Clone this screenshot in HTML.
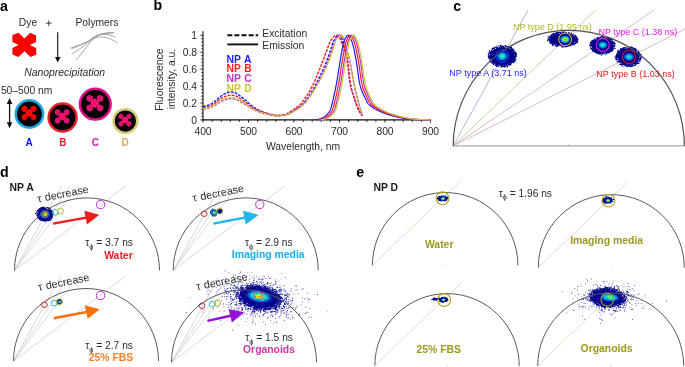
<!DOCTYPE html>
<html><head><meta charset="utf-8"><style>
html,body{margin:0;padding:0;background:#fff;width:685px;height:367px;overflow:hidden}
svg{display:block;font-family:"Liberation Sans",sans-serif;will-change:transform}
</style></head><body>
<svg width="685" height="367" viewBox="0 0 685 367" font-family="Liberation Sans, sans-serif"><text x="0.00" y="10.90" font-size="14.2" fill="#000" font-weight="bold" font-style="normal" text-anchor="start" >a</text>
<text x="153.60" y="10.30" font-size="14.2" fill="#000" font-weight="bold" font-style="normal" text-anchor="start" >b</text>
<text x="453.20" y="10.90" font-size="14.2" fill="#000" font-weight="bold" font-style="normal" text-anchor="start" >c</text>
<text x="0.00" y="177.00" font-size="14.2" fill="#000" font-weight="bold" font-style="normal" text-anchor="start" >d</text>
<text x="356.30" y="176.60" font-size="14.2" fill="#000" font-weight="bold" font-style="normal" text-anchor="start" >e</text>
<text x="18.80" y="25.80" font-size="10.3" fill="#2b2b2b" font-weight="normal" font-style="normal" text-anchor="start" >Dye</text>
<path d="M45.9 23.2 H51.5 M48.7 20.4 V26.0" stroke="#444" stroke-width="1.0"/>
<text x="75.50" y="26.10" font-size="10.3" fill="#2b2b2b" font-weight="normal" font-style="normal" text-anchor="start" >Polymers</text>
<polygon points="12.4,35.0 18.6,32.8 24.4,38.6 30.3,32.8 36.1,35.4 36.1,41.9 29.9,45.0 36.1,47.9 36.4,54.6 30.6,56.9 24.4,51.2 18.6,56.9 12.4,54.6 12.4,47.9 18.6,45.0 12.4,41.9" fill="#ff0000"/>
<line x1="57.7" y1="32.2" x2="57.7" y2="58" stroke="#222" stroke-width="1.2"/>
<polygon points="55,57 60.5,57 57.75,62.4" fill="#111"/>
<g fill="none" stroke="#8a8a8a" stroke-width="0.75"><path d="M70.5 48.1 C80 45 88 42 93 38.5 C100 33.5 106 32.3 114.1 32.4"/><path d="M71.2 48.8 C80 45.5 88 42.5 93.5 37.5 C100 33 108 33.5 115.6 37.3"/><path d="M71.9 54 C80 49 87 44 91.6 39.3 C97 34 106 33 113 33.3"/><path d="M75.9 60.4 C82 53 88 45 92 40 C97 35 108 36 117.6 43.2"/></g>
<text x="24.20" y="76.30" font-size="10.4" fill="#2b2b2b" font-weight="normal" font-style="italic" text-anchor="start" >Nanoprecipitation</text>
<text x="0.90" y="93.60" font-size="10.3" fill="#2b2b2b" font-weight="normal" font-style="normal" text-anchor="start" >50–500 nm</text>
<line x1="9.6" y1="103" x2="9.6" y2="123" stroke="#111" stroke-width="1.3"/>
<polygon points="6.8,104 12.4,104 9.6,98" fill="#111"/>
<polygon points="6.8,122.2 12.4,122.2 9.6,128.2" fill="#111"/>
<circle cx="29.4" cy="114.0" r="13.75" fill="#000" stroke="#1eaae6" stroke-width="2.5"/>
<polygon points="27.33,110.54 24.49,112.18 21.65,110.54 21.65,107.26 24.49,105.62 27.33,107.26" fill="#ff0000"/><polygon points="36.35,110.54 33.51,112.18 30.67,110.54 30.67,107.26 33.51,105.62 36.35,107.26" fill="#ff0000"/><polygon points="27.33,118.74 24.49,120.38 21.65,118.74 21.65,115.46 24.49,113.82 27.33,115.46" fill="#ff0000"/><polygon points="36.35,118.74 33.51,120.38 30.67,118.74 30.67,115.46 33.51,113.82 36.35,115.46" fill="#ff0000"/><polygon points="29.00,108.69 32.48,111.56 32.48,114.44 29.00,117.31 25.52,114.44 25.52,111.56" fill="#ff0a0a"/>
<circle cx="62.6" cy="117.5" r="13.95" fill="#000" stroke="#e0202a" stroke-width="2.5"/>
<polygon points="60.53,114.04 57.69,115.68 54.85,114.04 54.85,110.76 57.69,109.12 60.53,110.76" fill="#d81470"/><polygon points="69.55,114.04 66.71,115.68 63.87,114.04 63.87,110.76 66.71,109.12 69.55,110.76" fill="#d81470"/><polygon points="60.53,122.24 57.69,123.88 54.85,122.24 54.85,118.96 57.69,117.32 60.53,118.96" fill="#d81470"/><polygon points="69.55,122.24 66.71,123.88 63.87,122.24 63.87,118.96 66.71,117.32 69.55,118.96" fill="#d81470"/><polygon points="62.20,112.19 65.69,115.06 65.69,117.94 62.20,120.81 58.72,117.94 58.72,115.06" fill="#ff1070"/>
<circle cx="95.3" cy="104.2" r="15.350000000000001" fill="#000" stroke="#e0108c" stroke-width="2.5"/>
<polygon points="92.97,100.35 89.67,102.25 86.38,100.35 86.38,96.55 89.67,94.65 92.97,96.55" fill="#d8146c"/><polygon points="103.42,100.35 100.12,102.25 96.83,100.35 96.83,96.55 100.12,94.65 103.42,96.55" fill="#d8146c"/><polygon points="92.97,109.85 89.67,111.75 86.38,109.85 86.38,106.05 89.67,104.15 92.97,106.05" fill="#d8146c"/><polygon points="103.42,109.85 100.12,111.75 96.83,109.85 96.83,106.05 100.12,104.15 103.42,106.05" fill="#d8146c"/><polygon points="94.90,98.21 98.94,101.54 98.94,104.86 94.90,108.19 90.86,104.86 90.86,101.54" fill="#ff1070"/>
<circle cx="125.4" cy="121.1" r="11.85" fill="#000" stroke="#d6ca78" stroke-width="2.5"/>
<polygon points="123.51,117.91 120.98,119.37 118.46,117.91 118.46,114.99 120.98,113.53 123.51,114.99" fill="#d81468"/><polygon points="131.54,117.91 129.01,119.37 126.49,117.91 126.49,114.99 129.01,113.53 131.54,114.99" fill="#d81468"/><polygon points="123.51,125.21 120.98,126.67 118.46,125.21 118.46,122.29 120.98,120.83 123.51,122.29" fill="#d81468"/><polygon points="131.54,125.21 129.01,126.67 126.49,125.21 126.49,122.29 129.01,120.83 131.54,122.29" fill="#d81468"/><polygon points="125.00,116.27 128.10,118.82 128.10,121.38 125.00,123.93 121.90,121.38 121.90,118.82" fill="#ff1070"/>
<text x="29.20" y="145.90" font-size="10" fill="#0a0af0" font-weight="bold" font-style="normal" text-anchor="middle" >A</text>
<text x="62.90" y="145.90" font-size="10" fill="#ee1c2a" font-weight="bold" font-style="normal" text-anchor="middle" >B</text>
<text x="95.30" y="145.90" font-size="10" fill="#e0189a" font-weight="bold" font-style="normal" text-anchor="middle" >C</text>
<text x="125.20" y="145.90" font-size="10" fill="#d8a860" font-weight="bold" font-style="normal" text-anchor="middle" >D</text>
<line x1="203.0" y1="31.2" x2="203.0" y2="120.5" stroke="#111" stroke-width="1.1"/>
<line x1="202.5" y1="119.9" x2="431.0" y2="119.9" stroke="#111" stroke-width="1.1"/>
<path d="M200.40 119.90H203.0M201.40 116.52H203.0M201.40 113.13H203.0M201.40 109.75H203.0M201.40 106.36H203.0M200.40 102.98H203.0M201.40 99.60H203.0M201.40 96.21H203.0M201.40 92.83H203.0M201.40 89.44H203.0M200.40 86.06H203.0M201.40 82.68H203.0M201.40 79.29H203.0M201.40 75.91H203.0M201.40 72.52H203.0M200.40 69.14H203.0M201.40 65.76H203.0M201.40 62.37H203.0M201.40 58.99H203.0M201.40 55.60H203.0M200.40 52.22H203.0M201.40 48.84H203.0M201.40 45.45H203.0M201.40 42.07H203.0M201.40 38.68H203.0M200.40 35.30H203.0M203.00 119.9V122.50M212.10 119.9V121.90M221.20 119.9V121.90M230.30 119.9V121.90M239.40 119.9V121.90M248.50 119.9V122.50M257.60 119.9V121.90M266.70 119.9V121.90M275.80 119.9V121.90M284.90 119.9V121.90M294.00 119.9V122.50M303.10 119.9V121.90M312.20 119.9V121.90M321.30 119.9V121.90M330.40 119.9V121.90M339.50 119.9V122.50M348.60 119.9V121.90M357.70 119.9V121.90M366.80 119.9V121.90M375.90 119.9V121.90M385.00 119.9V122.50M394.10 119.9V121.90M403.20 119.9V121.90M412.30 119.9V121.90M421.40 119.9V121.90M430.50 119.9V122.50" stroke="#111" stroke-width="0.9"/>
<text x="197.00" y="123.50" font-size="10.3" fill="#2b2b2b" font-weight="normal" font-style="normal" text-anchor="end" >0</text>
<text x="197.00" y="106.58" font-size="10.3" fill="#2b2b2b" font-weight="normal" font-style="normal" text-anchor="end" >0.2</text>
<text x="197.00" y="89.66" font-size="10.3" fill="#2b2b2b" font-weight="normal" font-style="normal" text-anchor="end" >0.4</text>
<text x="197.00" y="72.74" font-size="10.3" fill="#2b2b2b" font-weight="normal" font-style="normal" text-anchor="end" >0.6</text>
<text x="197.00" y="55.82" font-size="10.3" fill="#2b2b2b" font-weight="normal" font-style="normal" text-anchor="end" >0.8</text>
<text x="197.00" y="38.90" font-size="10.3" fill="#2b2b2b" font-weight="normal" font-style="normal" text-anchor="end" >1</text>
<text x="203.00" y="134.50" font-size="10.3" fill="#2b2b2b" font-weight="normal" font-style="normal" text-anchor="middle" >400</text>
<text x="248.50" y="134.50" font-size="10.3" fill="#2b2b2b" font-weight="normal" font-style="normal" text-anchor="middle" >500</text>
<text x="294.00" y="134.50" font-size="10.3" fill="#2b2b2b" font-weight="normal" font-style="normal" text-anchor="middle" >600</text>
<text x="339.50" y="134.50" font-size="10.3" fill="#2b2b2b" font-weight="normal" font-style="normal" text-anchor="middle" >700</text>
<text x="385.00" y="134.50" font-size="10.3" fill="#2b2b2b" font-weight="normal" font-style="normal" text-anchor="middle" >800</text>
<text x="430.50" y="134.50" font-size="10.3" fill="#2b2b2b" font-weight="normal" font-style="normal" text-anchor="middle" >900</text>
<text x="303.00" y="150.10" font-size="10.3" fill="#2b2b2b" font-weight="normal" font-style="normal" text-anchor="middle" >Wavelength, nm</text>
<text transform="translate(163.3,79.6) rotate(-90)" font-size="10.4" fill="#2b2b2b" text-anchor="middle">Fluorescence</text>
<text transform="translate(175.3,79.0) rotate(-90)" font-size="10.4" fill="#2b2b2b" text-anchor="middle">intensity, a.u.</text>
<line x1="227.3" y1="35.2" x2="258.2" y2="35.2" stroke="#111" stroke-width="1.9" stroke-dasharray="5,2.1"/>
<line x1="227.3" y1="44.4" x2="258.2" y2="44.4" stroke="#111" stroke-width="1.9"/>
<text x="262.30" y="37.20" font-size="10.35" fill="#2b2b2b" font-weight="normal" font-style="normal" text-anchor="start" >Excitation</text>
<text x="262.30" y="49.30" font-size="10.35" fill="#2b2b2b" font-weight="normal" font-style="normal" text-anchor="start" >Emission</text>
<text x="226.60" y="62.50" font-size="10.3" fill="#1c1cff" font-weight="bold" font-style="normal" text-anchor="start" word-spacing="0.8">NP A</text>
<text x="226.60" y="72.33" font-size="10.3" fill="#ff1a1a" font-weight="bold" font-style="normal" text-anchor="start" word-spacing="0.8">NP B</text>
<text x="226.60" y="82.16" font-size="10.3" fill="#c030c8" font-weight="bold" font-style="normal" text-anchor="start" word-spacing="0.8">NP C</text>
<text x="226.60" y="91.99" font-size="10.3" fill="#c8c830" font-weight="bold" font-style="normal" text-anchor="start" word-spacing="0.8">NP D</text>
<path d="M203.00,106.70 L203.23,106.64 L203.46,106.57 L203.68,106.51 L203.91,106.44 L204.14,106.38 L204.37,106.32 L204.59,106.26 L204.82,106.20 L205.05,106.14 L205.28,106.08 L205.50,106.03 L205.73,105.97 L205.96,105.91 L206.19,105.85 L206.41,105.79 L206.64,105.73 L206.87,105.66 L207.09,105.60 L207.32,105.53 L207.55,105.47 L207.78,105.40 L208.00,105.33 L208.23,105.25 L208.46,105.18 L208.69,105.10 L208.91,105.02 L209.14,104.94 L209.37,104.85 L209.60,104.76 L209.82,104.67 L210.05,104.57 L210.28,104.47 L210.51,104.36 L210.74,104.24 L210.96,104.12 L211.19,103.99 L211.42,103.86 L211.65,103.72 L211.87,103.58 L212.10,103.43 L212.33,103.28 L212.56,103.13 L212.78,102.97 L213.01,102.81 L213.24,102.65 L213.47,102.48 L213.69,102.32 L213.92,102.15 L214.15,101.98 L214.38,101.81 L214.60,101.64 L214.83,101.46 L215.06,101.29 L215.28,101.12 L215.51,100.94 L215.74,100.76 L215.97,100.57 L216.19,100.37 L216.42,100.16 L216.65,99.95 L216.88,99.74 L217.10,99.52 L217.33,99.30 L217.56,99.08 L217.79,98.86 L218.01,98.64 L218.24,98.42 L218.47,98.20 L218.70,97.98 L218.93,97.77 L219.15,97.57 L219.38,97.36 L219.61,97.17 L219.84,96.98 L220.06,96.80 L220.29,96.64 L220.52,96.47 L220.75,96.31 L220.97,96.14 L221.20,95.98 L221.43,95.82 L221.66,95.67 L221.88,95.51 L222.11,95.36 L222.34,95.21 L222.56,95.06 L222.79,94.91 L223.02,94.77 L223.25,94.63 L223.47,94.50 L223.70,94.37 L223.93,94.24 L224.16,94.12 L224.38,94.00 L224.61,93.89 L224.84,93.79 L225.07,93.68 L225.30,93.59 L225.52,93.50 L225.75,93.40 L225.98,93.31 L226.21,93.21 L226.43,93.11 L226.66,93.02 L226.89,92.92 L227.12,92.83 L227.34,92.74 L227.57,92.66 L227.80,92.57 L228.03,92.50 L228.25,92.42 L228.48,92.35 L228.71,92.29 L228.94,92.23 L229.16,92.19 L229.39,92.14 L229.62,92.11 L229.84,92.09 L230.07,92.07 L230.30,92.07 L230.53,92.07 L230.75,92.08 L230.98,92.09 L231.21,92.10 L231.44,92.12 L231.66,92.15 L231.89,92.18 L232.12,92.21 L232.35,92.24 L232.57,92.28 L232.80,92.32 L233.03,92.37 L233.26,92.41 L233.49,92.46 L233.71,92.51 L233.94,92.56 L234.17,92.62 L234.40,92.68 L234.62,92.73 L234.85,92.79 L235.08,92.85 L235.31,92.91 L235.53,92.98 L235.76,93.06 L235.99,93.15 L236.22,93.26 L236.44,93.38 L236.67,93.50 L236.90,93.63 L237.12,93.78 L237.35,93.93 L237.58,94.08 L237.81,94.24 L238.03,94.41 L238.26,94.58 L238.49,94.75 L238.72,94.92 L238.94,95.10 L239.17,95.28 L239.40,95.45 L239.63,95.62 L239.86,95.80 L240.08,95.96 L240.31,96.13 L240.54,96.29 L240.76,96.46 L240.99,96.62 L241.22,96.79 L241.45,96.96 L241.68,97.14 L241.90,97.31 L242.13,97.49 L242.36,97.67 L242.59,97.85 L242.81,98.03 L243.04,98.21 L243.27,98.40 L243.50,98.58 L243.72,98.77 L243.95,98.96 L244.18,99.15 L244.41,99.34 L244.63,99.53 L244.86,99.72 L245.09,99.91 L245.31,100.10 L245.54,100.30 L245.77,100.50 L246.00,100.70 L246.22,100.91 L246.45,101.12 L246.68,101.33 L246.91,101.55 L247.13,101.77 L247.36,101.98 L247.59,102.20 L247.82,102.42 L248.05,102.64 L248.27,102.85 L248.50,103.07 L248.73,103.28 L248.95,103.49 L249.18,103.70 L249.41,103.90 L249.64,104.10 L249.87,104.30 L250.09,104.49 L250.32,104.67 L250.55,104.85 L250.78,105.03 L251.00,105.21 L251.23,105.39 L251.46,105.56 L251.69,105.73 L251.91,105.90 L252.14,106.07 L252.37,106.24 L252.59,106.40 L252.82,106.57 L253.05,106.73 L253.28,106.89 L253.50,107.04 L253.73,107.20 L253.96,107.35 L254.19,107.50 L254.41,107.65 L254.64,107.80 L254.87,107.94 L255.10,108.08 L255.32,108.23 L255.55,108.36 L255.78,108.50 L256.01,108.64 L256.24,108.77 L256.46,108.91 L256.69,109.04 L256.92,109.17 L257.14,109.30 L257.37,109.43 L257.60,109.55 L257.83,109.68 L258.06,109.80 L258.28,109.92 L258.51,110.04 L258.74,110.15 L258.97,110.26 L259.19,110.37 L259.42,110.48 L259.65,110.58 L259.88,110.68 L260.10,110.78 L260.33,110.87 L260.56,110.96 L260.79,111.05 L261.01,111.14 L261.24,111.22 L261.47,111.31 L261.69,111.39 L261.92,111.47 L262.15,111.55 L262.38,111.63 L262.61,111.71 L262.83,111.79 L263.06,111.86 L263.29,111.94 L263.51,112.01 L263.74,112.09 L263.97,112.16 L264.20,112.24 L264.43,112.31 L264.65,112.39 L264.88,112.47 L265.11,112.55 L265.33,112.62 L265.56,112.70 L265.79,112.79 L266.02,112.87 L266.25,112.95 L266.47,113.03 L266.70,113.12 L266.93,113.20 L267.15,113.29 L267.38,113.37 L267.61,113.45 L267.84,113.54 L268.06,113.62 L268.29,113.70 L268.52,113.78 L268.75,113.86 L268.98,113.94 L269.20,114.02 L269.43,114.09 L269.66,114.16 L269.88,114.23 L270.11,114.30 L270.34,114.36 L270.57,114.43 L270.80,114.49 L271.02,114.54 L271.25,114.60 L271.48,114.67 L271.70,114.73 L271.93,114.79 L272.16,114.85 L272.39,114.92 L272.62,114.98 L272.84,115.04 L273.07,115.10 L273.30,115.15 L273.52,115.21 L273.75,115.26 L273.98,115.30 L274.21,115.35 L274.44,115.38 L274.66,115.42 L274.89,115.45 L275.12,115.47 L275.35,115.49 L275.57,115.50 L275.80,115.50 L276.03,115.50 L276.25,115.50 L276.48,115.50 L276.71,115.50 L276.94,115.50 L277.17,115.49 L277.39,115.49 L277.62,115.49 L277.85,115.49 L278.07,115.48 L278.30,115.48 L278.53,115.48 L278.76,115.47 L278.99,115.47 L279.21,115.47 L279.44,115.46 L279.67,115.46 L279.89,115.45 L280.12,115.45 L280.35,115.44 L280.58,115.43 L280.81,115.43 L281.03,115.42 L281.26,115.42 L281.49,115.41 L281.72,115.40 L281.94,115.38 L282.17,115.36 L282.40,115.34 L282.62,115.31 L282.85,115.28 L283.08,115.25 L283.31,115.21 L283.53,115.17 L283.76,115.13 L283.99,115.09 L284.22,115.04 L284.44,114.99 L284.67,114.94 L284.90,114.89 L285.13,114.83 L285.36,114.78 L285.58,114.72 L285.81,114.66 L286.04,114.60 L286.26,114.54 L286.49,114.47 L286.72,114.41 L286.95,114.34 L287.18,114.28 L287.40,114.21 L287.63,114.15 L287.86,114.08 L288.09,114.00 L288.31,113.92 L288.54,113.83 L288.77,113.74 L289.00,113.64 L289.22,113.54 L289.45,113.43 L289.68,113.32 L289.90,113.21 L290.13,113.09 L290.36,112.96 L290.59,112.83 L290.81,112.70 L291.04,112.57 L291.27,112.43 L291.50,112.29 L291.73,112.15 L291.95,112.01 L292.18,111.86 L292.41,111.71 L292.63,111.56 L292.86,111.41 L293.09,111.26 L293.32,111.11 L293.55,110.96 L293.77,110.81 L294.00,110.65 L294.23,110.50 L294.45,110.35 L294.68,110.20 L294.91,110.05 L295.14,109.90 L295.37,109.75 L295.59,109.60 L295.82,109.45 L296.05,109.31 L296.27,109.16 L296.50,109.01 L296.73,108.86 L296.96,108.71 L297.19,108.56 L297.41,108.41 L297.64,108.26 L297.87,108.11 L298.10,107.95 L298.32,107.79 L298.55,107.64 L298.78,107.48 L299.00,107.31 L299.23,107.15 L299.46,106.98 L299.69,106.81 L299.92,106.64 L300.14,106.47 L300.37,106.29 L300.60,106.11 L300.82,105.93 L301.05,105.74 L301.28,105.55 L301.51,105.36 L301.74,105.17 L301.96,104.97 L302.19,104.76 L302.42,104.55 L302.64,104.34 L302.87,104.12 L303.10,103.90 L303.33,103.67 L303.56,103.43 L303.78,103.19 L304.01,102.93 L304.24,102.67 L304.47,102.40 L304.69,102.13 L304.92,101.85 L305.15,101.56 L305.38,101.27 L305.60,100.97 L305.83,100.67 L306.06,100.36 L306.28,100.05 L306.51,99.73 L306.74,99.41 L306.97,99.09 L307.19,98.76 L307.42,98.43 L307.65,98.10 L307.88,97.76 L308.11,97.42 L308.33,97.08 L308.56,96.74 L308.79,96.39 L309.01,96.05 L309.24,95.70 L309.47,95.35 L309.70,95.01 L309.93,94.66 L310.15,94.31 L310.38,93.96 L310.61,93.60 L310.84,93.24 L311.06,92.87 L311.29,92.50 L311.52,92.13 L311.75,91.75 L311.97,91.37 L312.20,90.98 L312.43,90.59 L312.65,90.20 L312.88,89.80 L313.11,89.40 L313.34,89.00 L313.56,88.59 L313.79,88.19 L314.02,87.77 L314.25,87.36 L314.48,86.94 L314.70,86.53 L314.93,86.11 L315.16,85.68 L315.38,85.26 L315.61,84.83 L315.84,84.40 L316.07,83.97 L316.30,83.54 L316.52,83.11 L316.75,82.68 L316.98,82.24 L317.20,81.80 L317.43,81.36 L317.66,80.92 L317.89,80.48 L318.12,80.03 L318.34,79.58 L318.57,79.13 L318.80,78.68 L319.02,78.23 L319.25,77.77 L319.48,77.31 L319.71,76.84 L319.94,76.38 L320.16,75.91 L320.39,75.44 L320.62,74.96 L320.85,74.48 L321.07,74.00 L321.30,73.52 L321.53,73.03 L321.75,72.54 L321.98,72.05 L322.21,71.55 L322.44,71.05 L322.67,70.55 L322.89,70.04 L323.12,69.53 L323.35,69.01 L323.57,68.50 L323.80,67.97 L324.03,67.45 L324.26,66.92 L324.49,66.38 L324.71,65.84 L324.94,65.29 L325.17,64.73 L325.39,64.17 L325.62,63.61 L325.85,63.04 L326.08,62.46 L326.31,61.88 L326.53,61.30 L326.76,60.71 L326.99,60.12 L327.22,59.52 L327.44,58.92 L327.67,58.32 L327.90,57.71 L328.12,57.11 L328.35,56.50 L328.58,55.88 L328.81,55.27 L329.04,54.65 L329.26,54.03 L329.49,53.41 L329.72,52.79 L329.94,52.17 L330.17,51.54 L330.40,50.89 L330.63,50.20 L330.86,49.48 L331.08,48.74 L331.31,47.99 L331.54,47.24 L331.76,46.48 L331.99,45.73 L332.22,45.00 L332.45,44.28 L332.68,43.59 L332.90,42.94 L333.13,42.32 L333.36,41.75 L333.59,41.23 L333.81,40.77 L334.04,40.38 L334.27,40.02 L334.50,39.66 L334.72,39.30 L334.95,38.95 L335.18,38.61 L335.40,38.27 L335.63,37.94 L335.86,37.63 L336.09,37.32 L336.31,37.04 L336.54,36.76 L336.77,36.51 L337.00,36.27 L337.23,36.06 L337.45,35.87 L337.68,35.70 L337.91,35.56 L338.13,35.45 L338.36,35.37 L338.59,35.32 L338.82,35.30 L339.05,35.32 L339.27,35.39 L339.50,35.49 L339.73,35.63 L339.96,35.80 L340.18,36.00 L340.41,36.22 L340.64,36.46 L340.87,36.72 L341.09,36.99 L341.32,37.35 L341.55,37.85 L341.77,38.48 L342.00,39.21 L342.23,40.03 L342.46,40.90 L342.69,41.82 L342.91,42.76 L343.14,43.69 L343.37,44.59 L343.60,45.45 L343.82,46.27 L344.05,47.08 L344.28,47.89 L344.50,48.69 L344.73,49.50 L344.96,50.31 L345.19,51.14 L345.41,51.98 L345.64,52.85 L345.87,53.75 L346.10,54.68 L346.33,55.65 L346.55,56.66 L346.78,57.72 L347.01,58.83 L347.24,60.00 L347.46,61.32 L347.69,62.84 L347.92,64.53 L348.14,66.36 L348.37,68.29 L348.60,70.29 L348.83,72.32 L349.06,74.35 L349.28,76.34 L349.51,78.27 L349.74,80.09 L349.97,81.77 L350.19,83.29 L350.42,84.59 L350.65,85.69 L350.88,86.71 L351.10,87.68 L351.33,88.60 L351.56,89.48 L351.78,90.31 L352.01,91.11 L352.24,91.88 L352.47,92.61 L352.69,93.33 L352.92,94.02 L353.15,94.71 L353.38,95.38 L353.61,96.05 L353.83,96.71 L354.06,97.38 L354.29,98.06 L354.51,98.75 L354.74,99.45 L354.97,100.15 L355.20,100.85 L355.43,101.55 L355.65,102.24 L355.88,102.92 L356.11,103.60 L356.34,104.26 L356.56,104.91 L356.79,105.55 L357.02,106.16 L357.25,106.76 L357.47,107.33 L357.70,107.88 L357.93,108.41 L358.15,108.90 L358.38,109.37 L358.61,109.82 L358.84,110.25 L359.06,110.67 L359.29,111.07 L359.52,111.46 L359.75,111.84 L359.98,112.21 L360.20,112.58 L360.43,112.93 L360.66,113.28 L360.88,113.63 L361.11,113.98 L361.34,114.33 L361.57,114.69 L361.80,115.05 L362.02,115.41 L362.25,115.78" fill="none" stroke="#1c1cff" stroke-width="1.45" stroke-dasharray="2.8,1.2"/>
<path d="M203.00,107.89 L203.23,107.83 L203.46,107.78 L203.68,107.72 L203.91,107.67 L204.14,107.61 L204.37,107.56 L204.59,107.51 L204.82,107.46 L205.05,107.40 L205.28,107.35 L205.50,107.30 L205.73,107.25 L205.96,107.20 L206.19,107.15 L206.41,107.09 L206.64,107.04 L206.87,106.98 L207.09,106.93 L207.32,106.87 L207.55,106.81 L207.78,106.75 L208.00,106.69 L208.23,106.63 L208.46,106.56 L208.69,106.50 L208.91,106.43 L209.14,106.35 L209.37,106.28 L209.60,106.20 L209.82,106.12 L210.05,106.03 L210.28,105.94 L210.51,105.85 L210.74,105.74 L210.96,105.64 L211.19,105.53 L211.42,105.41 L211.65,105.29 L211.87,105.17 L212.10,105.04 L212.33,104.91 L212.56,104.77 L212.78,104.63 L213.01,104.49 L213.24,104.35 L213.47,104.21 L213.69,104.06 L213.92,103.92 L214.15,103.77 L214.38,103.62 L214.60,103.47 L214.83,103.32 L215.06,103.17 L215.28,103.02 L215.51,102.86 L215.74,102.70 L215.97,102.53 L216.19,102.36 L216.42,102.18 L216.65,102.00 L216.88,101.81 L217.10,101.62 L217.33,101.43 L217.56,101.24 L217.79,101.04 L218.01,100.85 L218.24,100.66 L218.47,100.47 L218.70,100.28 L218.93,100.09 L219.15,99.91 L219.38,99.74 L219.61,99.57 L219.84,99.41 L220.06,99.25 L220.29,99.10 L220.52,98.96 L220.75,98.81 L220.97,98.67 L221.20,98.53 L221.43,98.39 L221.66,98.25 L221.88,98.12 L222.11,97.98 L222.34,97.85 L222.56,97.72 L222.79,97.60 L223.02,97.47 L223.25,97.35 L223.47,97.24 L223.70,97.12 L223.93,97.01 L224.16,96.91 L224.38,96.80 L224.61,96.71 L224.84,96.61 L225.07,96.53 L225.30,96.44 L225.52,96.36 L225.75,96.28 L225.98,96.19 L226.21,96.11 L226.43,96.03 L226.66,95.94 L226.89,95.86 L227.12,95.78 L227.34,95.70 L227.57,95.63 L227.80,95.56 L228.03,95.49 L228.25,95.42 L228.48,95.36 L228.71,95.31 L228.94,95.26 L229.16,95.22 L229.39,95.18 L229.62,95.15 L229.84,95.13 L230.07,95.12 L230.30,95.11 L230.53,95.11 L230.75,95.12 L230.98,95.13 L231.21,95.14 L231.44,95.16 L231.66,95.18 L231.89,95.21 L232.12,95.24 L232.35,95.27 L232.57,95.30 L232.80,95.34 L233.03,95.37 L233.26,95.41 L233.49,95.46 L233.71,95.50 L233.94,95.55 L234.17,95.60 L234.40,95.64 L234.62,95.69 L234.85,95.75 L235.08,95.80 L235.31,95.85 L235.53,95.91 L235.76,95.98 L235.99,96.06 L236.22,96.15 L236.44,96.25 L236.67,96.36 L236.90,96.48 L237.12,96.61 L237.35,96.74 L237.58,96.87 L237.81,97.01 L238.03,97.16 L238.26,97.31 L238.49,97.46 L238.72,97.61 L238.94,97.76 L239.17,97.91 L239.40,98.07 L239.63,98.22 L239.86,98.37 L240.08,98.52 L240.31,98.66 L240.54,98.80 L240.76,98.94 L240.99,99.09 L241.22,99.24 L241.45,99.39 L241.68,99.54 L241.90,99.69 L242.13,99.85 L242.36,100.00 L242.59,100.16 L242.81,100.32 L243.04,100.48 L243.27,100.64 L243.50,100.80 L243.72,100.96 L243.95,101.13 L244.18,101.29 L244.41,101.46 L244.63,101.63 L244.86,101.79 L245.09,101.96 L245.31,102.13 L245.54,102.30 L245.77,102.48 L246.00,102.65 L246.22,102.84 L246.45,103.02 L246.68,103.21 L246.91,103.39 L247.13,103.58 L247.36,103.77 L247.59,103.96 L247.82,104.15 L248.05,104.34 L248.27,104.53 L248.50,104.72 L248.73,104.91 L248.95,105.09 L249.18,105.27 L249.41,105.45 L249.64,105.62 L249.87,105.79 L250.09,105.96 L250.32,106.12 L250.55,106.28 L250.78,106.43 L251.00,106.59 L251.23,106.74 L251.46,106.89 L251.69,107.05 L251.91,107.19 L252.14,107.34 L252.37,107.49 L252.59,107.63 L252.82,107.77 L253.05,107.91 L253.28,108.05 L253.50,108.19 L253.73,108.33 L253.96,108.46 L254.19,108.59 L254.41,108.72 L254.64,108.85 L254.87,108.98 L255.10,109.10 L255.32,109.22 L255.55,109.34 L255.78,109.46 L256.01,109.58 L256.24,109.70 L256.46,109.82 L256.69,109.93 L256.92,110.05 L257.14,110.16 L257.37,110.27 L257.60,110.38 L257.83,110.49 L258.06,110.60 L258.28,110.70 L258.51,110.80 L258.74,110.90 L258.97,111.00 L259.19,111.10 L259.42,111.19 L259.65,111.28 L259.88,111.36 L260.10,111.45 L260.33,111.53 L260.56,111.61 L260.79,111.69 L261.01,111.77 L261.24,111.84 L261.47,111.92 L261.69,111.99 L261.92,112.06 L262.15,112.13 L262.38,112.20 L262.61,112.26 L262.83,112.33 L263.06,112.40 L263.29,112.46 L263.51,112.53 L263.74,112.60 L263.97,112.66 L264.20,112.73 L264.43,112.79 L264.65,112.86 L264.88,112.93 L265.11,113.00 L265.33,113.06 L265.56,113.13 L265.79,113.20 L266.02,113.28 L266.25,113.35 L266.47,113.42 L266.70,113.50 L266.93,113.57 L267.15,113.64 L267.38,113.72 L267.61,113.79 L267.84,113.86 L268.06,113.93 L268.29,114.00 L268.52,114.07 L268.75,114.14 L268.98,114.21 L269.20,114.28 L269.43,114.34 L269.66,114.41 L269.88,114.47 L270.11,114.53 L270.34,114.58 L270.57,114.64 L270.80,114.69 L271.02,114.74 L271.25,114.79 L271.48,114.85 L271.70,114.90 L271.93,114.96 L272.16,115.01 L272.39,115.07 L272.62,115.12 L272.84,115.17 L273.07,115.22 L273.30,115.27 L273.52,115.32 L273.75,115.36 L273.98,115.40 L274.21,115.44 L274.44,115.47 L274.66,115.50 L274.89,115.53 L275.12,115.55 L275.35,115.56 L275.57,115.57 L275.80,115.58 L276.03,115.58 L276.25,115.57 L276.48,115.57 L276.71,115.57 L276.94,115.56 L277.17,115.56 L277.39,115.55 L277.62,115.54 L277.85,115.54 L278.07,115.53 L278.30,115.52 L278.53,115.51 L278.76,115.50 L278.99,115.48 L279.21,115.47 L279.44,115.46 L279.67,115.44 L279.89,115.43 L280.12,115.41 L280.35,115.40 L280.58,115.38 L280.81,115.37 L281.03,115.35 L281.26,115.33 L281.49,115.31 L281.72,115.29 L281.94,115.25 L282.17,115.22 L282.40,115.18 L282.62,115.13 L282.85,115.08 L283.08,115.03 L283.31,114.97 L283.53,114.91 L283.76,114.85 L283.99,114.78 L284.22,114.71 L284.44,114.64 L284.67,114.56 L284.90,114.48 L285.13,114.40 L285.36,114.32 L285.58,114.24 L285.81,114.15 L286.04,114.07 L286.26,113.98 L286.49,113.90 L286.72,113.81 L286.95,113.72 L287.18,113.62 L287.40,113.52 L287.63,113.40 L287.86,113.29 L288.09,113.16 L288.31,113.04 L288.54,112.90 L288.77,112.77 L289.00,112.63 L289.22,112.48 L289.45,112.33 L289.68,112.18 L289.90,112.02 L290.13,111.87 L290.36,111.71 L290.59,111.55 L290.81,111.38 L291.04,111.22 L291.27,111.05 L291.50,110.89 L291.73,110.72 L291.95,110.56 L292.18,110.39 L292.41,110.23 L292.63,110.07 L292.86,109.91 L293.09,109.75 L293.32,109.59 L293.55,109.43 L293.77,109.28 L294.00,109.12 L294.23,108.97 L294.45,108.81 L294.68,108.66 L294.91,108.50 L295.14,108.35 L295.37,108.19 L295.59,108.03 L295.82,107.87 L296.05,107.71 L296.27,107.55 L296.50,107.39 L296.73,107.23 L296.96,107.06 L297.19,106.89 L297.41,106.72 L297.64,106.55 L297.87,106.37 L298.10,106.19 L298.32,106.01 L298.55,105.83 L298.78,105.64 L299.00,105.45 L299.23,105.25 L299.46,105.05 L299.69,104.85 L299.92,104.64 L300.14,104.43 L300.37,104.21 L300.60,103.99 L300.82,103.76 L301.05,103.52 L301.28,103.28 L301.51,103.03 L301.74,102.77 L301.96,102.51 L302.19,102.24 L302.42,101.96 L302.64,101.68 L302.87,101.39 L303.10,101.10 L303.33,100.80 L303.56,100.50 L303.78,100.19 L304.01,99.88 L304.24,99.56 L304.47,99.24 L304.69,98.92 L304.92,98.59 L305.15,98.26 L305.38,97.93 L305.60,97.59 L305.83,97.25 L306.06,96.90 L306.28,96.56 L306.51,96.21 L306.74,95.86 L306.97,95.51 L307.19,95.16 L307.42,94.80 L307.65,94.45 L307.88,94.09 L308.11,93.73 L308.33,93.36 L308.56,92.98 L308.79,92.60 L309.01,92.22 L309.24,91.83 L309.47,91.43 L309.70,91.04 L309.93,90.63 L310.15,90.22 L310.38,89.81 L310.61,89.40 L310.84,88.97 L311.06,88.55 L311.29,88.12 L311.52,87.69 L311.75,87.25 L311.97,86.81 L312.20,86.36 L312.43,85.91 L312.65,85.46 L312.88,85.01 L313.11,84.55 L313.34,84.08 L313.56,83.62 L313.79,83.15 L314.02,82.68 L314.25,82.20 L314.48,81.71 L314.70,81.22 L314.93,80.72 L315.16,80.21 L315.38,79.70 L315.61,79.18 L315.84,78.66 L316.07,78.13 L316.30,77.59 L316.52,77.05 L316.75,76.51 L316.98,75.96 L317.20,75.40 L317.43,74.85 L317.66,74.29 L317.89,73.73 L318.12,73.16 L318.34,72.60 L318.57,72.03 L318.80,71.46 L319.02,70.89 L319.25,70.31 L319.48,69.74 L319.71,69.17 L319.94,68.59 L320.16,68.02 L320.39,67.45 L320.62,66.87 L320.85,66.29 L321.07,65.71 L321.30,65.12 L321.53,64.52 L321.75,63.93 L321.98,63.32 L322.21,62.72 L322.44,62.11 L322.67,61.50 L322.89,60.89 L323.12,60.28 L323.35,59.67 L323.57,59.05 L323.80,58.44 L324.03,57.83 L324.26,57.21 L324.49,56.60 L324.71,55.99 L324.94,55.38 L325.17,54.78 L325.39,54.17 L325.62,53.57 L325.85,52.98 L326.08,52.38 L326.31,51.80 L326.53,51.20 L326.76,50.58 L326.99,49.95 L327.22,49.30 L327.44,48.65 L327.67,47.99 L327.90,47.33 L328.12,46.67 L328.35,46.02 L328.58,45.38 L328.81,44.75 L329.04,44.15 L329.26,43.56 L329.49,43.00 L329.72,42.46 L329.94,41.97 L330.17,41.50 L330.40,41.08 L330.63,40.70 L330.86,40.38 L331.08,40.07 L331.31,39.77 L331.54,39.47 L331.76,39.17 L331.99,38.88 L332.22,38.59 L332.45,38.31 L332.68,38.04 L332.90,37.77 L333.13,37.51 L333.36,37.26 L333.59,37.02 L333.81,36.79 L334.04,36.58 L334.27,36.38 L334.50,36.19 L334.72,36.02 L334.95,35.86 L335.18,35.72 L335.40,35.60 L335.63,35.50 L335.86,35.42 L336.09,35.36 L336.31,35.32 L336.54,35.30 L336.77,35.31 L337.00,35.37 L337.23,35.45 L337.45,35.58 L337.68,35.72 L337.91,35.90 L338.13,36.09 L338.36,36.30 L338.59,36.52 L338.82,36.76 L339.05,36.99 L339.27,37.27 L339.50,37.61 L339.73,38.02 L339.96,38.49 L340.18,39.01 L340.41,39.56 L340.64,40.15 L340.87,40.77 L341.09,41.41 L341.32,42.05 L341.55,42.70 L341.77,43.35 L342.00,43.99 L342.23,44.61 L342.46,45.21 L342.69,45.80 L342.91,46.38 L343.14,46.96 L343.37,47.54 L343.60,48.12 L343.82,48.70 L344.05,49.29 L344.28,49.90 L344.50,50.51 L344.73,51.14 L344.96,51.79 L345.19,52.47 L345.41,53.17 L345.64,53.89 L345.87,54.65 L346.10,55.44 L346.33,56.27 L346.55,57.14 L346.78,58.04 L347.01,59.00 L347.24,60.00 L347.46,61.17 L347.69,62.58 L347.92,64.21 L348.14,66.00 L348.37,67.92 L348.60,69.93 L348.83,72.00 L349.06,74.08 L349.28,76.12 L349.51,78.11 L349.74,79.99 L349.97,81.72 L350.19,83.26 L350.42,84.59 L350.65,85.69 L350.88,86.71 L351.10,87.68 L351.33,88.60 L351.56,89.48 L351.78,90.31 L352.01,91.11 L352.24,91.88 L352.47,92.61 L352.69,93.33 L352.92,94.02 L353.15,94.71 L353.38,95.38 L353.61,96.05 L353.83,96.71 L354.06,97.38 L354.29,98.06 L354.51,98.75 L354.74,99.45 L354.97,100.15 L355.20,100.85 L355.43,101.55 L355.65,102.24 L355.88,102.92 L356.11,103.60 L356.34,104.26 L356.56,104.91 L356.79,105.55 L357.02,106.16 L357.25,106.76 L357.47,107.33 L357.70,107.88 L357.93,108.41 L358.15,108.90 L358.38,109.37 L358.61,109.82 L358.84,110.25 L359.06,110.67 L359.29,111.07 L359.52,111.46 L359.75,111.84 L359.98,112.21 L360.20,112.58 L360.43,112.93 L360.66,113.28 L360.88,113.63 L361.11,113.98 L361.34,114.33 L361.57,114.69 L361.80,115.05 L362.02,115.41 L362.25,115.78" fill="none" stroke="#ff1a1a" stroke-width="1.45" stroke-dasharray="2.8,1.2"/>
<path d="M203.00,109.25 L203.23,109.20 L203.46,109.15 L203.68,109.11 L203.91,109.06 L204.14,109.02 L204.37,108.97 L204.59,108.93 L204.82,108.88 L205.05,108.84 L205.28,108.80 L205.50,108.76 L205.73,108.71 L205.96,108.67 L206.19,108.63 L206.41,108.58 L206.64,108.54 L206.87,108.49 L207.09,108.44 L207.32,108.40 L207.55,108.35 L207.78,108.30 L208.00,108.25 L208.23,108.19 L208.46,108.14 L208.69,108.08 L208.91,108.02 L209.14,107.96 L209.37,107.90 L209.60,107.84 L209.82,107.77 L210.05,107.70 L210.28,107.62 L210.51,107.54 L210.74,107.46 L210.96,107.37 L211.19,107.27 L211.42,107.18 L211.65,107.08 L211.87,106.97 L212.10,106.87 L212.33,106.76 L212.56,106.64 L212.78,106.53 L213.01,106.41 L213.24,106.29 L213.47,106.17 L213.69,106.05 L213.92,105.93 L214.15,105.81 L214.38,105.68 L214.60,105.56 L214.83,105.43 L215.06,105.30 L215.28,105.18 L215.51,105.05 L215.74,104.92 L215.97,104.78 L216.19,104.63 L216.42,104.48 L216.65,104.33 L216.88,104.17 L217.10,104.01 L217.33,103.85 L217.56,103.69 L217.79,103.53 L218.01,103.37 L218.24,103.21 L218.47,103.05 L218.70,102.89 L218.93,102.74 L219.15,102.59 L219.38,102.44 L219.61,102.30 L219.84,102.16 L220.06,102.03 L220.29,101.91 L220.52,101.79 L220.75,101.67 L220.97,101.55 L221.20,101.44 L221.43,101.32 L221.66,101.20 L221.88,101.09 L222.11,100.98 L222.34,100.87 L222.56,100.76 L222.79,100.66 L223.02,100.55 L223.25,100.45 L223.47,100.35 L223.70,100.26 L223.93,100.17 L224.16,100.08 L224.38,99.99 L224.61,99.91 L224.84,99.83 L225.07,99.76 L225.30,99.69 L225.52,99.62 L225.75,99.55 L225.98,99.48 L226.21,99.41 L226.43,99.34 L226.66,99.27 L226.89,99.21 L227.12,99.14 L227.34,99.07 L227.57,99.01 L227.80,98.95 L228.03,98.89 L228.25,98.84 L228.48,98.79 L228.71,98.74 L228.94,98.70 L229.16,98.67 L229.39,98.64 L229.62,98.61 L229.84,98.60 L230.07,98.58 L230.30,98.58 L230.53,98.58 L230.75,98.59 L230.98,98.60 L231.21,98.61 L231.44,98.62 L231.66,98.64 L231.89,98.66 L232.12,98.68 L232.35,98.71 L232.57,98.74 L232.80,98.77 L233.03,98.80 L233.26,98.83 L233.49,98.87 L233.71,98.91 L233.94,98.94 L234.17,98.98 L234.40,99.02 L234.62,99.07 L234.85,99.11 L235.08,99.15 L235.31,99.20 L235.53,99.25 L235.76,99.31 L235.99,99.37 L236.22,99.45 L236.44,99.53 L236.67,99.63 L236.90,99.72 L237.12,99.83 L237.35,99.94 L237.58,100.05 L237.81,100.17 L238.03,100.29 L238.26,100.41 L238.49,100.54 L238.72,100.66 L238.94,100.79 L239.17,100.92 L239.40,101.05 L239.63,101.17 L239.86,101.30 L240.08,101.42 L240.31,101.54 L240.54,101.66 L240.76,101.78 L240.99,101.90 L241.22,102.02 L241.45,102.15 L241.68,102.28 L241.90,102.40 L242.13,102.53 L242.36,102.66 L242.59,102.79 L242.81,102.93 L243.04,103.06 L243.27,103.19 L243.50,103.33 L243.72,103.47 L243.95,103.60 L244.18,103.74 L244.41,103.88 L244.63,104.02 L244.86,104.16 L245.09,104.30 L245.31,104.44 L245.54,104.58 L245.77,104.73 L246.00,104.88 L246.22,105.03 L246.45,105.18 L246.68,105.34 L246.91,105.49 L247.13,105.65 L247.36,105.81 L247.59,105.97 L247.82,106.13 L248.05,106.29 L248.27,106.44 L248.50,106.60 L248.73,106.75 L248.95,106.91 L249.18,107.06 L249.41,107.21 L249.64,107.35 L249.87,107.50 L250.09,107.63 L250.32,107.77 L250.55,107.90 L250.78,108.03 L251.00,108.16 L251.23,108.29 L251.46,108.42 L251.69,108.54 L251.91,108.67 L252.14,108.79 L252.37,108.91 L252.59,109.03 L252.82,109.15 L253.05,109.27 L253.28,109.38 L253.50,109.50 L253.73,109.61 L253.96,109.72 L254.19,109.83 L254.41,109.94 L254.64,110.05 L254.87,110.15 L255.10,110.26 L255.32,110.36 L255.55,110.46 L255.78,110.56 L256.01,110.66 L256.24,110.76 L256.46,110.86 L256.69,110.95 L256.92,111.05 L257.14,111.14 L257.37,111.24 L257.60,111.33 L257.83,111.42 L258.06,111.51 L258.28,111.59 L258.51,111.68 L258.74,111.76 L258.97,111.84 L259.19,111.92 L259.42,112.00 L259.65,112.07 L259.88,112.15 L260.10,112.22 L260.33,112.29 L260.56,112.35 L260.79,112.42 L261.01,112.48 L261.24,112.54 L261.47,112.61 L261.69,112.67 L261.92,112.73 L262.15,112.78 L262.38,112.84 L262.61,112.90 L262.83,112.95 L263.06,113.01 L263.29,113.06 L263.51,113.12 L263.74,113.17 L263.97,113.23 L264.20,113.28 L264.43,113.34 L264.65,113.39 L264.88,113.45 L265.11,113.51 L265.33,113.56 L265.56,113.62 L265.79,113.68 L266.02,113.74 L266.25,113.80 L266.47,113.86 L266.70,113.92 L266.93,113.99 L267.15,114.05 L267.38,114.11 L267.61,114.17 L267.84,114.23 L268.06,114.29 L268.29,114.35 L268.52,114.41 L268.75,114.47 L268.98,114.52 L269.20,114.58 L269.43,114.63 L269.66,114.69 L269.88,114.74 L270.11,114.79 L270.34,114.83 L270.57,114.88 L270.80,114.92 L271.02,114.96 L271.25,115.01 L271.48,115.05 L271.70,115.10 L271.93,115.14 L272.16,115.19 L272.39,115.24 L272.62,115.28 L272.84,115.32 L273.07,115.37 L273.30,115.41 L273.52,115.45 L273.75,115.48 L273.98,115.52 L274.21,115.55 L274.44,115.58 L274.66,115.60 L274.89,115.62 L275.12,115.64 L275.35,115.65 L275.57,115.66 L275.80,115.66 L276.03,115.66 L276.25,115.66 L276.48,115.66 L276.71,115.65 L276.94,115.65 L277.17,115.64 L277.39,115.63 L277.62,115.63 L277.85,115.62 L278.07,115.61 L278.30,115.60 L278.53,115.59 L278.76,115.58 L278.99,115.56 L279.21,115.55 L279.44,115.54 L279.67,115.52 L279.89,115.51 L280.12,115.50 L280.35,115.48 L280.58,115.46 L280.81,115.45 L281.03,115.43 L281.26,115.42 L281.49,115.40 L281.72,115.38 L281.94,115.35 L282.17,115.33 L282.40,115.30 L282.62,115.27 L282.85,115.24 L283.08,115.20 L283.31,115.16 L283.53,115.12 L283.76,115.08 L283.99,115.04 L284.22,114.99 L284.44,114.95 L284.67,114.90 L284.90,114.85 L285.13,114.80 L285.36,114.74 L285.58,114.69 L285.81,114.63 L286.04,114.57 L286.26,114.52 L286.49,114.46 L286.72,114.40 L286.95,114.34 L287.18,114.27 L287.40,114.21 L287.63,114.15 L287.86,114.08 L288.09,114.01 L288.31,113.94 L288.54,113.86 L288.77,113.78 L289.00,113.69 L289.22,113.61 L289.45,113.51 L289.68,113.42 L289.90,113.32 L290.13,113.22 L290.36,113.12 L290.59,113.01 L290.81,112.90 L291.04,112.79 L291.27,112.67 L291.50,112.55 L291.73,112.44 L291.95,112.31 L292.18,112.19 L292.41,112.07 L292.63,111.94 L292.86,111.81 L293.09,111.68 L293.32,111.55 L293.55,111.41 L293.77,111.28 L294.00,111.14 L294.23,111.01 L294.45,110.87 L294.68,110.73 L294.91,110.59 L295.14,110.45 L295.37,110.31 L295.59,110.17 L295.82,110.03 L296.05,109.89 L296.27,109.75 L296.50,109.61 L296.73,109.46 L296.96,109.32 L297.19,109.17 L297.41,109.02 L297.64,108.87 L297.87,108.72 L298.10,108.56 L298.32,108.40 L298.55,108.25 L298.78,108.08 L299.00,107.92 L299.23,107.75 L299.46,107.58 L299.69,107.41 L299.92,107.24 L300.14,107.06 L300.37,106.89 L300.60,106.70 L300.82,106.52 L301.05,106.33 L301.28,106.14 L301.51,105.95 L301.74,105.75 L301.96,105.56 L302.19,105.36 L302.42,105.15 L302.64,104.94 L302.87,104.73 L303.10,104.52 L303.33,104.30 L303.56,104.08 L303.78,103.85 L304.01,103.62 L304.24,103.38 L304.47,103.13 L304.69,102.88 L304.92,102.62 L305.15,102.35 L305.38,102.08 L305.60,101.80 L305.83,101.52 L306.06,101.23 L306.28,100.94 L306.51,100.65 L306.74,100.35 L306.97,100.04 L307.19,99.73 L307.42,99.42 L307.65,99.11 L307.88,98.79 L308.11,98.47 L308.33,98.15 L308.56,97.82 L308.79,97.50 L309.01,97.17 L309.24,96.84 L309.47,96.51 L309.70,96.18 L309.93,95.85 L310.15,95.51 L310.38,95.18 L310.61,94.85 L310.84,94.52 L311.06,94.19 L311.29,93.85 L311.52,93.52 L311.75,93.18 L311.97,92.84 L312.20,92.50 L312.43,92.15 L312.65,91.81 L312.88,91.46 L313.11,91.10 L313.34,90.75 L313.56,90.39 L313.79,90.03 L314.02,89.67 L314.25,89.31 L314.48,88.94 L314.70,88.57 L314.93,88.20 L315.16,87.82 L315.38,87.45 L315.61,87.06 L315.84,86.68 L316.07,86.29 L316.30,85.90 L316.52,85.51 L316.75,85.12 L316.98,84.72 L317.20,84.32 L317.43,83.91 L317.66,83.50 L317.89,83.09 L318.12,82.68 L318.34,82.26 L318.57,81.83 L318.80,81.41 L319.02,80.98 L319.25,80.54 L319.48,80.10 L319.71,79.66 L319.94,79.21 L320.16,78.76 L320.39,78.30 L320.62,77.84 L320.85,77.38 L321.07,76.91 L321.30,76.44 L321.53,75.97 L321.75,75.49 L321.98,75.01 L322.21,74.53 L322.44,74.04 L322.67,73.55 L322.89,73.06 L323.12,72.56 L323.35,72.06 L323.57,71.56 L323.80,71.06 L324.03,70.55 L324.26,70.04 L324.49,69.53 L324.71,69.01 L324.94,68.49 L325.17,67.97 L325.39,67.45 L325.62,66.92 L325.85,66.39 L326.08,65.85 L326.31,65.31 L326.53,64.77 L326.76,64.22 L326.99,63.67 L327.22,63.11 L327.44,62.55 L327.67,61.98 L327.90,61.41 L328.12,60.83 L328.35,60.26 L328.58,59.67 L328.81,59.09 L329.04,58.50 L329.26,57.91 L329.49,57.31 L329.72,56.71 L329.94,56.11 L330.17,55.50 L330.40,54.89 L330.63,54.28 L330.86,53.66 L331.08,53.04 L331.31,52.42 L331.54,51.80 L331.76,51.15 L331.99,50.46 L332.22,49.74 L332.45,48.99 L332.68,48.22 L332.90,47.44 L333.13,46.66 L333.36,45.89 L333.59,45.12 L333.81,44.38 L334.04,43.66 L334.27,42.98 L334.50,42.35 L334.72,41.76 L334.95,41.23 L335.18,40.77 L335.40,40.38 L335.63,40.03 L335.86,39.68 L336.09,39.33 L336.31,38.99 L336.54,38.66 L336.77,38.34 L337.00,38.02 L337.23,37.71 L337.45,37.42 L337.68,37.14 L337.91,36.87 L338.13,36.62 L338.36,36.39 L338.59,36.18 L338.82,35.98 L339.05,35.81 L339.27,35.66 L339.50,35.53 L339.73,35.43 L339.96,35.36 L340.18,35.32 L340.41,35.30 L340.64,35.32 L340.87,35.39 L341.09,35.49 L341.32,35.63 L341.55,35.81 L341.77,36.00 L342.00,36.23 L342.23,36.47 L342.46,36.72 L342.69,36.99 L342.91,37.35 L343.14,37.85 L343.37,38.47 L343.60,39.21 L343.82,40.02 L344.05,40.90 L344.28,41.82 L344.50,42.76 L344.73,43.70 L344.96,44.62 L345.19,45.49 L345.41,46.30 L345.64,47.06 L345.87,47.80 L346.10,48.53 L346.33,49.25 L346.55,49.96 L346.78,50.67 L347.01,51.38 L347.24,52.09 L347.46,52.80 L347.69,53.52 L347.92,54.26 L348.14,55.01 L348.37,55.78 L348.60,56.57 L348.83,57.38 L349.06,58.22 L349.28,59.10 L349.51,60.00 L349.74,60.96 L349.97,61.97 L350.19,63.03 L350.42,64.15 L350.65,65.30 L350.88,66.49 L351.10,67.71 L351.33,68.95 L351.56,70.22 L351.78,71.50 L352.01,72.79 L352.24,74.08 L352.47,75.38 L352.69,76.66 L352.92,77.94 L353.15,79.20 L353.38,80.43 L353.61,81.64 L353.83,82.82 L354.06,83.95 L354.29,85.04 L354.51,86.11 L354.74,87.16 L354.97,88.19 L355.20,89.22 L355.43,90.23 L355.65,91.22 L355.88,92.21 L356.11,93.18 L356.34,94.15 L356.56,95.10 L356.79,96.04 L357.02,96.97 L357.25,97.89 L357.47,98.80 L357.70,99.70 L357.93,100.60 L358.15,101.49 L358.38,102.37 L358.61,103.24 L358.84,104.10 L359.06,104.93 L359.29,105.75 L359.52,106.55 L359.75,107.32 L359.98,108.06 L360.20,108.77 L360.43,109.45 L360.66,110.10 L360.88,110.74 L361.11,111.37 L361.34,111.98 L361.57,112.60 L361.80,113.21 L362.02,113.82 L362.25,114.44" fill="none" stroke="#c030c8" stroke-width="1.45" stroke-dasharray="2.8,1.2"/>
<path d="M203.00,108.85 L203.23,108.80 L203.46,108.75 L203.68,108.70 L203.91,108.65 L204.14,108.60 L204.37,108.56 L204.59,108.51 L204.82,108.47 L205.05,108.42 L205.28,108.38 L205.50,108.33 L205.73,108.28 L205.96,108.24 L206.19,108.19 L206.41,108.15 L206.64,108.10 L206.87,108.05 L207.09,108.00 L207.32,107.95 L207.55,107.90 L207.78,107.85 L208.00,107.79 L208.23,107.74 L208.46,107.68 L208.69,107.62 L208.91,107.56 L209.14,107.49 L209.37,107.43 L209.60,107.36 L209.82,107.29 L210.05,107.21 L210.28,107.13 L210.51,107.04 L210.74,106.95 L210.96,106.86 L211.19,106.76 L211.42,106.66 L211.65,106.55 L211.87,106.44 L212.10,106.33 L212.33,106.21 L212.56,106.10 L212.78,105.97 L213.01,105.85 L213.24,105.73 L213.47,105.60 L213.69,105.47 L213.92,105.34 L214.15,105.21 L214.38,105.08 L214.60,104.94 L214.83,104.81 L215.06,104.68 L215.28,104.55 L215.51,104.41 L215.74,104.27 L215.97,104.12 L216.19,103.97 L216.42,103.81 L216.65,103.65 L216.88,103.48 L217.10,103.31 L217.33,103.14 L217.56,102.97 L217.79,102.80 L218.01,102.63 L218.24,102.46 L218.47,102.29 L218.70,102.13 L218.93,101.97 L219.15,101.81 L219.38,101.65 L219.61,101.50 L219.84,101.36 L220.06,101.22 L220.29,101.09 L220.52,100.96 L220.75,100.84 L220.97,100.71 L221.20,100.59 L221.43,100.46 L221.66,100.34 L221.88,100.22 L222.11,100.10 L222.34,99.99 L222.56,99.87 L222.79,99.76 L223.02,99.65 L223.25,99.54 L223.47,99.44 L223.70,99.34 L223.93,99.24 L224.16,99.15 L224.38,99.06 L224.61,98.97 L224.84,98.89 L225.07,98.81 L225.30,98.74 L225.52,98.67 L225.75,98.59 L225.98,98.52 L226.21,98.45 L226.43,98.37 L226.66,98.30 L226.89,98.23 L227.12,98.16 L227.34,98.09 L227.57,98.02 L227.80,97.96 L228.03,97.90 L228.25,97.84 L228.48,97.79 L228.71,97.74 L228.94,97.70 L229.16,97.66 L229.39,97.63 L229.62,97.60 L229.84,97.58 L230.07,97.57 L230.30,97.57 L230.53,97.57 L230.75,97.57 L230.98,97.58 L231.21,97.59 L231.44,97.61 L231.66,97.63 L231.89,97.65 L232.12,97.67 L232.35,97.70 L232.57,97.73 L232.80,97.76 L233.03,97.80 L233.26,97.83 L233.49,97.87 L233.71,97.91 L233.94,97.95 L234.17,97.99 L234.40,98.04 L234.62,98.08 L234.85,98.13 L235.08,98.17 L235.31,98.22 L235.53,98.27 L235.76,98.33 L235.99,98.40 L236.22,98.49 L236.44,98.57 L236.67,98.67 L236.90,98.77 L237.12,98.88 L237.35,99.00 L237.58,99.12 L237.81,99.24 L238.03,99.37 L238.26,99.50 L238.49,99.64 L238.72,99.77 L238.94,99.90 L239.17,100.04 L239.40,100.18 L239.63,100.31 L239.86,100.44 L240.08,100.57 L240.31,100.70 L240.54,100.82 L240.76,100.95 L240.99,101.08 L241.22,101.21 L241.45,101.34 L241.68,101.47 L241.90,101.61 L242.13,101.75 L242.36,101.88 L242.59,102.02 L242.81,102.16 L243.04,102.30 L243.27,102.45 L243.50,102.59 L243.72,102.73 L243.95,102.88 L244.18,103.02 L244.41,103.17 L244.63,103.32 L244.86,103.47 L245.09,103.61 L245.31,103.76 L245.54,103.91 L245.77,104.07 L246.00,104.23 L246.22,104.39 L246.45,104.55 L246.68,104.71 L246.91,104.88 L247.13,105.05 L247.36,105.21 L247.59,105.38 L247.82,105.55 L248.05,105.72 L248.27,105.88 L248.50,106.05 L248.73,106.21 L248.95,106.38 L249.18,106.54 L249.41,106.69 L249.64,106.85 L249.87,107.00 L250.09,107.14 L250.32,107.29 L250.55,107.43 L250.78,107.56 L251.00,107.70 L251.23,107.84 L251.46,107.97 L251.69,108.10 L251.91,108.23 L252.14,108.36 L252.37,108.49 L252.59,108.62 L252.82,108.75 L253.05,108.87 L253.28,108.99 L253.50,109.11 L253.73,109.23 L253.96,109.35 L254.19,109.47 L254.41,109.58 L254.64,109.70 L254.87,109.81 L255.10,109.92 L255.32,110.03 L255.55,110.13 L255.78,110.24 L256.01,110.34 L256.24,110.45 L256.46,110.55 L256.69,110.65 L256.92,110.76 L257.14,110.86 L257.37,110.95 L257.60,111.05 L257.83,111.15 L258.06,111.24 L258.28,111.33 L258.51,111.42 L258.74,111.51 L258.97,111.60 L259.19,111.68 L259.42,111.76 L259.65,111.84 L259.88,111.92 L260.10,111.99 L260.33,112.07 L260.56,112.14 L260.79,112.21 L261.01,112.27 L261.24,112.34 L261.47,112.40 L261.69,112.47 L261.92,112.53 L262.15,112.59 L262.38,112.65 L262.61,112.71 L262.83,112.77 L263.06,112.83 L263.29,112.89 L263.51,112.95 L263.74,113.00 L263.97,113.06 L264.20,113.12 L264.43,113.18 L264.65,113.24 L264.88,113.30 L265.11,113.36 L265.33,113.42 L265.56,113.48 L265.79,113.54 L266.02,113.61 L266.25,113.67 L266.47,113.73 L266.70,113.80 L266.93,113.86 L267.15,113.93 L267.38,113.99 L267.61,114.06 L267.84,114.12 L268.06,114.19 L268.29,114.25 L268.52,114.31 L268.75,114.37 L268.98,114.43 L269.20,114.49 L269.43,114.55 L269.66,114.60 L269.88,114.66 L270.11,114.71 L270.34,114.76 L270.57,114.81 L270.80,114.85 L271.02,114.90 L271.25,114.95 L271.48,114.99 L271.70,115.04 L271.93,115.09 L272.16,115.14 L272.39,115.19 L272.62,115.23 L272.84,115.28 L273.07,115.32 L273.30,115.37 L273.52,115.41 L273.75,115.45 L273.98,115.48 L274.21,115.52 L274.44,115.55 L274.66,115.57 L274.89,115.59 L275.12,115.61 L275.35,115.63 L275.57,115.63 L275.80,115.64 L276.03,115.64 L276.25,115.63 L276.48,115.63 L276.71,115.63 L276.94,115.62 L277.17,115.62 L277.39,115.61 L277.62,115.61 L277.85,115.60 L278.07,115.59 L278.30,115.58 L278.53,115.57 L278.76,115.56 L278.99,115.55 L279.21,115.54 L279.44,115.53 L279.67,115.51 L279.89,115.50 L280.12,115.49 L280.35,115.47 L280.58,115.46 L280.81,115.45 L281.03,115.43 L281.26,115.42 L281.49,115.40 L281.72,115.38 L281.94,115.36 L282.17,115.33 L282.40,115.30 L282.62,115.27 L282.85,115.24 L283.08,115.21 L283.31,115.17 L283.53,115.13 L283.76,115.09 L283.99,115.04 L284.22,115.00 L284.44,114.95 L284.67,114.90 L284.90,114.85 L285.13,114.80 L285.36,114.74 L285.58,114.69 L285.81,114.63 L286.04,114.57 L286.26,114.51 L286.49,114.45 L286.72,114.39 L286.95,114.33 L287.18,114.27 L287.40,114.21 L287.63,114.15 L287.86,114.08 L288.09,114.02 L288.31,113.94 L288.54,113.87 L288.77,113.79 L289.00,113.71 L289.22,113.63 L289.45,113.54 L289.68,113.45 L289.90,113.36 L290.13,113.27 L290.36,113.17 L290.59,113.07 L290.81,112.97 L291.04,112.86 L291.27,112.75 L291.50,112.65 L291.73,112.54 L291.95,112.42 L292.18,112.31 L292.41,112.19 L292.63,112.07 L292.86,111.95 L293.09,111.83 L293.32,111.71 L293.55,111.58 L293.77,111.46 L294.00,111.33 L294.23,111.20 L294.45,111.08 L294.68,110.95 L294.91,110.81 L295.14,110.68 L295.37,110.55 L295.59,110.42 L295.82,110.28 L296.05,110.15 L296.27,110.02 L296.50,109.88 L296.73,109.75 L296.96,109.61 L297.19,109.48 L297.41,109.34 L297.64,109.20 L297.87,109.06 L298.10,108.91 L298.32,108.77 L298.55,108.62 L298.78,108.47 L299.00,108.32 L299.23,108.17 L299.46,108.02 L299.69,107.86 L299.92,107.70 L300.14,107.54 L300.37,107.37 L300.60,107.21 L300.82,107.04 L301.05,106.86 L301.28,106.69 L301.51,106.51 L301.74,106.33 L301.96,106.15 L302.19,105.96 L302.42,105.77 L302.64,105.58 L302.87,105.38 L303.10,105.18 L303.33,104.97 L303.56,104.77 L303.78,104.56 L304.01,104.34 L304.24,104.12 L304.47,103.90 L304.69,103.67 L304.92,103.42 L305.15,103.17 L305.38,102.91 L305.60,102.64 L305.83,102.37 L306.06,102.09 L306.28,101.80 L306.51,101.50 L306.74,101.20 L306.97,100.89 L307.19,100.58 L307.42,100.26 L307.65,99.94 L307.88,99.62 L308.11,99.29 L308.33,98.96 L308.56,98.62 L308.79,98.28 L309.01,97.94 L309.24,97.60 L309.47,97.26 L309.70,96.92 L309.93,96.57 L310.15,96.23 L310.38,95.88 L310.61,95.54 L310.84,95.20 L311.06,94.86 L311.29,94.52 L311.52,94.18 L311.75,93.84 L311.97,93.50 L312.20,93.15 L312.43,92.81 L312.65,92.46 L312.88,92.11 L313.11,91.76 L313.34,91.40 L313.56,91.05 L313.79,90.69 L314.02,90.33 L314.25,89.97 L314.48,89.60 L314.70,89.24 L314.93,88.87 L315.16,88.50 L315.38,88.12 L315.61,87.75 L315.84,87.37 L316.07,86.99 L316.30,86.61 L316.52,86.23 L316.75,85.84 L316.98,85.45 L317.20,85.06 L317.43,84.67 L317.66,84.28 L317.89,83.88 L318.12,83.48 L318.34,83.08 L318.57,82.68 L318.80,82.27 L319.02,81.86 L319.25,81.46 L319.48,81.05 L319.71,80.64 L319.94,80.22 L320.16,79.81 L320.39,79.39 L320.62,78.98 L320.85,78.55 L321.07,78.13 L321.30,77.71 L321.53,77.28 L321.75,76.85 L321.98,76.41 L322.21,75.98 L322.44,75.54 L322.67,75.10 L322.89,74.65 L323.12,74.20 L323.35,73.75 L323.57,73.29 L323.80,72.83 L324.03,72.36 L324.26,71.89 L324.49,71.42 L324.71,70.94 L324.94,70.45 L325.17,69.97 L325.39,69.47 L325.62,68.97 L325.85,68.47 L326.08,67.96 L326.31,67.45 L326.53,66.93 L326.76,66.40 L326.99,65.86 L327.22,65.31 L327.44,64.76 L327.67,64.20 L327.90,63.63 L328.12,63.05 L328.35,62.47 L328.58,61.88 L328.81,61.29 L329.04,60.69 L329.26,60.08 L329.49,59.47 L329.72,58.85 L329.94,58.23 L330.17,57.60 L330.40,56.97 L330.63,56.34 L330.86,55.70 L331.08,55.05 L331.31,54.41 L331.54,53.76 L331.76,53.11 L331.99,52.45 L332.22,51.80 L332.45,51.11 L332.68,50.38 L332.90,49.60 L333.13,48.80 L333.36,47.97 L333.59,47.14 L333.81,46.30 L334.04,45.48 L334.27,44.67 L334.50,43.89 L334.72,43.15 L334.95,42.46 L335.18,41.83 L335.40,41.26 L335.63,40.78 L335.86,40.38 L336.09,40.03 L336.31,39.68 L336.54,39.34 L336.77,39.00 L337.00,38.67 L337.23,38.35 L337.45,38.04 L337.68,37.74 L337.91,37.45 L338.13,37.18 L338.36,36.92 L338.59,36.67 L338.82,36.44 L339.05,36.23 L339.27,36.04 L339.50,35.87 L339.73,35.71 L339.96,35.58 L340.18,35.48 L340.41,35.39 L340.64,35.34 L340.87,35.31 L341.09,35.30 L341.32,35.35 L341.55,35.44 L341.77,35.58 L342.00,35.75 L342.23,35.96 L342.46,36.19 L342.69,36.44 L342.91,36.71 L343.14,36.99 L343.37,37.35 L343.60,37.85 L343.82,38.47 L344.05,39.19 L344.28,39.99 L344.50,40.85 L344.73,41.76 L344.96,42.69 L345.19,43.63 L345.41,44.56 L345.64,45.45 L345.87,46.30 L346.10,47.11 L346.33,47.91 L346.55,48.72 L346.78,49.52 L347.01,50.33 L347.24,51.15 L347.46,51.97 L347.69,52.80 L347.92,53.64 L348.14,54.49 L348.37,55.36 L348.60,56.24 L348.83,57.15 L349.06,58.08 L349.28,59.03 L349.51,60.00 L349.74,61.02 L349.97,62.08 L350.19,63.18 L350.42,64.32 L350.65,65.49 L350.88,66.69 L351.10,67.91 L351.33,69.15 L351.56,70.41 L351.78,71.68 L352.01,72.95 L352.24,74.23 L352.47,75.50 L352.69,76.77 L352.92,78.02 L353.15,79.26 L353.38,80.47 L353.61,81.66 L353.83,82.83 L354.06,83.96 L354.29,85.04 L354.51,86.11 L354.74,87.16 L354.97,88.19 L355.20,89.22 L355.43,90.23 L355.65,91.22 L355.88,92.21 L356.11,93.18 L356.34,94.15 L356.56,95.10 L356.79,96.04 L357.02,96.97 L357.25,97.89 L357.47,98.80 L357.70,99.70 L357.93,100.60 L358.15,101.49 L358.38,102.37 L358.61,103.24 L358.84,104.10 L359.06,104.93 L359.29,105.75 L359.52,106.55 L359.75,107.32 L359.98,108.06 L360.20,108.77 L360.43,109.45 L360.66,110.10 L360.88,110.74 L361.11,111.37 L361.34,111.98 L361.57,112.60 L361.80,113.21 L362.02,113.82 L362.25,114.44" fill="none" stroke="#c8c830" stroke-width="1.45" stroke-dasharray="2.8,1.2"/>
<path d="M315.38,119.90 L315.61,119.86 L315.84,119.82 L316.07,119.78 L316.30,119.74 L316.52,119.70 L316.75,119.66 L316.98,119.62 L317.20,119.58 L317.43,119.54 L317.66,119.49 L317.89,119.44 L318.12,119.39 L318.34,119.34 L318.57,119.28 L318.80,119.22 L319.02,119.16 L319.25,119.10 L319.48,119.03 L319.71,118.96 L319.94,118.89 L320.16,118.82 L320.39,118.74 L320.62,118.66 L320.85,118.58 L321.07,118.49 L321.30,118.40 L321.53,118.31 L321.75,118.21 L321.98,118.11 L322.21,118.01 L322.44,117.90 L322.67,117.79 L322.89,117.67 L323.12,117.55 L323.35,117.42 L323.57,117.29 L323.80,117.15 L324.03,117.01 L324.26,116.87 L324.49,116.71 L324.71,116.55 L324.94,116.39 L325.17,116.21 L325.39,116.03 L325.62,115.85 L325.85,115.65 L326.08,115.45 L326.31,115.24 L326.53,115.02 L326.76,114.79 L326.99,114.56 L327.22,114.31 L327.44,114.06 L327.67,113.80 L327.90,113.52 L328.12,113.24 L328.35,112.95 L328.58,112.65 L328.81,112.33 L329.04,112.01 L329.26,111.67 L329.49,111.32 L329.72,110.96 L329.94,110.59 L330.17,110.17 L330.40,109.66 L330.63,109.06 L330.86,108.39 L331.08,107.66 L331.31,106.88 L331.54,106.04 L331.76,105.16 L331.99,104.26 L332.22,103.33 L332.45,102.38 L332.68,101.43 L332.90,100.48 L333.13,99.54 L333.36,98.61 L333.59,97.66 L333.81,96.67 L334.04,95.65 L334.27,94.61 L334.50,93.54 L334.72,92.45 L334.95,91.34 L335.18,90.21 L335.40,89.06 L335.63,87.89 L335.86,86.70 L336.09,85.50 L336.31,84.29 L336.54,83.06 L336.77,81.83 L337.00,80.56 L337.23,79.24 L337.45,77.88 L337.68,76.48 L337.91,75.05 L338.13,73.60 L338.36,72.14 L338.59,70.66 L338.82,69.19 L339.05,67.73 L339.27,66.28 L339.50,64.85 L339.73,63.45 L339.96,62.09 L340.18,60.77 L340.41,59.50 L340.64,58.20 L340.87,56.86 L341.09,55.51 L341.32,54.15 L341.55,52.79 L341.77,51.44 L342.00,50.12 L342.23,48.83 L342.46,47.59 L342.69,46.41 L342.91,45.30 L343.14,44.28 L343.37,43.34 L343.60,42.52 L343.82,41.81 L344.05,41.22 L344.28,40.71 L344.50,40.20 L344.73,39.71 L344.96,39.23 L345.19,38.76 L345.41,38.31 L345.64,37.88 L345.87,37.48 L346.10,37.10 L346.33,36.75 L346.55,36.43 L346.78,36.15 L347.01,35.90 L347.24,35.69 L347.46,35.52 L347.69,35.40 L347.92,35.33 L348.14,35.30 L348.37,35.34 L348.60,35.44 L348.83,35.60 L349.06,35.83 L349.28,36.10 L349.51,36.43 L349.74,36.79 L349.97,37.20 L350.19,37.64 L350.42,38.10 L350.65,38.59 L350.88,39.10 L351.10,39.62 L351.33,40.15 L351.56,40.69 L351.78,41.22 L352.01,41.79 L352.24,42.43 L352.47,43.14 L352.69,43.90 L352.92,44.73 L353.15,45.61 L353.38,46.54 L353.61,47.52 L353.83,48.53 L354.06,49.59 L354.29,50.67 L354.51,51.78 L354.74,52.92 L354.97,54.08 L355.20,55.25 L355.43,56.43 L355.65,57.62 L355.88,58.81 L356.11,60.00 L356.34,61.26 L356.56,62.63 L356.79,64.11 L357.02,65.68 L357.25,67.30 L357.47,68.98 L357.70,70.68 L357.93,72.39 L358.15,74.09 L358.38,75.76 L358.61,77.38 L358.84,78.94 L359.06,80.41 L359.29,81.77 L359.52,83.01 L359.75,84.11 L359.98,85.04 L360.20,85.87 L360.43,86.66 L360.66,87.41 L360.88,88.12 L361.11,88.79 L361.34,89.44 L361.57,90.06 L361.80,90.65 L362.02,91.22 L362.25,91.77 L362.48,92.30 L362.71,92.81 L362.93,93.32 L363.16,93.81 L363.39,94.30 L363.62,94.79 L363.84,95.27 L364.07,95.75 L364.30,96.24 L364.52,96.73 L364.75,97.22 L364.98,97.70 L365.21,98.19 L365.44,98.67 L365.66,99.14 L365.89,99.61 L366.12,100.07 L366.35,100.51 L366.57,100.95 L366.80,101.37 L367.03,101.78 L367.25,102.17 L367.48,102.54 L367.71,102.89 L367.94,103.23 L368.16,103.53 L368.39,103.82 L368.62,104.08 L368.85,104.32 L369.08,104.56 L369.30,104.78 L369.53,105.00 L369.76,105.21 L369.99,105.42 L370.21,105.61 L370.44,105.80 L370.67,105.99 L370.89,106.17 L371.12,106.34 L371.35,106.51 L371.58,106.68 L371.81,106.84 L372.03,106.99 L372.26,107.15 L372.49,107.30 L372.72,107.44 L372.94,107.59 L373.17,107.73 L373.40,107.87 L373.62,108.00 L373.85,108.14 L374.08,108.28 L374.31,108.41 L374.53,108.55 L374.76,108.68 L374.99,108.82 L375.22,108.95 L375.44,109.09 L375.67,109.22 L375.90,109.35 L376.13,109.48 L376.36,109.60 L376.58,109.73 L376.81,109.86 L377.04,109.98 L377.26,110.10 L377.49,110.22 L377.72,110.34 L377.95,110.46 L378.18,110.57 L378.40,110.69 L378.63,110.80 L378.86,110.91 L379.09,111.03 L379.31,111.14 L379.54,111.24 L379.77,111.35 L380.00,111.46 L380.22,111.56 L380.45,111.66 L380.68,111.77 L380.90,111.87 L381.13,111.97 L381.36,112.07 L381.59,112.16 L381.81,112.26 L382.04,112.36 L382.27,112.45 L382.50,112.54 L382.73,112.64 L382.95,112.73 L383.18,112.82 L383.41,112.91 L383.63,112.99 L383.86,113.08 L384.09,113.17 L384.32,113.25 L384.55,113.33 L384.77,113.42 L385.00,113.50 L385.23,113.58 L385.46,113.66 L385.68,113.74 L385.91,113.82 L386.14,113.90 L386.37,113.97 L386.59,114.05 L386.82,114.12 L387.05,114.20 L387.27,114.27 L387.50,114.34 L387.73,114.42 L387.96,114.49 L388.19,114.56 L388.41,114.63 L388.64,114.70 L388.87,114.77 L389.10,114.84 L389.32,114.91 L389.55,114.98 L389.78,115.05 L390.00,115.11 L390.23,115.18 L390.46,115.25 L390.69,115.31 L390.92,115.38 L391.14,115.45 L391.37,115.51 L391.60,115.58 L391.83,115.64 L392.05,115.71 L392.28,115.77 L392.51,115.84 L392.74,115.90 L392.96,115.96 L393.19,116.03 L393.42,116.09 L393.64,116.15 L393.87,116.21 L394.10,116.27 L394.33,116.34 L394.56,116.40 L394.78,116.46 L395.01,116.51 L395.24,116.57 L395.47,116.63 L395.69,116.69 L395.92,116.74 L396.15,116.80 L396.38,116.85 L396.60,116.91 L396.83,116.96 L397.06,117.02 L397.28,117.07 L397.51,117.12 L397.74,117.17 L397.97,117.22 L398.19,117.27 L398.42,117.32 L398.65,117.36 L398.88,117.41 L399.11,117.45 L399.33,117.50 L399.56,117.55 L399.79,117.59 L400.01,117.64 L400.24,117.69 L400.47,117.73 L400.70,117.78 L400.93,117.83 L401.15,117.87 L401.38,117.92 L401.61,117.96 L401.84,118.01 L402.06,118.05 L402.29,118.10 L402.52,118.14 L402.75,118.18 L402.97,118.23 L403.20,118.27 L403.43,118.31 L403.65,118.35 L403.88,118.39 L404.11,118.43 L404.34,118.47 L404.56,118.51 L404.79,118.55 L405.02,118.59 L405.25,118.63 L405.48,118.66 L405.70,118.70 L405.93,118.73 L406.16,118.77 L406.38,118.80 L406.61,118.83 L406.84,118.86 L407.07,118.89 L407.30,118.92 L407.52,118.95 L407.75,118.98 L407.98,119.00 L408.21,119.03 L408.43,119.05 L408.66,119.07 L408.89,119.10 L409.12,119.12 L409.34,119.13 L409.57,119.15 L409.80,119.17 L410.02,119.19 L410.25,119.20 L410.48,119.22 L410.71,119.24 L410.94,119.25 L411.16,119.27 L411.39,119.29 L411.62,119.30 L411.85,119.32 L412.07,119.33 L412.30,119.35 L412.53,119.36 L412.75,119.38 L412.98,119.39 L413.21,119.40 L413.44,119.42 L413.67,119.43 L413.89,119.44 L414.12,119.46 L414.35,119.47 L414.58,119.48 L414.80,119.49 L415.03,119.50 L415.26,119.52 L415.49,119.53 L415.71,119.54 L415.94,119.55 L416.17,119.56 L416.39,119.57 L416.62,119.58 L416.85,119.59 L417.08,119.60 L417.31,119.61 L417.53,119.62 L417.76,119.63 L417.99,119.64 L418.22,119.64 L418.44,119.65 L418.67,119.66 L418.90,119.67 L419.12,119.68 L419.35,119.68 L419.58,119.69 L419.81,119.70 L420.03,119.71 L420.26,119.71 L420.49,119.72 L420.72,119.72 L420.95,119.73 L421.17,119.74 L421.40,119.74 L421.63,119.75 L421.86,119.75 L422.08,119.76 L422.31,119.76 L422.54,119.77 L422.76,119.77 L422.99,119.78 L423.22,119.78 L423.45,119.79 L423.68,119.79 L423.90,119.79 L424.13,119.80 L424.36,119.80 L424.59,119.81 L424.81,119.81 L425.04,119.81 L425.27,119.82 L425.50,119.82 L425.72,119.83 L425.95,119.83 L426.18,119.83 L426.40,119.84 L426.63,119.84 L426.86,119.84 L427.09,119.85 L427.31,119.85 L427.54,119.85 L427.77,119.86 L428.00,119.86 L428.23,119.86 L428.45,119.87 L428.68,119.87 L428.91,119.87 L429.13,119.88 L429.36,119.88 L429.59,119.88 L429.82,119.89 L430.05,119.89 L430.27,119.90 L430.50,119.90" fill="none" stroke="#1c1cff" stroke-width="1.2"/>
<path d="M317.66,119.87 L317.89,119.83 L318.12,119.80 L318.34,119.76 L318.57,119.72 L318.80,119.68 L319.02,119.64 L319.25,119.60 L319.48,119.56 L319.71,119.51 L319.94,119.46 L320.16,119.41 L320.39,119.36 L320.62,119.30 L320.85,119.25 L321.07,119.18 L321.30,119.12 L321.53,119.06 L321.75,118.99 L321.98,118.92 L322.21,118.85 L322.44,118.77 L322.67,118.69 L322.89,118.61 L323.12,118.52 L323.35,118.44 L323.57,118.34 L323.80,118.25 L324.03,118.15 L324.26,118.05 L324.49,117.94 L324.71,117.83 L324.94,117.72 L325.17,117.60 L325.39,117.47 L325.62,117.34 L325.85,117.21 L326.08,117.07 L326.31,116.93 L326.53,116.77 L326.76,116.62 L326.99,116.45 L327.22,116.28 L327.44,116.11 L327.67,115.92 L327.90,115.73 L328.12,115.53 L328.35,115.32 L328.58,115.11 L328.81,114.89 L329.04,114.65 L329.26,114.41 L329.49,114.16 L329.72,113.90 L329.94,113.63 L330.17,113.36 L330.40,113.07 L330.63,112.77 L330.86,112.46 L331.08,112.14 L331.31,111.81 L331.54,111.46 L331.76,111.11 L331.99,110.74 L332.22,110.35 L332.45,109.87 L332.68,109.31 L332.90,108.67 L333.13,107.96 L333.36,107.20 L333.59,106.38 L333.81,105.52 L334.04,104.62 L334.27,103.70 L334.50,102.76 L334.72,101.81 L334.95,100.86 L335.18,99.92 L335.40,98.99 L335.63,98.04 L335.86,97.07 L336.09,96.06 L336.31,95.03 L336.54,93.97 L336.77,92.89 L337.00,91.79 L337.23,90.66 L337.45,89.52 L337.68,88.36 L337.91,87.18 L338.13,85.98 L338.36,84.78 L338.59,83.56 L338.82,82.32 L339.05,81.08 L339.27,79.78 L339.50,78.43 L339.73,77.05 L339.96,75.63 L340.18,74.18 L340.41,72.72 L340.64,71.25 L340.87,69.78 L341.09,68.31 L341.32,66.85 L341.55,65.42 L341.77,64.00 L342.00,62.63 L342.23,61.29 L342.46,60.00 L342.69,58.72 L342.91,57.40 L343.14,56.05 L343.37,54.69 L343.60,53.33 L343.82,51.98 L344.05,50.64 L344.28,49.34 L344.50,48.08 L344.73,46.88 L344.96,45.74 L345.19,44.68 L345.41,43.71 L345.64,42.83 L345.87,42.08 L346.10,41.44 L346.33,40.91 L346.55,40.41 L346.78,39.91 L347.01,39.42 L347.24,38.95 L347.46,38.49 L347.69,38.05 L347.92,37.64 L348.14,37.25 L348.37,36.89 L348.60,36.56 L348.83,36.26 L349.06,35.99 L349.28,35.77 L349.51,35.59 L349.74,35.44 L349.97,35.35 L350.19,35.30 L350.42,35.31 L350.65,35.39 L350.88,35.53 L351.10,35.73 L351.33,35.99 L351.56,36.29 L351.78,36.64 L352.01,37.03 L352.24,37.46 L352.47,37.91 L352.69,38.39 L352.92,38.90 L353.15,39.41 L353.38,39.94 L353.61,40.47 L353.83,41.01 L354.06,41.55 L354.29,42.17 L354.51,42.85 L354.74,43.59 L354.97,44.39 L355.20,45.25 L355.43,46.16 L355.65,47.12 L355.88,48.12 L356.11,49.16 L356.34,50.23 L356.56,51.34 L356.79,52.46 L357.02,53.61 L357.25,54.78 L357.47,55.96 L357.70,57.15 L357.93,58.34 L358.15,59.53 L358.38,60.74 L358.61,62.07 L358.84,63.51 L359.06,65.04 L359.29,66.65 L359.52,68.30 L359.75,70.00 L359.98,71.71 L360.20,73.41 L360.43,75.10 L360.66,76.74 L360.88,78.32 L361.11,79.83 L361.34,81.24 L361.57,82.53 L361.80,83.69 L362.02,84.69 L362.25,85.55 L362.48,86.35 L362.71,87.11 L362.93,87.84 L363.16,88.53 L363.39,89.18 L363.62,89.81 L363.84,90.41 L364.07,90.99 L364.30,91.55 L364.52,92.09 L364.75,92.61 L364.98,93.12 L365.21,93.62 L365.44,94.11 L365.66,94.59 L365.89,95.07 L366.12,95.56 L366.35,96.04 L366.57,96.53 L366.80,97.02 L367.03,97.51 L367.25,98.00 L367.48,98.48 L367.71,98.95 L367.94,99.42 L368.16,99.89 L368.39,100.34 L368.62,100.78 L368.85,101.20 L369.08,101.62 L369.30,102.01 L369.53,102.39 L369.76,102.75 L369.99,103.10 L370.21,103.41 L370.44,103.71 L370.67,103.98 L370.89,104.23 L371.12,104.46 L371.35,104.69 L371.58,104.91 L371.81,105.13 L372.03,105.33 L372.26,105.53 L372.49,105.73 L372.72,105.92 L372.94,106.10 L373.17,106.27 L373.40,106.44 L373.62,106.61 L373.85,106.77 L374.08,106.93 L374.31,107.09 L374.53,107.24 L374.76,107.38 L374.99,107.53 L375.22,107.67 L375.44,107.81 L375.67,107.95 L375.90,108.09 L376.13,108.22 L376.36,108.36 L376.58,108.49 L376.81,108.63 L377.04,108.76 L377.26,108.90 L377.49,109.03 L377.72,109.16 L377.95,109.30 L378.18,109.43 L378.40,109.55 L378.63,109.68 L378.86,109.81 L379.09,109.93 L379.31,110.05 L379.54,110.17 L379.77,110.29 L380.00,110.41 L380.22,110.53 L380.45,110.64 L380.68,110.76 L380.90,110.87 L381.13,110.98 L381.36,111.09 L381.59,111.20 L381.81,111.31 L382.04,111.41 L382.27,111.52 L382.50,111.62 L382.73,111.73 L382.95,111.83 L383.18,111.93 L383.41,112.03 L383.63,112.13 L383.86,112.22 L384.09,112.32 L384.32,112.41 L384.55,112.51 L384.77,112.60 L385.00,112.69 L385.23,112.78 L385.46,112.87 L385.68,112.96 L385.91,113.05 L386.14,113.13 L386.37,113.22 L386.59,113.30 L386.82,113.38 L387.05,113.47 L387.27,113.55 L387.50,113.63 L387.73,113.71 L387.96,113.79 L388.19,113.86 L388.41,113.94 L388.64,114.02 L388.87,114.09 L389.10,114.17 L389.32,114.24 L389.55,114.32 L389.78,114.39 L390.00,114.46 L390.23,114.53 L390.46,114.60 L390.69,114.67 L390.92,114.74 L391.14,114.81 L391.37,114.88 L391.60,114.95 L391.83,115.02 L392.05,115.09 L392.28,115.15 L392.51,115.22 L392.74,115.29 L392.96,115.35 L393.19,115.42 L393.42,115.49 L393.64,115.55 L393.87,115.62 L394.10,115.68 L394.33,115.75 L394.56,115.81 L394.78,115.87 L395.01,115.94 L395.24,116.00 L395.47,116.06 L395.69,116.13 L395.92,116.19 L396.15,116.25 L396.38,116.31 L396.60,116.37 L396.83,116.43 L397.06,116.49 L397.28,116.55 L397.51,116.61 L397.74,116.66 L397.97,116.72 L398.19,116.78 L398.42,116.83 L398.65,116.89 L398.88,116.94 L399.11,116.99 L399.33,117.05 L399.56,117.10 L399.79,117.15 L400.01,117.20 L400.24,117.25 L400.47,117.30 L400.70,117.34 L400.93,117.39 L401.15,117.44 L401.38,117.48 L401.61,117.53 L401.84,117.58 L402.06,117.62 L402.29,117.67 L402.52,117.71 L402.75,117.76 L402.97,117.81 L403.20,117.85 L403.43,117.90 L403.65,117.94 L403.88,117.99 L404.11,118.03 L404.34,118.08 L404.56,118.12 L404.79,118.17 L405.02,118.21 L405.25,118.25 L405.48,118.29 L405.70,118.34 L405.93,118.38 L406.16,118.42 L406.38,118.46 L406.61,118.50 L406.84,118.54 L407.07,118.57 L407.30,118.61 L407.52,118.65 L407.75,118.68 L407.98,118.72 L408.21,118.75 L408.43,118.79 L408.66,118.82 L408.89,118.85 L409.12,118.88 L409.34,118.91 L409.57,118.94 L409.80,118.97 L410.02,118.99 L410.25,119.02 L410.48,119.04 L410.71,119.07 L410.94,119.09 L411.16,119.11 L411.39,119.13 L411.62,119.15 L411.85,119.16 L412.07,119.18 L412.30,119.20 L412.53,119.21 L412.75,119.23 L412.98,119.25 L413.21,119.26 L413.44,119.28 L413.67,119.29 L413.89,119.31 L414.12,119.32 L414.35,119.34 L414.58,119.35 L414.80,119.37 L415.03,119.38 L415.26,119.39 L415.49,119.41 L415.71,119.42 L415.94,119.43 L416.17,119.45 L416.39,119.46 L416.62,119.47 L416.85,119.48 L417.08,119.49 L417.31,119.50 L417.53,119.52 L417.76,119.53 L417.99,119.54 L418.22,119.55 L418.44,119.56 L418.67,119.57 L418.90,119.58 L419.12,119.59 L419.35,119.60 L419.58,119.61 L419.81,119.62 L420.03,119.62 L420.26,119.63 L420.49,119.64 L420.72,119.65 L420.95,119.66 L421.17,119.67 L421.40,119.68 L421.63,119.68 L421.86,119.69 L422.08,119.70 L422.31,119.71 L422.54,119.71 L422.76,119.72 L422.99,119.73 L423.22,119.73 L423.45,119.74 L423.68,119.75 L423.90,119.75 L424.13,119.76 L424.36,119.77 L424.59,119.77 L424.81,119.78 L425.04,119.78 L425.27,119.79 L425.50,119.79 L425.72,119.80 L425.95,119.80 L426.18,119.81 L426.40,119.81 L426.63,119.82 L426.86,119.82 L427.09,119.83 L427.31,119.83 L427.54,119.84 L427.77,119.84 L428.00,119.85 L428.23,119.85 L428.45,119.86 L428.68,119.86 L428.91,119.87 L429.13,119.87 L429.36,119.88 L429.59,119.88 L429.82,119.88 L430.05,119.89 L430.27,119.89 L430.50,119.90" fill="none" stroke="#ff1a1a" stroke-width="1.2"/>
<path d="M319.48,119.90 L319.71,119.86 L319.94,119.82 L320.16,119.78 L320.39,119.74 L320.62,119.70 L320.85,119.66 L321.07,119.62 L321.30,119.58 L321.53,119.54 L321.75,119.49 L321.98,119.44 L322.21,119.39 L322.44,119.34 L322.67,119.28 L322.89,119.22 L323.12,119.16 L323.35,119.10 L323.57,119.03 L323.80,118.96 L324.03,118.89 L324.26,118.82 L324.49,118.74 L324.71,118.66 L324.94,118.58 L325.17,118.49 L325.39,118.40 L325.62,118.31 L325.85,118.21 L326.08,118.11 L326.31,118.01 L326.53,117.90 L326.76,117.79 L326.99,117.67 L327.22,117.55 L327.44,117.42 L327.67,117.29 L327.90,117.15 L328.12,117.01 L328.35,116.87 L328.58,116.71 L328.81,116.55 L329.04,116.39 L329.26,116.21 L329.49,116.03 L329.72,115.85 L329.94,115.65 L330.17,115.45 L330.40,115.24 L330.63,115.02 L330.86,114.79 L331.08,114.56 L331.31,114.31 L331.54,114.06 L331.76,113.80 L331.99,113.52 L332.22,113.24 L332.45,112.95 L332.68,112.65 L332.90,112.33 L333.13,112.01 L333.36,111.67 L333.59,111.32 L333.81,110.96 L334.04,110.59 L334.27,110.17 L334.50,109.66 L334.72,109.06 L334.95,108.39 L335.18,107.66 L335.40,106.88 L335.63,106.04 L335.86,105.16 L336.09,104.26 L336.31,103.33 L336.54,102.38 L336.77,101.43 L337.00,100.48 L337.23,99.54 L337.45,98.61 L337.68,97.66 L337.91,96.67 L338.13,95.65 L338.36,94.61 L338.59,93.54 L338.82,92.45 L339.05,91.34 L339.27,90.21 L339.50,89.06 L339.73,87.89 L339.96,86.70 L340.18,85.50 L340.41,84.29 L340.64,83.06 L340.87,81.83 L341.09,80.56 L341.32,79.24 L341.55,77.88 L341.77,76.48 L342.00,75.05 L342.23,73.60 L342.46,72.14 L342.69,70.66 L342.91,69.19 L343.14,67.73 L343.37,66.28 L343.60,64.85 L343.82,63.45 L344.05,62.09 L344.28,60.77 L344.50,59.50 L344.73,58.20 L344.96,56.86 L345.19,55.51 L345.41,54.15 L345.64,52.79 L345.87,51.44 L346.10,50.12 L346.33,48.83 L346.55,47.59 L346.78,46.41 L347.01,45.30 L347.24,44.28 L347.46,43.34 L347.69,42.52 L347.92,41.81 L348.14,41.22 L348.37,40.71 L348.60,40.20 L348.83,39.71 L349.06,39.23 L349.28,38.76 L349.51,38.31 L349.74,37.88 L349.97,37.48 L350.19,37.10 L350.42,36.75 L350.65,36.43 L350.88,36.15 L351.10,35.90 L351.33,35.69 L351.56,35.52 L351.78,35.40 L352.01,35.33 L352.24,35.30 L352.47,35.34 L352.69,35.44 L352.92,35.60 L353.15,35.83 L353.38,36.10 L353.61,36.43 L353.83,36.79 L354.06,37.20 L354.29,37.64 L354.51,38.10 L354.74,38.59 L354.97,39.10 L355.20,39.62 L355.43,40.15 L355.65,40.69 L355.88,41.22 L356.11,41.79 L356.34,42.43 L356.56,43.14 L356.79,43.90 L357.02,44.73 L357.25,45.61 L357.47,46.54 L357.70,47.52 L357.93,48.53 L358.15,49.59 L358.38,50.67 L358.61,51.78 L358.84,52.92 L359.06,54.08 L359.29,55.25 L359.52,56.43 L359.75,57.62 L359.98,58.81 L360.20,60.00 L360.43,61.26 L360.66,62.63 L360.88,64.11 L361.11,65.68 L361.34,67.30 L361.57,68.98 L361.80,70.68 L362.02,72.39 L362.25,74.09 L362.48,75.76 L362.71,77.38 L362.93,78.94 L363.16,80.41 L363.39,81.77 L363.62,83.01 L363.84,84.11 L364.07,85.04 L364.30,85.87 L364.52,86.66 L364.75,87.41 L364.98,88.12 L365.21,88.79 L365.44,89.44 L365.66,90.06 L365.89,90.65 L366.12,91.22 L366.35,91.77 L366.57,92.30 L366.80,92.81 L367.03,93.32 L367.25,93.81 L367.48,94.30 L367.71,94.79 L367.94,95.27 L368.16,95.75 L368.39,96.24 L368.62,96.73 L368.85,97.22 L369.08,97.70 L369.30,98.19 L369.53,98.67 L369.76,99.14 L369.99,99.61 L370.21,100.07 L370.44,100.51 L370.67,100.95 L370.89,101.37 L371.12,101.78 L371.35,102.17 L371.58,102.54 L371.81,102.89 L372.03,103.23 L372.26,103.53 L372.49,103.82 L372.72,104.08 L372.94,104.32 L373.17,104.56 L373.40,104.78 L373.62,105.00 L373.85,105.21 L374.08,105.42 L374.31,105.61 L374.53,105.80 L374.76,105.99 L374.99,106.17 L375.22,106.34 L375.44,106.51 L375.67,106.68 L375.90,106.84 L376.13,106.99 L376.36,107.15 L376.58,107.30 L376.81,107.44 L377.04,107.59 L377.26,107.73 L377.49,107.87 L377.72,108.00 L377.95,108.14 L378.18,108.28 L378.40,108.41 L378.63,108.55 L378.86,108.68 L379.09,108.82 L379.31,108.95 L379.54,109.09 L379.77,109.22 L380.00,109.35 L380.22,109.48 L380.45,109.60 L380.68,109.73 L380.90,109.86 L381.13,109.98 L381.36,110.10 L381.59,110.22 L381.81,110.34 L382.04,110.46 L382.27,110.57 L382.50,110.69 L382.73,110.80 L382.95,110.91 L383.18,111.03 L383.41,111.14 L383.63,111.24 L383.86,111.35 L384.09,111.46 L384.32,111.56 L384.55,111.66 L384.77,111.77 L385.00,111.87 L385.23,111.97 L385.46,112.07 L385.68,112.16 L385.91,112.26 L386.14,112.36 L386.37,112.45 L386.59,112.54 L386.82,112.64 L387.05,112.73 L387.27,112.82 L387.50,112.91 L387.73,112.99 L387.96,113.08 L388.19,113.17 L388.41,113.25 L388.64,113.33 L388.87,113.42 L389.10,113.50 L389.32,113.58 L389.55,113.66 L389.78,113.74 L390.00,113.82 L390.23,113.90 L390.46,113.97 L390.69,114.05 L390.92,114.12 L391.14,114.20 L391.37,114.27 L391.60,114.34 L391.83,114.42 L392.05,114.49 L392.28,114.56 L392.51,114.63 L392.74,114.70 L392.96,114.77 L393.19,114.84 L393.42,114.91 L393.64,114.98 L393.87,115.05 L394.10,115.11 L394.33,115.18 L394.56,115.25 L394.78,115.31 L395.01,115.38 L395.24,115.45 L395.47,115.51 L395.69,115.58 L395.92,115.64 L396.15,115.71 L396.38,115.77 L396.60,115.84 L396.83,115.90 L397.06,115.96 L397.28,116.03 L397.51,116.09 L397.74,116.15 L397.97,116.21 L398.19,116.27 L398.42,116.34 L398.65,116.40 L398.88,116.46 L399.11,116.51 L399.33,116.57 L399.56,116.63 L399.79,116.69 L400.01,116.74 L400.24,116.80 L400.47,116.85 L400.70,116.91 L400.93,116.96 L401.15,117.02 L401.38,117.07 L401.61,117.12 L401.84,117.17 L402.06,117.22 L402.29,117.27 L402.52,117.32 L402.75,117.36 L402.97,117.41 L403.20,117.45 L403.43,117.50 L403.65,117.55 L403.88,117.59 L404.11,117.64 L404.34,117.69 L404.56,117.73 L404.79,117.78 L405.02,117.83 L405.25,117.87 L405.48,117.92 L405.70,117.96 L405.93,118.01 L406.16,118.05 L406.38,118.10 L406.61,118.14 L406.84,118.18 L407.07,118.23 L407.30,118.27 L407.52,118.31 L407.75,118.35 L407.98,118.39 L408.21,118.43 L408.43,118.47 L408.66,118.51 L408.89,118.55 L409.12,118.59 L409.34,118.63 L409.57,118.66 L409.80,118.70 L410.02,118.73 L410.25,118.77 L410.48,118.80 L410.71,118.83 L410.94,118.86 L411.16,118.89 L411.39,118.92 L411.62,118.95 L411.85,118.98 L412.07,119.00 L412.30,119.03 L412.53,119.05 L412.75,119.07 L412.98,119.10 L413.21,119.12 L413.44,119.13 L413.67,119.15 L413.89,119.17 L414.12,119.19 L414.35,119.20 L414.58,119.22 L414.80,119.24 L415.03,119.25 L415.26,119.27 L415.49,119.28 L415.71,119.30 L415.94,119.31 L416.17,119.33 L416.39,119.34 L416.62,119.35 L416.85,119.37 L417.08,119.38 L417.31,119.39 L417.53,119.41 L417.76,119.42 L417.99,119.43 L418.22,119.44 L418.44,119.45 L418.67,119.47 L418.90,119.48 L419.12,119.49 L419.35,119.50 L419.58,119.51 L419.81,119.52 L420.03,119.53 L420.26,119.54 L420.49,119.55 L420.72,119.56 L420.95,119.57 L421.17,119.58 L421.40,119.59 L421.63,119.60 L421.86,119.61 L422.08,119.62 L422.31,119.63 L422.54,119.64 L422.76,119.64 L422.99,119.65 L423.22,119.66 L423.45,119.67 L423.68,119.68 L423.90,119.69 L424.13,119.70 L424.36,119.71 L424.59,119.71 L424.81,119.72 L425.04,119.73 L425.27,119.74 L425.50,119.75 L425.72,119.76 L425.95,119.76 L426.18,119.77 L426.40,119.78 L426.63,119.79 L426.86,119.79 L427.09,119.80 L427.31,119.81 L427.54,119.81 L427.77,119.82 L428.00,119.83 L428.23,119.83 L428.45,119.84 L428.68,119.85 L428.91,119.85 L429.13,119.86 L429.36,119.87 L429.59,119.87 L429.82,119.88 L430.05,119.89 L430.27,119.89 L430.50,119.90" fill="none" stroke="#c030c8" stroke-width="1.2"/>
<path d="M320.85,119.90 L321.07,119.86 L321.30,119.82 L321.53,119.78 L321.75,119.74 L321.98,119.70 L322.21,119.66 L322.44,119.62 L322.67,119.58 L322.89,119.54 L323.12,119.49 L323.35,119.44 L323.57,119.39 L323.80,119.34 L324.03,119.28 L324.26,119.22 L324.49,119.16 L324.71,119.10 L324.94,119.03 L325.17,118.96 L325.39,118.89 L325.62,118.82 L325.85,118.74 L326.08,118.66 L326.31,118.58 L326.53,118.49 L326.76,118.40 L326.99,118.31 L327.22,118.21 L327.44,118.11 L327.67,118.01 L327.90,117.90 L328.12,117.79 L328.35,117.67 L328.58,117.55 L328.81,117.42 L329.04,117.29 L329.26,117.15 L329.49,117.01 L329.72,116.87 L329.94,116.71 L330.17,116.55 L330.40,116.39 L330.63,116.21 L330.86,116.03 L331.08,115.85 L331.31,115.65 L331.54,115.45 L331.76,115.24 L331.99,115.02 L332.22,114.79 L332.45,114.56 L332.68,114.31 L332.90,114.06 L333.13,113.80 L333.36,113.52 L333.59,113.24 L333.81,112.95 L334.04,112.65 L334.27,112.33 L334.50,112.01 L334.72,111.67 L334.95,111.32 L335.18,110.96 L335.40,110.59 L335.63,110.17 L335.86,109.66 L336.09,109.06 L336.31,108.39 L336.54,107.66 L336.77,106.88 L337.00,106.04 L337.23,105.16 L337.45,104.26 L337.68,103.33 L337.91,102.38 L338.13,101.43 L338.36,100.48 L338.59,99.54 L338.82,98.61 L339.05,97.66 L339.27,96.67 L339.50,95.65 L339.73,94.61 L339.96,93.54 L340.18,92.45 L340.41,91.34 L340.64,90.21 L340.87,89.06 L341.09,87.89 L341.32,86.70 L341.55,85.50 L341.77,84.29 L342.00,83.06 L342.23,81.83 L342.46,80.56 L342.69,79.24 L342.91,77.88 L343.14,76.48 L343.37,75.05 L343.60,73.60 L343.82,72.14 L344.05,70.66 L344.28,69.19 L344.50,67.73 L344.73,66.28 L344.96,64.85 L345.19,63.45 L345.41,62.09 L345.64,60.77 L345.87,59.50 L346.10,58.20 L346.33,56.86 L346.55,55.51 L346.78,54.15 L347.01,52.79 L347.24,51.44 L347.46,50.12 L347.69,48.83 L347.92,47.59 L348.14,46.41 L348.37,45.30 L348.60,44.28 L348.83,43.34 L349.06,42.52 L349.28,41.81 L349.51,41.22 L349.74,40.71 L349.97,40.20 L350.19,39.71 L350.42,39.23 L350.65,38.76 L350.88,38.31 L351.10,37.88 L351.33,37.48 L351.56,37.10 L351.78,36.75 L352.01,36.43 L352.24,36.15 L352.47,35.90 L352.69,35.69 L352.92,35.52 L353.15,35.40 L353.38,35.33 L353.61,35.30 L353.83,35.34 L354.06,35.44 L354.29,35.60 L354.51,35.83 L354.74,36.10 L354.97,36.43 L355.20,36.79 L355.43,37.20 L355.65,37.64 L355.88,38.10 L356.11,38.59 L356.34,39.10 L356.56,39.62 L356.79,40.15 L357.02,40.69 L357.25,41.22 L357.47,41.79 L357.70,42.43 L357.93,43.14 L358.15,43.90 L358.38,44.73 L358.61,45.61 L358.84,46.54 L359.06,47.52 L359.29,48.53 L359.52,49.59 L359.75,50.67 L359.98,51.78 L360.20,52.92 L360.43,54.08 L360.66,55.25 L360.88,56.43 L361.11,57.62 L361.34,58.81 L361.57,60.00 L361.80,61.26 L362.02,62.63 L362.25,64.11 L362.48,65.68 L362.71,67.30 L362.93,68.98 L363.16,70.68 L363.39,72.39 L363.62,74.09 L363.84,75.76 L364.07,77.38 L364.30,78.94 L364.52,80.41 L364.75,81.77 L364.98,83.01 L365.21,84.11 L365.44,85.04 L365.66,85.87 L365.89,86.66 L366.12,87.41 L366.35,88.12 L366.57,88.79 L366.80,89.44 L367.03,90.06 L367.25,90.65 L367.48,91.22 L367.71,91.77 L367.94,92.30 L368.16,92.81 L368.39,93.32 L368.62,93.81 L368.85,94.30 L369.08,94.79 L369.30,95.27 L369.53,95.75 L369.76,96.24 L369.99,96.73 L370.21,97.22 L370.44,97.70 L370.67,98.19 L370.89,98.67 L371.12,99.14 L371.35,99.61 L371.58,100.07 L371.81,100.51 L372.03,100.95 L372.26,101.37 L372.49,101.78 L372.72,102.17 L372.94,102.54 L373.17,102.89 L373.40,103.23 L373.62,103.53 L373.85,103.82 L374.08,104.08 L374.31,104.32 L374.53,104.56 L374.76,104.78 L374.99,105.00 L375.22,105.21 L375.44,105.42 L375.67,105.61 L375.90,105.80 L376.13,105.99 L376.36,106.17 L376.58,106.34 L376.81,106.51 L377.04,106.68 L377.26,106.84 L377.49,106.99 L377.72,107.15 L377.95,107.30 L378.18,107.44 L378.40,107.59 L378.63,107.73 L378.86,107.87 L379.09,108.00 L379.31,108.14 L379.54,108.28 L379.77,108.41 L380.00,108.55 L380.22,108.68 L380.45,108.82 L380.68,108.95 L380.90,109.09 L381.13,109.22 L381.36,109.35 L381.59,109.48 L381.81,109.60 L382.04,109.73 L382.27,109.86 L382.50,109.98 L382.73,110.10 L382.95,110.22 L383.18,110.34 L383.41,110.46 L383.63,110.57 L383.86,110.69 L384.09,110.80 L384.32,110.91 L384.55,111.03 L384.77,111.14 L385.00,111.24 L385.23,111.35 L385.46,111.46 L385.68,111.56 L385.91,111.66 L386.14,111.77 L386.37,111.87 L386.59,111.97 L386.82,112.07 L387.05,112.16 L387.27,112.26 L387.50,112.36 L387.73,112.45 L387.96,112.54 L388.19,112.64 L388.41,112.73 L388.64,112.82 L388.87,112.91 L389.10,112.99 L389.32,113.08 L389.55,113.17 L389.78,113.25 L390.00,113.33 L390.23,113.42 L390.46,113.50 L390.69,113.58 L390.92,113.66 L391.14,113.74 L391.37,113.82 L391.60,113.90 L391.83,113.97 L392.05,114.05 L392.28,114.12 L392.51,114.20 L392.74,114.27 L392.96,114.34 L393.19,114.42 L393.42,114.49 L393.64,114.56 L393.87,114.63 L394.10,114.70 L394.33,114.77 L394.56,114.84 L394.78,114.91 L395.01,114.98 L395.24,115.05 L395.47,115.11 L395.69,115.18 L395.92,115.25 L396.15,115.31 L396.38,115.38 L396.60,115.45 L396.83,115.51 L397.06,115.58 L397.28,115.64 L397.51,115.71 L397.74,115.77 L397.97,115.84 L398.19,115.90 L398.42,115.96 L398.65,116.03 L398.88,116.09 L399.11,116.15 L399.33,116.21 L399.56,116.27 L399.79,116.34 L400.01,116.40 L400.24,116.46 L400.47,116.51 L400.70,116.57 L400.93,116.63 L401.15,116.69 L401.38,116.74 L401.61,116.80 L401.84,116.85 L402.06,116.91 L402.29,116.96 L402.52,117.02 L402.75,117.07 L402.97,117.12 L403.20,117.17 L403.43,117.22 L403.65,117.27 L403.88,117.32 L404.11,117.36 L404.34,117.41 L404.56,117.45 L404.79,117.50 L405.02,117.55 L405.25,117.59 L405.48,117.64 L405.70,117.69 L405.93,117.73 L406.16,117.78 L406.38,117.83 L406.61,117.87 L406.84,117.92 L407.07,117.96 L407.30,118.01 L407.52,118.05 L407.75,118.10 L407.98,118.14 L408.21,118.18 L408.43,118.23 L408.66,118.27 L408.89,118.31 L409.12,118.35 L409.34,118.39 L409.57,118.43 L409.80,118.47 L410.02,118.51 L410.25,118.55 L410.48,118.59 L410.71,118.63 L410.94,118.66 L411.16,118.70 L411.39,118.73 L411.62,118.77 L411.85,118.80 L412.07,118.83 L412.30,118.86 L412.53,118.89 L412.75,118.92 L412.98,118.95 L413.21,118.98 L413.44,119.00 L413.67,119.03 L413.89,119.05 L414.12,119.07 L414.35,119.10 L414.58,119.12 L414.80,119.13 L415.03,119.15 L415.26,119.17 L415.49,119.19 L415.71,119.20 L415.94,119.22 L416.17,119.24 L416.39,119.25 L416.62,119.27 L416.85,119.28 L417.08,119.29 L417.31,119.31 L417.53,119.32 L417.76,119.34 L417.99,119.35 L418.22,119.36 L418.44,119.37 L418.67,119.39 L418.90,119.40 L419.12,119.41 L419.35,119.42 L419.58,119.43 L419.81,119.44 L420.03,119.46 L420.26,119.47 L420.49,119.48 L420.72,119.49 L420.95,119.50 L421.17,119.51 L421.40,119.52 L421.63,119.53 L421.86,119.54 L422.08,119.55 L422.31,119.56 L422.54,119.57 L422.76,119.58 L422.99,119.59 L423.22,119.60 L423.45,119.60 L423.68,119.61 L423.90,119.62 L424.13,119.63 L424.36,119.64 L424.59,119.65 L424.81,119.66 L425.04,119.67 L425.27,119.68 L425.50,119.69 L425.72,119.70 L425.95,119.71 L426.18,119.72 L426.40,119.73 L426.63,119.74 L426.86,119.75 L427.09,119.76 L427.31,119.77 L427.54,119.78 L427.77,119.79 L428.00,119.80 L428.23,119.81 L428.45,119.82 L428.68,119.83 L428.91,119.84 L429.13,119.84 L429.36,119.85 L429.59,119.86 L429.82,119.87 L430.05,119.88 L430.27,119.89 L430.50,119.90" fill="none" stroke="#c8c830" stroke-width="1.2"/>
<line x1="453.2" y1="145.9" x2="684.4" y2="145.9" stroke="#8a8a8a" stroke-width="0.9"/>
<line x1="568.8" y1="145.9" x2="568.8" y2="144.4" stroke="#8a8a8a" stroke-width="0.8"/>
<line x1="453.2" y1="145.9" x2="528.03" y2="10.00" stroke="#9a9ccc" stroke-width="0.75"/>
<line x1="453.2" y1="145.9" x2="595.57" y2="10.00" stroke="#bcbc96" stroke-width="0.75"/>
<line x1="453.2" y1="145.9" x2="654.38" y2="10.00" stroke="#c8a2c4" stroke-width="0.75"/>
<line x1="453.2" y1="145.9" x2="685.00" y2="29.03" stroke="#caa6a6" stroke-width="0.75"/>
<ellipse cx="502.3" cy="56.2" rx="11.87" ry="9.03" transform="rotate(0 502.3 56.2)" fill="#000088"/><path d="M496.7 63.4h1.0v1.0h-1.0zM490.0 53.6h1.0v1.0h-1.0zM514.0 59.2h1.0v1.0h-1.0zM511.9 59.3h1.0v1.0h-1.0zM489.7 60.4h1.0v1.0h-1.0zM492.1 48.1h1.0v1.0h-1.0zM491.0 51.4h1.0v1.0h-1.0zM509.2 48.8h1.0v1.0h-1.0zM508.9 62.6h1.0v1.0h-1.0zM507.6 65.2h1.0v1.0h-1.0zM494.0 48.6h1.0v1.0h-1.0zM512.5 58.9h1.0v1.0h-1.0zM496.5 47.1h1.0v1.0h-1.0zM489.8 58.5h1.0v1.0h-1.0zM505.4 46.2h1.0v1.0h-1.0zM487.7 54.0h1.0v1.0h-1.0zM500.3 46.7h1.0v1.0h-1.0zM490.4 60.6h1.0v1.0h-1.0zM509.4 63.9h1.0v1.0h-1.0zM503.0 46.0h1.0v1.0h-1.0zM510.3 49.2h1.0v1.0h-1.0zM490.4 50.9h1.0v1.0h-1.0zM509.6 46.3h1.0v1.0h-1.0zM513.9 59.4h1.0v1.0h-1.0zM493.4 47.2h1.0v1.0h-1.0zM491.8 62.4h1.0v1.0h-1.0zM514.0 57.0h1.0v1.0h-1.0zM514.3 59.4h1.0v1.0h-1.0zM510.5 62.7h1.0v1.0h-1.0zM513.2 60.5h1.0v1.0h-1.0zM488.4 52.4h1.0v1.0h-1.0zM499.4 65.6h1.0v1.0h-1.0zM493.1 63.9h1.0v1.0h-1.0zM507.0 63.6h1.0v1.0h-1.0zM503.1 65.3h1.0v1.0h-1.0zM514.1 55.9h1.0v1.0h-1.0zM492.6 63.2h1.0v1.0h-1.0zM488.9 54.7h1.0v1.0h-1.0zM496.5 47.6h1.0v1.0h-1.0zM511.6 48.2h1.0v1.0h-1.0zM491.9 61.8h1.0v1.0h-1.0zM512.5 59.1h1.0v1.0h-1.0zM504.7 64.1h1.0v1.0h-1.0zM513.2 55.7h1.0v1.0h-1.0zM512.5 61.7h1.0v1.0h-1.0zM493.2 50.0h1.0v1.0h-1.0zM501.6 64.9h1.0v1.0h-1.0zM510.0 47.0h1.0v1.0h-1.0zM489.6 57.7h1.0v1.0h-1.0zM495.4 63.2h1.0v1.0h-1.0zM507.9 47.0h1.0v1.0h-1.0zM490.5 54.2h1.0v1.0h-1.0zM489.5 53.1h1.0v1.0h-1.0zM510.4 48.1h1.0v1.0h-1.0zM500.9 65.2h1.0v1.0h-1.0zM487.9 53.5h1.0v1.0h-1.0zM495.9 63.8h1.0v1.0h-1.0zM510.9 46.5h1.0v1.0h-1.0zM507.3 46.6h1.0v1.0h-1.0zM494.6 62.7h1.0v1.0h-1.0zM513.3 57.3h1.0v1.0h-1.0zM514.5 53.0h1.0v1.0h-1.0zM515.1 51.5h1.0v1.0h-1.0zM503.9 64.4h1.0v1.0h-1.0zM505.9 64.6h1.0v1.0h-1.0zM508.9 47.2h1.0v1.0h-1.0zM493.7 46.9h1.0v1.0h-1.0zM513.3 50.1h1.0v1.0h-1.0zM501.8 46.0h1.0v1.0h-1.0zM494.7 65.1h1.0v1.0h-1.0zM514.9 53.9h1.0v1.0h-1.0zM499.9 46.5h1.0v1.0h-1.0zM510.4 62.4h1.0v1.0h-1.0zM510.3 64.2h1.0v1.0h-1.0zM515.0 54.5h1.0v1.0h-1.0zM509.6 62.1h1.0v1.0h-1.0zM515.9 53.7h1.0v1.0h-1.0zM489.3 59.9h1.0v1.0h-1.0zM507.1 48.0h1.0v1.0h-1.0zM502.6 65.7h1.0v1.0h-1.0zM501.0 65.6h1.0v1.0h-1.0zM493.7 63.7h1.0v1.0h-1.0zM488.9 50.0h1.0v1.0h-1.0zM488.7 55.6h1.0v1.0h-1.0zM490.7 54.4h1.0v1.0h-1.0zM515.1 56.0h1.0v1.0h-1.0zM507.6 64.0h1.0v1.0h-1.0zM495.7 64.6h1.0v1.0h-1.0zM488.8 52.1h1.0v1.0h-1.0zM501.9 64.9h1.0v1.0h-1.0zM503.7 45.6h1.0v1.0h-1.0zM512.5 50.7h1.0v1.0h-1.0zM491.6 49.1h1.0v1.0h-1.0zM489.9 58.5h1.0v1.0h-1.0zM487.9 57.2h1.0v1.0h-1.0zM513.9 52.2h1.0v1.0h-1.0zM488.9 51.9h1.0v1.0h-1.0zM510.8 62.2h1.0v1.0h-1.0zM512.9 59.9h1.0v1.0h-1.0zM504.8 45.3h1.0v1.0h-1.0zM509.2 64.0h1.0v1.0h-1.0zM512.2 48.5h1.0v1.0h-1.0zM504.5 66.4h1.0v1.0h-1.0zM515.5 55.0h1.0v1.0h-1.0zM508.5 63.9h1.0v1.0h-1.0zM505.7 64.2h1.0v1.0h-1.0zM499.8 47.1h1.0v1.0h-1.0zM513.7 56.7h1.0v1.0h-1.0zM491.7 48.1h1.0v1.0h-1.0zM505.3 45.0h1.0v1.0h-1.0zM511.9 61.6h1.0v1.0h-1.0zM500.3 64.3h1.0v1.0h-1.0zM489.7 60.6h1.0v1.0h-1.0zM510.1 64.3h1.0v1.0h-1.0zM490.0 51.4h1.0v1.0h-1.0zM497.2 47.1h1.0v1.0h-1.0zM514.8 60.5h1.0v1.0h-1.0zM514.2 61.2h1.0v1.0h-1.0zM514.6 60.0h1.0v1.0h-1.0zM488.8 52.3h1.0v1.0h-1.0zM500.5 64.5h1.0v1.0h-1.0zM510.6 61.2h1.0v1.0h-1.0zM512.8 58.4h1.0v1.0h-1.0zM502.5 46.4h1.0v1.0h-1.0zM490.4 55.7h1.0v1.0h-1.0zM501.8 64.0h1.0v1.0h-1.0zM500.4 46.1h1.0v1.0h-1.0zM512.6 52.1h1.0v1.0h-1.0zM507.4 46.5h1.0v1.0h-1.0zM492.1 61.5h1.0v1.0h-1.0zM496.3 45.5h1.0v1.0h-1.0zM498.1 45.6h1.0v1.0h-1.0zM491.8 60.9h1.0v1.0h-1.0zM513.7 60.0h1.0v1.0h-1.0zM501.4 65.1h1.0v1.0h-1.0zM511.1 48.3h1.0v1.0h-1.0zM499.5 64.4h1.0v1.0h-1.0zM508.9 63.9h1.0v1.0h-1.0zM500.6 66.7h1.0v1.0h-1.0zM502.3 66.2h1.0v1.0h-1.0zM497.2 64.6h1.0v1.0h-1.0zM489.7 57.2h1.0v1.0h-1.0zM505.7 65.0h1.0v1.0h-1.0zM511.9 60.6h1.0v1.0h-1.0zM512.4 57.9h1.0v1.0h-1.0zM490.8 50.7h1.0v1.0h-1.0zM501.8 45.8h1.0v1.0h-1.0zM491.7 62.1h1.0v1.0h-1.0zM513.1 54.9h1.0v1.0h-1.0zM515.5 58.7h1.0v1.0h-1.0zM511.8 49.6h1.0v1.0h-1.0zM510.5 63.6h1.0v1.0h-1.0zM488.1 55.4h1.0v1.0h-1.0zM489.1 50.1h1.0v1.0h-1.0zM496.5 46.8h1.0v1.0h-1.0zM509.9 62.5h1.0v1.0h-1.0zM513.0 62.3h1.0v1.0h-1.0zM492.6 48.6h1.0v1.0h-1.0zM490.7 56.3h1.0v1.0h-1.0zM488.3 55.5h1.0v1.0h-1.0zM495.9 48.6h1.0v1.0h-1.0zM512.6 59.8h1.0v1.0h-1.0zM500.3 47.0h1.0v1.0h-1.0zM488.0 56.1h1.0v1.0h-1.0zM489.0 57.0h1.0v1.0h-1.0zM494.3 48.6h1.0v1.0h-1.0zM508.7 62.7h1.0v1.0h-1.0zM491.4 52.1h1.0v1.0h-1.0zM513.0 59.1h1.0v1.0h-1.0zM496.1 47.2h1.0v1.0h-1.0zM489.4 54.7h1.0v1.0h-1.0zM510.8 50.3h1.0v1.0h-1.0zM516.0 54.2h1.0v1.0h-1.0zM507.7 46.2h1.0v1.0h-1.0zM490.4 58.6h1.0v1.0h-1.0zM505.3 66.1h1.0v1.0h-1.0zM509.8 63.2h1.0v1.0h-1.0zM507.1 47.2h1.0v1.0h-1.0zM511.7 49.2h1.0v1.0h-1.0zM489.5 56.5h1.0v1.0h-1.0zM514.6 55.9h1.0v1.0h-1.0zM509.4 62.8h1.0v1.0h-1.0zM496.0 65.8h1.0v1.0h-1.0zM507.7 48.5h1.0v1.0h-1.0zM513.8 51.2h1.0v1.0h-1.0zM493.3 62.4h1.0v1.0h-1.0zM514.8 55.6h1.0v1.0h-1.0zM500.0 64.3h1.0v1.0h-1.0zM512.8 61.9h1.0v1.0h-1.0zM501.9 65.7h1.0v1.0h-1.0zM489.3 55.0h1.0v1.0h-1.0zM512.6 48.4h1.0v1.0h-1.0zM492.0 47.7h1.0v1.0h-1.0zM499.7 47.3h1.0v1.0h-1.0zM500.5 46.5h1.0v1.0h-1.0zM499.1 64.5h1.0v1.0h-1.0zM512.3 51.7h1.0v1.0h-1.0zM497.9 65.2h1.0v1.0h-1.0zM513.5 54.4h1.0v1.0h-1.0zM490.2 52.4h1.0v1.0h-1.0zM507.6 63.4h1.0v1.0h-1.0zM488.9 55.9h1.0v1.0h-1.0zM513.6 49.7h1.0v1.0h-1.0zM505.7 63.6h1.0v1.0h-1.0zM495.8 62.8h1.0v1.0h-1.0zM489.1 51.2h1.0v1.0h-1.0zM501.8 46.0h1.0v1.0h-1.0zM493.1 62.2h1.0v1.0h-1.0zM512.9 59.2h1.0v1.0h-1.0zM489.1 55.5h1.0v1.0h-1.0zM509.3 49.1h1.0v1.0h-1.0zM491.6 61.4h1.0v1.0h-1.0zM514.7 52.8h1.0v1.0h-1.0zM514.6 57.7h1.0v1.0h-1.0zM511.5 50.0h1.0v1.0h-1.0zM491.3 62.2h1.0v1.0h-1.0zM508.1 46.3h1.0v1.0h-1.0zM510.6 61.2h1.0v1.0h-1.0zM488.1 54.2h1.0v1.0h-1.0zM493.7 47.5h1.0v1.0h-1.0zM488.7 58.4h1.0v1.0h-1.0zM503.3 66.2h1.0v1.0h-1.0zM494.4 48.4h1.0v1.0h-1.0zM493.1 48.1h1.0v1.0h-1.0zM510.9 61.6h1.0v1.0h-1.0zM493.0 61.4h1.0v1.0h-1.0zM492.9 50.7h1.0v1.0h-1.0zM514.8 53.1h1.0v1.0h-1.0zM510.9 49.5h1.0v1.0h-1.0zM514.8 53.2h1.0v1.0h-1.0zM497.6 64.1h1.0v1.0h-1.0zM491.7 59.9h1.0v1.0h-1.0zM495.1 46.7h1.0v1.0h-1.0zM495.4 63.6h1.0v1.0h-1.0zM497.0 47.6h1.0v1.0h-1.0zM489.3 55.4h1.0v1.0h-1.0zM513.5 54.0h1.0v1.0h-1.0zM504.2 65.8h1.0v1.0h-1.0zM497.9 66.0h1.0v1.0h-1.0zM503.8 64.7h1.0v1.0h-1.0zM494.7 46.5h1.0v1.0h-1.0zM505.1 66.3h1.0v1.0h-1.0zM509.1 62.5h1.0v1.0h-1.0zM512.8 49.5h1.0v1.0h-1.0zM500.2 44.8h1.0v1.0h-1.0zM507.3 65.4h1.0v1.0h-1.0zM501.5 47.2h1.0v1.0h-1.0zM493.1 62.4h1.0v1.0h-1.0zM507.1 62.9h1.0v1.0h-1.0zM513.1 53.2h1.0v1.0h-1.0zM513.7 53.6h1.0v1.0h-1.0zM507.5 46.7h1.0v1.0h-1.0zM514.4 58.8h1.0v1.0h-1.0zM506.3 65.0h1.0v1.0h-1.0zM511.3 50.2h1.0v1.0h-1.0zM503.0 47.0h1.0v1.0h-1.0zM512.9 57.6h1.0v1.0h-1.0zM501.6 45.2h1.0v1.0h-1.0zM495.2 63.8h1.0v1.0h-1.0zM500.8 65.7h1.0v1.0h-1.0zM496.6 64.6h1.0v1.0h-1.0zM512.8 50.9h1.0v1.0h-1.0zM512.0 52.8h1.0v1.0h-1.0zM515.7 52.8h1.0v1.0h-1.0zM492.5 61.8h1.0v1.0h-1.0zM512.3 51.8h1.0v1.0h-1.0zM506.2 46.0h1.0v1.0h-1.0zM491.8 49.6h1.0v1.0h-1.0zM496.8 63.9h1.0v1.0h-1.0zM506.1 65.3h1.0v1.0h-1.0zM502.0 64.7h1.0v1.0h-1.0zM495.4 65.1h1.0v1.0h-1.0zM512.1 48.7h1.0v1.0h-1.0zM512.1 61.1h1.0v1.0h-1.0zM498.8 46.7h1.0v1.0h-1.0zM492.0 48.6h1.0v1.0h-1.0zM501.6 45.4h1.0v1.0h-1.0zM508.3 48.0h1.0v1.0h-1.0zM490.9 52.0h1.0v1.0h-1.0zM502.0 64.8h1.0v1.0h-1.0zM509.8 64.4h1.0v1.0h-1.0zM490.6 62.2h1.0v1.0h-1.0zM490.0 55.3h1.0v1.0h-1.0zM513.8 55.2h1.0v1.0h-1.0zM487.9 57.4h1.0v1.0h-1.0zM514.3 58.2h1.0v1.0h-1.0zM510.8 62.0h1.0v1.0h-1.0zM512.7 51.8h1.0v1.0h-1.0zM509.9 48.8h1.0v1.0h-1.0zM513.4 52.6h1.0v1.0h-1.0zM491.3 50.2h1.0v1.0h-1.0zM509.4 62.8h1.0v1.0h-1.0zM501.4 65.5h1.0v1.0h-1.0zM513.9 56.4h1.0v1.0h-1.0zM496.8 47.8h1.0v1.0h-1.0zM505.4 46.3h1.0v1.0h-1.0zM512.6 59.2h1.0v1.0h-1.0zM494.4 48.9h1.0v1.0h-1.0zM508.7 64.4h1.0v1.0h-1.0zM496.9 65.6h1.0v1.0h-1.0zM496.9 64.8h1.0v1.0h-1.0zM511.2 47.5h1.0v1.0h-1.0zM494.3 62.3h1.0v1.0h-1.0zM515.8 56.1h1.0v1.0h-1.0zM489.0 60.8h1.0v1.0h-1.0zM490.1 57.9h1.0v1.0h-1.0zM515.1 56.6h1.0v1.0h-1.0zM513.5 61.3h1.0v1.0h-1.0zM493.1 62.7h1.0v1.0h-1.0zM487.9 54.3h1.0v1.0h-1.0zM511.8 61.9h1.0v1.0h-1.0zM506.0 64.9h1.0v1.0h-1.0zM514.9 52.0h1.0v1.0h-1.0zM512.5 51.6h1.0v1.0h-1.0zM512.4 50.2h1.0v1.0h-1.0zM504.4 46.9h1.0v1.0h-1.0zM490.6 61.5h1.0v1.0h-1.0zM504.3 64.9h1.0v1.0h-1.0zM489.6 54.7h1.0v1.0h-1.0zM499.6 45.3h1.0v1.0h-1.0zM513.9 58.1h1.0v1.0h-1.0zM507.8 48.4h1.0v1.0h-1.0zM491.4 50.0h1.0v1.0h-1.0zM490.4 60.4h1.0v1.0h-1.0zM489.8 60.3h1.0v1.0h-1.0zM514.5 57.1h1.0v1.0h-1.0zM490.2 56.3h1.0v1.0h-1.0zM489.7 58.2h1.0v1.0h-1.0zM490.4 57.2h1.0v1.0h-1.0zM512.4 60.9h1.0v1.0h-1.0zM490.7 55.2h1.0v1.0h-1.0zM500.4 45.6h1.0v1.0h-1.0zM490.2 55.1h1.0v1.0h-1.0zM512.5 53.1h1.0v1.0h-1.0zM510.5 47.4h1.0v1.0h-1.0zM507.0 66.4h1.0v1.0h-1.0zM487.8 56.2h1.0v1.0h-1.0zM505.1 45.5h1.0v1.0h-1.0zM512.7 59.3h1.0v1.0h-1.0zM511.4 50.2h1.0v1.0h-1.0z" fill="#000088"/><radialGradient id="rg1"><stop offset="0" stop-color="#50f070" stop-opacity="1"/><stop offset="0.2" stop-color="#20e8b0" stop-opacity="1"/><stop offset="0.4" stop-color="#00c8e0" stop-opacity="1"/><stop offset="0.62" stop-color="#0080e0" stop-opacity="1"/><stop offset="0.82" stop-color="#0030b8" stop-opacity="1"/><stop offset="1" stop-color="#000088" stop-opacity="1"/></radialGradient><ellipse cx="502.3" cy="56.2" rx="6.20" ry="5.40" transform="rotate(0 502.3 56.2)" fill="url(#rg1)"/>
<ellipse cx="563.0" cy="39.4" rx="12.47" ry="6.19" transform="rotate(0 563.0 39.4)" fill="#000088"/><path d="M567.9 32.8h1.0v1.0h-1.0zM565.7 44.7h1.0v1.0h-1.0zM549.7 38.7h1.0v1.0h-1.0zM570.1 45.0h1.0v1.0h-1.0zM556.2 32.3h1.0v1.0h-1.0zM573.1 43.5h1.0v1.0h-1.0zM553.9 34.0h1.0v1.0h-1.0zM549.5 35.4h1.0v1.0h-1.0zM574.4 43.4h1.0v1.0h-1.0zM566.2 32.9h1.0v1.0h-1.0zM576.4 38.5h1.0v1.0h-1.0zM550.5 41.2h1.0v1.0h-1.0zM562.0 33.1h1.0v1.0h-1.0zM552.9 33.2h1.0v1.0h-1.0zM551.0 35.5h1.0v1.0h-1.0zM574.1 40.1h1.0v1.0h-1.0zM551.9 34.2h1.0v1.0h-1.0zM570.7 43.4h1.0v1.0h-1.0zM555.6 34.0h1.0v1.0h-1.0zM572.3 42.7h1.0v1.0h-1.0zM564.7 45.6h1.0v1.0h-1.0zM553.2 34.3h1.0v1.0h-1.0zM572.0 44.2h1.0v1.0h-1.0zM573.8 42.8h1.0v1.0h-1.0zM572.4 33.8h1.0v1.0h-1.0zM576.2 39.4h1.0v1.0h-1.0zM550.6 36.5h1.0v1.0h-1.0zM575.7 36.2h1.0v1.0h-1.0zM562.6 46.4h1.0v1.0h-1.0zM552.3 42.3h1.0v1.0h-1.0zM576.2 41.5h1.0v1.0h-1.0zM573.5 36.8h1.0v1.0h-1.0zM567.0 45.6h1.0v1.0h-1.0zM567.1 33.4h1.0v1.0h-1.0zM557.5 45.2h1.0v1.0h-1.0zM565.4 32.1h1.0v1.0h-1.0zM576.5 39.2h1.0v1.0h-1.0zM561.8 32.2h1.0v1.0h-1.0zM564.3 44.6h1.0v1.0h-1.0zM555.4 44.8h1.0v1.0h-1.0zM557.7 32.3h1.0v1.0h-1.0zM550.0 36.7h1.0v1.0h-1.0zM565.6 32.6h1.0v1.0h-1.0zM575.2 37.5h1.0v1.0h-1.0zM570.8 35.0h1.0v1.0h-1.0zM561.9 31.5h1.0v1.0h-1.0zM562.2 32.5h1.0v1.0h-1.0zM563.5 46.2h1.0v1.0h-1.0zM552.6 33.6h1.0v1.0h-1.0zM547.1 40.4h1.0v1.0h-1.0zM557.6 31.8h1.0v1.0h-1.0zM551.0 36.2h1.0v1.0h-1.0zM566.0 46.0h1.0v1.0h-1.0zM570.0 43.7h1.0v1.0h-1.0zM573.9 43.4h1.0v1.0h-1.0zM574.1 39.9h1.0v1.0h-1.0zM557.7 32.5h1.0v1.0h-1.0zM575.6 41.8h1.0v1.0h-1.0zM553.0 44.4h1.0v1.0h-1.0zM576.7 42.0h1.0v1.0h-1.0zM575.1 35.2h1.0v1.0h-1.0zM571.4 42.7h1.0v1.0h-1.0zM571.0 32.9h1.0v1.0h-1.0zM553.5 34.1h1.0v1.0h-1.0zM571.9 42.3h1.0v1.0h-1.0zM557.0 44.8h1.0v1.0h-1.0zM574.8 39.7h1.0v1.0h-1.0zM553.4 43.8h1.0v1.0h-1.0zM575.7 37.4h1.0v1.0h-1.0zM575.7 40.2h1.0v1.0h-1.0zM549.2 41.7h1.0v1.0h-1.0zM549.9 37.4h1.0v1.0h-1.0zM570.1 34.4h1.0v1.0h-1.0zM574.9 39.0h1.0v1.0h-1.0zM563.7 31.3h1.0v1.0h-1.0zM548.6 39.3h1.0v1.0h-1.0zM568.0 45.1h1.0v1.0h-1.0zM561.5 46.6h1.0v1.0h-1.0zM559.9 44.9h1.0v1.0h-1.0zM573.4 43.4h1.0v1.0h-1.0zM574.9 42.3h1.0v1.0h-1.0zM553.0 34.0h1.0v1.0h-1.0zM552.1 42.6h1.0v1.0h-1.0zM571.4 35.2h1.0v1.0h-1.0zM566.0 45.0h1.0v1.0h-1.0zM551.9 43.9h1.0v1.0h-1.0zM563.9 45.8h1.0v1.0h-1.0zM562.8 32.1h1.0v1.0h-1.0zM554.9 44.2h1.0v1.0h-1.0zM554.7 32.6h1.0v1.0h-1.0zM568.7 44.5h1.0v1.0h-1.0zM572.1 43.8h1.0v1.0h-1.0zM571.7 34.9h1.0v1.0h-1.0zM558.3 32.0h1.0v1.0h-1.0zM569.2 43.7h1.0v1.0h-1.0zM550.2 38.0h1.0v1.0h-1.0zM556.3 44.6h1.0v1.0h-1.0zM574.2 43.2h1.0v1.0h-1.0zM573.6 43.0h1.0v1.0h-1.0zM561.2 32.6h1.0v1.0h-1.0zM567.1 45.3h1.0v1.0h-1.0zM553.5 42.7h1.0v1.0h-1.0zM551.1 43.1h1.0v1.0h-1.0zM553.3 33.9h1.0v1.0h-1.0zM571.4 44.4h1.0v1.0h-1.0zM573.7 35.3h1.0v1.0h-1.0zM549.8 35.7h1.0v1.0h-1.0zM560.0 31.9h1.0v1.0h-1.0zM564.6 31.9h1.0v1.0h-1.0zM553.9 33.6h1.0v1.0h-1.0zM557.1 45.3h1.0v1.0h-1.0zM565.3 32.1h1.0v1.0h-1.0zM553.7 34.3h1.0v1.0h-1.0zM553.1 34.4h1.0v1.0h-1.0zM555.8 32.4h1.0v1.0h-1.0zM564.9 32.3h1.0v1.0h-1.0zM547.2 39.4h1.0v1.0h-1.0zM569.9 44.8h1.0v1.0h-1.0zM575.3 36.4h1.0v1.0h-1.0zM548.8 37.1h1.0v1.0h-1.0zM548.8 38.4h1.0v1.0h-1.0zM549.7 42.9h1.0v1.0h-1.0zM566.1 45.9h1.0v1.0h-1.0zM573.4 44.2h1.0v1.0h-1.0zM555.4 43.4h1.0v1.0h-1.0zM575.8 39.5h1.0v1.0h-1.0zM550.3 42.2h1.0v1.0h-1.0zM564.8 45.8h1.0v1.0h-1.0zM574.8 36.5h1.0v1.0h-1.0zM552.2 43.0h1.0v1.0h-1.0zM572.2 44.0h1.0v1.0h-1.0zM548.7 40.2h1.0v1.0h-1.0zM564.8 46.3h1.0v1.0h-1.0zM568.7 32.3h1.0v1.0h-1.0zM550.1 40.1h1.0v1.0h-1.0zM568.8 33.5h1.0v1.0h-1.0zM569.9 33.9h1.0v1.0h-1.0zM551.5 41.6h1.0v1.0h-1.0zM576.2 39.0h1.0v1.0h-1.0zM558.2 45.2h1.0v1.0h-1.0zM550.1 41.9h1.0v1.0h-1.0zM575.7 35.8h1.0v1.0h-1.0zM576.6 41.5h1.0v1.0h-1.0zM571.8 44.5h1.0v1.0h-1.0zM553.7 34.1h1.0v1.0h-1.0zM555.7 33.9h1.0v1.0h-1.0zM572.1 42.4h1.0v1.0h-1.0zM555.1 44.2h1.0v1.0h-1.0zM574.5 34.8h1.0v1.0h-1.0zM550.7 34.2h1.0v1.0h-1.0zM555.4 32.6h1.0v1.0h-1.0zM567.3 45.9h1.0v1.0h-1.0zM547.7 37.5h1.0v1.0h-1.0zM550.5 36.8h1.0v1.0h-1.0zM563.7 44.8h1.0v1.0h-1.0zM551.0 40.1h1.0v1.0h-1.0zM548.2 39.3h1.0v1.0h-1.0zM576.8 39.2h1.0v1.0h-1.0zM549.0 40.3h1.0v1.0h-1.0zM552.7 43.8h1.0v1.0h-1.0zM574.3 37.4h1.0v1.0h-1.0zM576.3 40.1h1.0v1.0h-1.0zM556.2 32.0h1.0v1.0h-1.0zM547.9 38.4h1.0v1.0h-1.0zM571.8 35.4h1.0v1.0h-1.0zM554.5 45.2h1.0v1.0h-1.0zM553.1 44.1h1.0v1.0h-1.0zM565.7 45.1h1.0v1.0h-1.0zM550.7 42.0h1.0v1.0h-1.0zM568.7 33.1h1.0v1.0h-1.0zM548.4 38.7h1.0v1.0h-1.0zM554.6 33.2h1.0v1.0h-1.0zM556.4 44.4h1.0v1.0h-1.0zM552.7 33.4h1.0v1.0h-1.0zM576.4 40.7h1.0v1.0h-1.0zM574.7 40.9h1.0v1.0h-1.0zM575.3 39.1h1.0v1.0h-1.0zM554.7 33.0h1.0v1.0h-1.0zM574.3 35.2h1.0v1.0h-1.0zM557.9 32.4h1.0v1.0h-1.0zM557.3 33.3h1.0v1.0h-1.0zM563.5 32.8h1.0v1.0h-1.0zM567.4 44.2h1.0v1.0h-1.0zM554.6 33.1h1.0v1.0h-1.0zM568.8 32.5h1.0v1.0h-1.0zM558.4 45.0h1.0v1.0h-1.0zM556.8 45.1h1.0v1.0h-1.0zM576.1 41.3h1.0v1.0h-1.0zM574.2 40.4h1.0v1.0h-1.0zM574.4 35.6h1.0v1.0h-1.0zM576.4 39.5h1.0v1.0h-1.0zM576.2 38.1h1.0v1.0h-1.0zM552.3 42.0h1.0v1.0h-1.0zM569.3 43.7h1.0v1.0h-1.0zM577.3 39.1h1.0v1.0h-1.0zM575.6 42.9h1.0v1.0h-1.0zM570.4 43.0h1.0v1.0h-1.0zM561.2 32.8h1.0v1.0h-1.0zM575.9 41.1h1.0v1.0h-1.0zM560.9 32.5h1.0v1.0h-1.0zM552.0 33.4h1.0v1.0h-1.0zM562.1 46.2h1.0v1.0h-1.0zM560.0 32.9h1.0v1.0h-1.0zM567.3 33.6h1.0v1.0h-1.0zM557.1 45.5h1.0v1.0h-1.0zM549.8 39.4h1.0v1.0h-1.0zM553.0 44.1h1.0v1.0h-1.0zM571.2 44.5h1.0v1.0h-1.0zM553.4 44.1h1.0v1.0h-1.0zM551.7 43.6h1.0v1.0h-1.0zM576.0 36.5h1.0v1.0h-1.0zM576.1 41.6h1.0v1.0h-1.0zM558.3 32.0h1.0v1.0h-1.0zM577.2 37.9h1.0v1.0h-1.0zM551.5 34.9h1.0v1.0h-1.0zM552.4 43.8h1.0v1.0h-1.0zM551.0 34.6h1.0v1.0h-1.0zM575.2 39.0h1.0v1.0h-1.0zM550.3 42.1h1.0v1.0h-1.0zM577.3 40.9h1.0v1.0h-1.0zM568.0 32.2h1.0v1.0h-1.0zM570.9 33.3h1.0v1.0h-1.0zM556.8 32.3h1.0v1.0h-1.0zM549.2 36.6h1.0v1.0h-1.0zM566.8 45.6h1.0v1.0h-1.0zM551.8 34.7h1.0v1.0h-1.0zM550.8 40.2h1.0v1.0h-1.0zM566.1 32.2h1.0v1.0h-1.0zM574.4 42.5h1.0v1.0h-1.0zM549.6 35.4h1.0v1.0h-1.0zM573.0 34.3h1.0v1.0h-1.0zM567.0 44.5h1.0v1.0h-1.0zM568.5 45.3h1.0v1.0h-1.0zM551.3 42.8h1.0v1.0h-1.0zM569.7 43.8h1.0v1.0h-1.0zM573.0 43.0h1.0v1.0h-1.0zM565.4 32.9h1.0v1.0h-1.0zM550.8 38.2h1.0v1.0h-1.0zM577.2 40.5h1.0v1.0h-1.0zM550.9 36.3h1.0v1.0h-1.0zM565.0 32.1h1.0v1.0h-1.0zM568.7 32.2h1.0v1.0h-1.0zM562.2 44.6h1.0v1.0h-1.0zM572.8 41.9h1.0v1.0h-1.0zM547.7 36.1h1.0v1.0h-1.0zM572.6 35.7h1.0v1.0h-1.0zM551.1 34.9h1.0v1.0h-1.0zM561.9 46.0h1.0v1.0h-1.0zM553.2 33.3h1.0v1.0h-1.0zM550.7 40.9h1.0v1.0h-1.0zM576.7 37.4h1.0v1.0h-1.0zM562.0 45.2h1.0v1.0h-1.0zM574.2 34.8h1.0v1.0h-1.0zM565.6 32.2h1.0v1.0h-1.0zM553.5 33.0h1.0v1.0h-1.0zM562.9 31.7h1.0v1.0h-1.0zM556.6 33.0h1.0v1.0h-1.0zM572.8 42.9h1.0v1.0h-1.0zM562.0 44.9h1.0v1.0h-1.0zM563.4 44.8h1.0v1.0h-1.0zM557.5 33.8h1.0v1.0h-1.0zM576.9 40.5h1.0v1.0h-1.0zM565.3 46.4h1.0v1.0h-1.0zM571.4 44.2h1.0v1.0h-1.0zM574.7 43.1h1.0v1.0h-1.0zM549.8 40.8h1.0v1.0h-1.0zM568.3 33.1h1.0v1.0h-1.0zM564.6 44.7h1.0v1.0h-1.0zM559.3 32.1h1.0v1.0h-1.0zM561.1 45.7h1.0v1.0h-1.0zM569.5 44.1h1.0v1.0h-1.0zM569.1 44.7h1.0v1.0h-1.0zM556.0 46.0h1.0v1.0h-1.0zM577.0 41.6h1.0v1.0h-1.0zM556.3 33.5h1.0v1.0h-1.0zM561.9 44.9h1.0v1.0h-1.0zM551.9 44.9h1.0v1.0h-1.0zM572.5 42.4h1.0v1.0h-1.0zM571.7 35.4h1.0v1.0h-1.0zM574.4 38.1h1.0v1.0h-1.0zM566.9 33.1h1.0v1.0h-1.0zM568.9 33.3h1.0v1.0h-1.0zM567.7 44.9h1.0v1.0h-1.0zM551.7 36.3h1.0v1.0h-1.0zM568.4 45.1h1.0v1.0h-1.0zM573.1 41.8h1.0v1.0h-1.0zM552.4 34.8h1.0v1.0h-1.0zM551.8 34.4h1.0v1.0h-1.0zM567.5 32.8h1.0v1.0h-1.0zM561.1 32.5h1.0v1.0h-1.0zM560.4 33.2h1.0v1.0h-1.0zM570.5 32.8h1.0v1.0h-1.0zM550.5 39.2h1.0v1.0h-1.0zM571.2 34.4h1.0v1.0h-1.0zM568.1 45.4h1.0v1.0h-1.0zM553.2 43.8h1.0v1.0h-1.0zM576.3 39.1h1.0v1.0h-1.0zM572.6 43.6h1.0v1.0h-1.0zM568.4 32.3h1.0v1.0h-1.0zM551.7 43.9h1.0v1.0h-1.0zM576.3 41.7h1.0v1.0h-1.0zM549.3 38.4h1.0v1.0h-1.0zM550.9 37.5h1.0v1.0h-1.0z" fill="#000088"/><radialGradient id="rg2"><stop offset="0" stop-color="#ff2000" stop-opacity="1"/><stop offset="0.15" stop-color="#ffd000" stop-opacity="1"/><stop offset="0.35" stop-color="#60f050" stop-opacity="1"/><stop offset="0.55" stop-color="#10d8d0" stop-opacity="1"/><stop offset="0.78" stop-color="#0058d8" stop-opacity="1"/><stop offset="1" stop-color="#000090" stop-opacity="1"/></radialGradient><ellipse cx="565.1" cy="39.4" rx="5.60" ry="4.40" transform="rotate(0 565.1 39.4)" fill="url(#rg2)"/>
<ellipse cx="602.6" cy="45.4" rx="10.49" ry="7.57" transform="rotate(0 602.6 45.4)" fill="#000088"/><path d="M606.2 51.4h1.0v1.0h-1.0zM602.1 53.5h1.0v1.0h-1.0zM598.9 38.0h1.0v1.0h-1.0zM613.8 45.8h1.0v1.0h-1.0zM599.1 37.9h1.0v1.0h-1.0zM610.1 38.7h1.0v1.0h-1.0zM591.2 45.2h1.0v1.0h-1.0zM600.2 52.1h1.0v1.0h-1.0zM592.0 40.2h1.0v1.0h-1.0zM608.8 51.3h1.0v1.0h-1.0zM607.8 37.0h1.0v1.0h-1.0zM593.6 50.0h1.0v1.0h-1.0zM592.1 50.5h1.0v1.0h-1.0zM603.9 37.5h1.0v1.0h-1.0zM590.4 48.5h1.0v1.0h-1.0zM606.3 36.4h1.0v1.0h-1.0zM613.4 47.8h1.0v1.0h-1.0zM613.7 42.6h1.0v1.0h-1.0zM594.6 39.0h1.0v1.0h-1.0zM591.9 43.5h1.0v1.0h-1.0zM612.2 45.9h1.0v1.0h-1.0zM614.3 43.2h1.0v1.0h-1.0zM606.5 36.7h1.0v1.0h-1.0zM609.5 40.2h1.0v1.0h-1.0zM597.5 38.0h1.0v1.0h-1.0zM590.2 42.6h1.0v1.0h-1.0zM591.2 43.9h1.0v1.0h-1.0zM612.2 42.6h1.0v1.0h-1.0zM610.8 50.8h1.0v1.0h-1.0zM612.7 42.7h1.0v1.0h-1.0zM591.7 43.3h1.0v1.0h-1.0zM609.2 50.0h1.0v1.0h-1.0zM599.5 52.4h1.0v1.0h-1.0zM611.8 49.2h1.0v1.0h-1.0zM591.3 41.2h1.0v1.0h-1.0zM605.8 53.3h1.0v1.0h-1.0zM593.8 39.8h1.0v1.0h-1.0zM598.3 51.8h1.0v1.0h-1.0zM593.3 50.6h1.0v1.0h-1.0zM612.8 45.5h1.0v1.0h-1.0zM591.6 42.1h1.0v1.0h-1.0zM599.4 53.7h1.0v1.0h-1.0zM607.9 51.4h1.0v1.0h-1.0zM609.9 39.0h1.0v1.0h-1.0zM591.2 48.0h1.0v1.0h-1.0zM610.7 50.0h1.0v1.0h-1.0zM608.1 51.3h1.0v1.0h-1.0zM594.8 51.9h1.0v1.0h-1.0zM607.2 37.3h1.0v1.0h-1.0zM601.3 36.6h1.0v1.0h-1.0zM604.7 36.4h1.0v1.0h-1.0zM610.6 41.3h1.0v1.0h-1.0zM603.2 36.9h1.0v1.0h-1.0zM589.4 45.0h1.0v1.0h-1.0zM604.6 36.3h1.0v1.0h-1.0zM593.4 39.9h1.0v1.0h-1.0zM600.3 37.4h1.0v1.0h-1.0zM593.3 50.1h1.0v1.0h-1.0zM604.9 36.4h1.0v1.0h-1.0zM591.2 44.9h1.0v1.0h-1.0zM609.2 51.5h1.0v1.0h-1.0zM593.2 41.3h1.0v1.0h-1.0zM608.8 37.7h1.0v1.0h-1.0zM613.0 42.8h1.0v1.0h-1.0zM612.3 45.4h1.0v1.0h-1.0zM591.3 41.5h1.0v1.0h-1.0zM589.8 42.7h1.0v1.0h-1.0zM591.0 44.0h1.0v1.0h-1.0zM594.8 51.5h1.0v1.0h-1.0zM594.7 52.1h1.0v1.0h-1.0zM611.2 49.6h1.0v1.0h-1.0zM592.2 50.0h1.0v1.0h-1.0zM613.2 43.1h1.0v1.0h-1.0zM591.2 48.0h1.0v1.0h-1.0zM590.6 43.3h1.0v1.0h-1.0zM607.6 52.2h1.0v1.0h-1.0zM592.2 44.3h1.0v1.0h-1.0zM611.7 39.5h1.0v1.0h-1.0zM611.5 39.2h1.0v1.0h-1.0zM608.2 51.5h1.0v1.0h-1.0zM605.9 51.6h1.0v1.0h-1.0zM593.7 38.4h1.0v1.0h-1.0zM594.8 38.8h1.0v1.0h-1.0zM591.9 49.5h1.0v1.0h-1.0zM613.3 45.1h1.0v1.0h-1.0zM608.3 38.1h1.0v1.0h-1.0zM590.7 45.0h1.0v1.0h-1.0zM600.8 54.4h1.0v1.0h-1.0zM592.3 41.3h1.0v1.0h-1.0zM609.3 49.9h1.0v1.0h-1.0zM610.4 49.3h1.0v1.0h-1.0zM589.7 43.6h1.0v1.0h-1.0zM611.6 47.7h1.0v1.0h-1.0zM603.5 37.4h1.0v1.0h-1.0zM607.3 51.7h1.0v1.0h-1.0zM612.2 50.1h1.0v1.0h-1.0zM591.8 47.3h1.0v1.0h-1.0zM614.6 48.1h1.0v1.0h-1.0zM591.0 48.1h1.0v1.0h-1.0zM602.1 52.6h1.0v1.0h-1.0zM597.2 53.1h1.0v1.0h-1.0zM606.8 37.3h1.0v1.0h-1.0zM589.1 45.2h1.0v1.0h-1.0zM602.6 52.6h1.0v1.0h-1.0zM597.6 53.2h1.0v1.0h-1.0zM590.5 45.7h1.0v1.0h-1.0zM595.6 50.7h1.0v1.0h-1.0zM612.5 43.5h1.0v1.0h-1.0zM591.7 43.3h1.0v1.0h-1.0zM593.5 49.2h1.0v1.0h-1.0zM595.6 51.3h1.0v1.0h-1.0zM605.8 51.8h1.0v1.0h-1.0zM596.7 38.3h1.0v1.0h-1.0zM608.7 52.0h1.0v1.0h-1.0zM607.3 38.6h1.0v1.0h-1.0zM591.0 47.9h1.0v1.0h-1.0zM595.0 51.7h1.0v1.0h-1.0zM593.2 51.2h1.0v1.0h-1.0zM590.5 44.6h1.0v1.0h-1.0zM592.5 47.0h1.0v1.0h-1.0zM611.4 40.0h1.0v1.0h-1.0zM595.0 50.5h1.0v1.0h-1.0zM609.1 39.7h1.0v1.0h-1.0zM591.0 44.2h1.0v1.0h-1.0zM592.9 50.8h1.0v1.0h-1.0zM592.5 41.8h1.0v1.0h-1.0zM607.4 52.6h1.0v1.0h-1.0zM597.0 52.6h1.0v1.0h-1.0zM594.8 51.2h1.0v1.0h-1.0zM599.2 51.7h1.0v1.0h-1.0zM610.4 51.0h1.0v1.0h-1.0zM599.8 53.0h1.0v1.0h-1.0zM611.3 38.9h1.0v1.0h-1.0zM609.6 50.8h1.0v1.0h-1.0zM596.6 38.3h1.0v1.0h-1.0zM592.4 49.2h1.0v1.0h-1.0zM608.3 38.4h1.0v1.0h-1.0zM594.5 39.1h1.0v1.0h-1.0zM600.9 36.1h1.0v1.0h-1.0zM611.6 46.7h1.0v1.0h-1.0zM598.5 52.3h1.0v1.0h-1.0zM612.4 46.8h1.0v1.0h-1.0zM608.1 38.0h1.0v1.0h-1.0zM599.8 37.1h1.0v1.0h-1.0zM596.3 50.7h1.0v1.0h-1.0zM608.0 37.7h1.0v1.0h-1.0zM609.0 38.4h1.0v1.0h-1.0zM612.6 47.2h1.0v1.0h-1.0zM605.2 53.8h1.0v1.0h-1.0zM602.1 37.7h1.0v1.0h-1.0zM601.9 36.0h1.0v1.0h-1.0zM600.1 52.2h1.0v1.0h-1.0zM612.6 41.4h1.0v1.0h-1.0zM601.2 36.1h1.0v1.0h-1.0zM613.3 47.8h1.0v1.0h-1.0zM592.0 48.4h1.0v1.0h-1.0zM602.8 37.9h1.0v1.0h-1.0zM598.7 36.8h1.0v1.0h-1.0zM613.9 43.2h1.0v1.0h-1.0zM591.8 42.8h1.0v1.0h-1.0zM593.4 48.8h1.0v1.0h-1.0zM598.3 51.7h1.0v1.0h-1.0zM602.9 52.8h1.0v1.0h-1.0zM590.9 44.1h1.0v1.0h-1.0zM598.4 53.2h1.0v1.0h-1.0zM609.4 51.4h1.0v1.0h-1.0zM590.1 42.2h1.0v1.0h-1.0zM607.9 52.4h1.0v1.0h-1.0zM603.3 36.2h1.0v1.0h-1.0zM610.0 49.9h1.0v1.0h-1.0zM611.9 47.7h1.0v1.0h-1.0zM605.9 52.9h1.0v1.0h-1.0zM597.2 51.9h1.0v1.0h-1.0zM595.6 50.4h1.0v1.0h-1.0zM613.7 44.5h1.0v1.0h-1.0zM612.7 49.3h1.0v1.0h-1.0zM610.6 49.9h1.0v1.0h-1.0zM592.8 47.8h1.0v1.0h-1.0zM612.0 41.0h1.0v1.0h-1.0zM593.6 38.5h1.0v1.0h-1.0zM602.4 52.3h1.0v1.0h-1.0zM613.8 46.4h1.0v1.0h-1.0zM606.7 52.6h1.0v1.0h-1.0zM609.2 37.4h1.0v1.0h-1.0zM608.1 37.0h1.0v1.0h-1.0zM597.3 51.5h1.0v1.0h-1.0zM594.3 51.0h1.0v1.0h-1.0zM594.1 51.1h1.0v1.0h-1.0zM591.7 41.6h1.0v1.0h-1.0zM607.5 36.7h1.0v1.0h-1.0zM590.4 45.2h1.0v1.0h-1.0zM607.9 51.3h1.0v1.0h-1.0zM598.3 38.2h1.0v1.0h-1.0zM590.6 48.0h1.0v1.0h-1.0zM592.7 47.6h1.0v1.0h-1.0zM600.4 37.7h1.0v1.0h-1.0zM604.8 36.7h1.0v1.0h-1.0zM599.6 53.3h1.0v1.0h-1.0zM596.4 51.5h1.0v1.0h-1.0zM596.0 37.4h1.0v1.0h-1.0zM599.0 52.4h1.0v1.0h-1.0zM592.4 42.0h1.0v1.0h-1.0zM597.2 52.0h1.0v1.0h-1.0zM614.9 43.2h1.0v1.0h-1.0zM614.2 42.8h1.0v1.0h-1.0zM605.9 38.2h1.0v1.0h-1.0zM598.7 53.0h1.0v1.0h-1.0zM612.7 42.6h1.0v1.0h-1.0zM595.3 52.3h1.0v1.0h-1.0zM612.3 46.2h1.0v1.0h-1.0zM612.3 49.3h1.0v1.0h-1.0zM594.0 51.0h1.0v1.0h-1.0zM592.0 41.8h1.0v1.0h-1.0zM610.1 49.9h1.0v1.0h-1.0zM611.5 50.7h1.0v1.0h-1.0zM601.9 52.3h1.0v1.0h-1.0zM591.0 45.4h1.0v1.0h-1.0zM603.8 53.2h1.0v1.0h-1.0zM593.4 41.0h1.0v1.0h-1.0zM593.0 49.2h1.0v1.0h-1.0zM590.8 42.2h1.0v1.0h-1.0zM602.6 37.1h1.0v1.0h-1.0zM611.6 50.0h1.0v1.0h-1.0zM593.7 49.8h1.0v1.0h-1.0zM603.7 37.7h1.0v1.0h-1.0zM603.7 38.0h1.0v1.0h-1.0zM613.7 45.7h1.0v1.0h-1.0zM604.5 52.3h1.0v1.0h-1.0zM611.1 39.4h1.0v1.0h-1.0zM610.5 38.6h1.0v1.0h-1.0zM608.1 52.5h1.0v1.0h-1.0zM595.6 52.2h1.0v1.0h-1.0zM610.4 50.7h1.0v1.0h-1.0zM601.1 36.2h1.0v1.0h-1.0zM594.2 40.5h1.0v1.0h-1.0zM590.0 42.1h1.0v1.0h-1.0zM597.1 37.8h1.0v1.0h-1.0zM606.0 52.4h1.0v1.0h-1.0zM609.9 49.7h1.0v1.0h-1.0zM611.3 50.4h1.0v1.0h-1.0zM599.1 53.3h1.0v1.0h-1.0zM594.5 50.0h1.0v1.0h-1.0zM597.6 36.7h1.0v1.0h-1.0zM611.3 42.7h1.0v1.0h-1.0zM589.9 44.8h1.0v1.0h-1.0zM605.2 38.0h1.0v1.0h-1.0zM597.1 37.3h1.0v1.0h-1.0zM591.9 46.0h1.0v1.0h-1.0zM610.2 38.9h1.0v1.0h-1.0zM611.6 48.4h1.0v1.0h-1.0zM592.9 40.7h1.0v1.0h-1.0zM607.5 52.0h1.0v1.0h-1.0zM594.0 49.9h1.0v1.0h-1.0zM613.2 45.2h1.0v1.0h-1.0zM590.2 47.1h1.0v1.0h-1.0zM611.8 47.0h1.0v1.0h-1.0zM600.5 53.0h1.0v1.0h-1.0zM601.1 53.9h1.0v1.0h-1.0zM612.0 44.6h1.0v1.0h-1.0zM590.7 41.6h1.0v1.0h-1.0zM594.1 38.5h1.0v1.0h-1.0zM595.2 50.7h1.0v1.0h-1.0zM613.7 41.5h1.0v1.0h-1.0zM598.2 52.8h1.0v1.0h-1.0zM594.7 38.8h1.0v1.0h-1.0zM591.5 42.4h1.0v1.0h-1.0zM596.6 52.9h1.0v1.0h-1.0zM591.7 45.8h1.0v1.0h-1.0zM596.1 50.9h1.0v1.0h-1.0zM614.6 45.3h1.0v1.0h-1.0zM592.5 41.7h1.0v1.0h-1.0zM606.9 51.1h1.0v1.0h-1.0zM600.4 36.7h1.0v1.0h-1.0zM612.4 41.8h1.0v1.0h-1.0zM611.2 48.5h1.0v1.0h-1.0zM590.9 40.4h1.0v1.0h-1.0zM590.7 48.9h1.0v1.0h-1.0zM612.3 48.2h1.0v1.0h-1.0zM601.6 52.0h1.0v1.0h-1.0zM607.4 51.3h1.0v1.0h-1.0zM593.7 49.4h1.0v1.0h-1.0zM592.5 39.7h1.0v1.0h-1.0zM600.8 36.0h1.0v1.0h-1.0zM593.9 40.5h1.0v1.0h-1.0zM596.1 51.6h1.0v1.0h-1.0zM606.5 52.6h1.0v1.0h-1.0zM611.6 41.3h1.0v1.0h-1.0zM596.6 52.5h1.0v1.0h-1.0zM597.4 37.8h1.0v1.0h-1.0zM612.8 47.8h1.0v1.0h-1.0zM596.5 51.8h1.0v1.0h-1.0zM593.7 40.6h1.0v1.0h-1.0zM612.0 41.3h1.0v1.0h-1.0zM612.5 44.3h1.0v1.0h-1.0z" fill="#000088"/><radialGradient id="rg3"><stop offset="0" stop-color="#50f070" stop-opacity="1"/><stop offset="0.2" stop-color="#20e8b0" stop-opacity="1"/><stop offset="0.4" stop-color="#00c8e0" stop-opacity="1"/><stop offset="0.62" stop-color="#0080e0" stop-opacity="1"/><stop offset="0.82" stop-color="#0030b8" stop-opacity="1"/><stop offset="1" stop-color="#000088" stop-opacity="1"/></radialGradient><ellipse cx="602.8" cy="45.0" rx="5.40" ry="4.20" transform="rotate(0 602.8 45.0)" fill="url(#rg3)"/>
<ellipse cx="628.5" cy="56.8" rx="10.75" ry="8.17" transform="rotate(0 628.5 56.8)" fill="#000088"/><path d="M622.9 63.4h1.0v1.0h-1.0zM633.7 62.7h1.0v1.0h-1.0zM632.4 48.5h1.0v1.0h-1.0zM616.1 54.1h1.0v1.0h-1.0zM619.2 51.3h1.0v1.0h-1.0zM627.4 48.2h1.0v1.0h-1.0zM629.9 47.6h1.0v1.0h-1.0zM629.8 46.6h1.0v1.0h-1.0zM615.6 54.9h1.0v1.0h-1.0zM635.2 62.3h1.0v1.0h-1.0zM629.6 48.1h1.0v1.0h-1.0zM638.4 55.8h1.0v1.0h-1.0zM638.2 57.7h1.0v1.0h-1.0zM638.7 59.5h1.0v1.0h-1.0zM638.1 53.2h1.0v1.0h-1.0zM634.1 62.6h1.0v1.0h-1.0zM633.9 63.6h1.0v1.0h-1.0zM630.0 48.0h1.0v1.0h-1.0zM620.9 50.1h1.0v1.0h-1.0zM631.6 47.9h1.0v1.0h-1.0zM638.1 62.5h1.0v1.0h-1.0zM639.5 60.1h1.0v1.0h-1.0zM639.2 59.7h1.0v1.0h-1.0zM616.9 61.6h1.0v1.0h-1.0zM629.7 64.4h1.0v1.0h-1.0zM627.1 64.6h1.0v1.0h-1.0zM628.7 47.2h1.0v1.0h-1.0zM624.2 65.5h1.0v1.0h-1.0zM635.1 64.5h1.0v1.0h-1.0zM635.1 50.5h1.0v1.0h-1.0zM625.6 65.1h1.0v1.0h-1.0zM615.4 57.2h1.0v1.0h-1.0zM618.3 51.1h1.0v1.0h-1.0zM617.0 51.8h1.0v1.0h-1.0zM619.6 64.0h1.0v1.0h-1.0zM635.6 49.6h1.0v1.0h-1.0zM624.7 64.5h1.0v1.0h-1.0zM638.5 63.1h1.0v1.0h-1.0zM634.9 63.6h1.0v1.0h-1.0zM636.4 60.8h1.0v1.0h-1.0zM621.3 64.4h1.0v1.0h-1.0zM625.4 47.1h1.0v1.0h-1.0zM629.2 65.3h1.0v1.0h-1.0zM624.2 49.0h1.0v1.0h-1.0zM618.9 59.5h1.0v1.0h-1.0zM640.9 57.5h1.0v1.0h-1.0zM636.9 62.7h1.0v1.0h-1.0zM635.5 62.8h1.0v1.0h-1.0zM635.6 64.0h1.0v1.0h-1.0zM617.5 56.3h1.0v1.0h-1.0zM637.9 52.1h1.0v1.0h-1.0zM630.9 66.1h1.0v1.0h-1.0zM626.4 64.5h1.0v1.0h-1.0zM627.0 64.4h1.0v1.0h-1.0zM618.4 61.1h1.0v1.0h-1.0zM621.4 62.1h1.0v1.0h-1.0zM616.4 53.8h1.0v1.0h-1.0zM623.2 47.0h1.0v1.0h-1.0zM618.9 61.4h1.0v1.0h-1.0zM616.7 61.1h1.0v1.0h-1.0zM619.1 60.6h1.0v1.0h-1.0zM638.9 56.2h1.0v1.0h-1.0zM627.6 65.7h1.0v1.0h-1.0zM620.5 61.9h1.0v1.0h-1.0zM634.7 48.6h1.0v1.0h-1.0zM636.5 52.1h1.0v1.0h-1.0zM620.9 49.2h1.0v1.0h-1.0zM622.6 65.7h1.0v1.0h-1.0zM634.8 49.5h1.0v1.0h-1.0zM617.5 51.1h1.0v1.0h-1.0zM627.5 47.4h1.0v1.0h-1.0zM625.2 47.7h1.0v1.0h-1.0zM623.2 49.0h1.0v1.0h-1.0zM620.1 50.0h1.0v1.0h-1.0zM626.8 66.2h1.0v1.0h-1.0zM615.7 57.9h1.0v1.0h-1.0zM629.8 64.0h1.0v1.0h-1.0zM638.7 52.3h1.0v1.0h-1.0zM632.1 48.9h1.0v1.0h-1.0zM634.0 64.9h1.0v1.0h-1.0zM633.8 48.0h1.0v1.0h-1.0zM635.2 50.3h1.0v1.0h-1.0zM632.5 48.8h1.0v1.0h-1.0zM634.2 63.1h1.0v1.0h-1.0zM631.8 48.0h1.0v1.0h-1.0zM616.8 58.9h1.0v1.0h-1.0zM623.8 47.5h1.0v1.0h-1.0zM616.1 57.5h1.0v1.0h-1.0zM623.3 48.7h1.0v1.0h-1.0zM617.3 55.2h1.0v1.0h-1.0zM620.5 61.6h1.0v1.0h-1.0zM631.6 64.8h1.0v1.0h-1.0zM625.9 48.4h1.0v1.0h-1.0zM623.3 63.5h1.0v1.0h-1.0zM619.9 49.2h1.0v1.0h-1.0zM631.3 64.4h1.0v1.0h-1.0zM620.6 62.2h1.0v1.0h-1.0zM617.8 59.2h1.0v1.0h-1.0zM617.9 61.3h1.0v1.0h-1.0zM632.2 48.3h1.0v1.0h-1.0zM637.6 52.6h1.0v1.0h-1.0zM640.2 54.6h1.0v1.0h-1.0zM622.9 63.4h1.0v1.0h-1.0zM628.4 47.6h1.0v1.0h-1.0zM637.7 51.0h1.0v1.0h-1.0zM639.9 57.8h1.0v1.0h-1.0zM633.9 49.2h1.0v1.0h-1.0zM615.3 57.9h1.0v1.0h-1.0zM615.7 55.6h1.0v1.0h-1.0zM622.3 48.3h1.0v1.0h-1.0zM623.1 48.5h1.0v1.0h-1.0zM629.5 47.1h1.0v1.0h-1.0zM638.9 60.7h1.0v1.0h-1.0zM636.0 60.8h1.0v1.0h-1.0zM639.7 59.5h1.0v1.0h-1.0zM625.1 47.5h1.0v1.0h-1.0zM617.8 60.7h1.0v1.0h-1.0zM640.2 56.2h1.0v1.0h-1.0zM622.2 63.8h1.0v1.0h-1.0zM640.5 56.7h1.0v1.0h-1.0zM623.8 64.0h1.0v1.0h-1.0zM635.5 49.3h1.0v1.0h-1.0zM638.1 58.9h1.0v1.0h-1.0zM636.2 49.4h1.0v1.0h-1.0zM631.1 63.8h1.0v1.0h-1.0zM616.8 54.3h1.0v1.0h-1.0zM618.6 52.1h1.0v1.0h-1.0zM631.5 48.4h1.0v1.0h-1.0zM638.4 58.9h1.0v1.0h-1.0zM616.9 54.5h1.0v1.0h-1.0zM626.2 65.4h1.0v1.0h-1.0zM624.9 65.1h1.0v1.0h-1.0zM615.4 59.1h1.0v1.0h-1.0zM616.0 59.6h1.0v1.0h-1.0zM621.5 50.4h1.0v1.0h-1.0zM634.7 50.4h1.0v1.0h-1.0zM638.2 52.2h1.0v1.0h-1.0zM631.6 48.0h1.0v1.0h-1.0zM624.9 64.4h1.0v1.0h-1.0zM633.5 49.5h1.0v1.0h-1.0zM636.2 60.9h1.0v1.0h-1.0zM630.8 46.5h1.0v1.0h-1.0zM627.4 65.9h1.0v1.0h-1.0zM623.7 48.6h1.0v1.0h-1.0zM640.0 58.7h1.0v1.0h-1.0zM625.1 64.2h1.0v1.0h-1.0zM618.3 53.4h1.0v1.0h-1.0zM637.2 52.0h1.0v1.0h-1.0zM631.9 47.1h1.0v1.0h-1.0zM619.9 61.3h1.0v1.0h-1.0zM630.0 65.2h1.0v1.0h-1.0zM637.3 61.0h1.0v1.0h-1.0zM623.4 49.0h1.0v1.0h-1.0zM633.6 48.3h1.0v1.0h-1.0zM639.3 52.9h1.0v1.0h-1.0zM625.3 64.2h1.0v1.0h-1.0zM637.7 52.8h1.0v1.0h-1.0zM615.3 57.2h1.0v1.0h-1.0zM637.0 60.5h1.0v1.0h-1.0zM626.3 65.7h1.0v1.0h-1.0zM637.1 52.8h1.0v1.0h-1.0zM617.2 50.4h1.0v1.0h-1.0zM621.8 49.3h1.0v1.0h-1.0zM622.5 63.5h1.0v1.0h-1.0zM633.6 65.2h1.0v1.0h-1.0zM625.0 63.7h1.0v1.0h-1.0zM616.6 53.4h1.0v1.0h-1.0zM618.3 51.3h1.0v1.0h-1.0zM637.6 61.4h1.0v1.0h-1.0zM635.9 62.9h1.0v1.0h-1.0zM622.5 49.4h1.0v1.0h-1.0zM634.2 64.9h1.0v1.0h-1.0zM636.5 49.7h1.0v1.0h-1.0zM634.1 62.6h1.0v1.0h-1.0zM616.6 56.5h1.0v1.0h-1.0zM636.5 62.2h1.0v1.0h-1.0zM616.6 55.9h1.0v1.0h-1.0zM631.5 64.2h1.0v1.0h-1.0zM628.8 65.7h1.0v1.0h-1.0zM614.3 56.2h1.0v1.0h-1.0zM616.0 57.0h1.0v1.0h-1.0zM617.4 52.5h1.0v1.0h-1.0zM634.5 63.5h1.0v1.0h-1.0zM639.1 58.0h1.0v1.0h-1.0zM635.8 51.5h1.0v1.0h-1.0zM618.0 52.2h1.0v1.0h-1.0zM625.4 48.5h1.0v1.0h-1.0zM628.3 65.1h1.0v1.0h-1.0zM619.4 50.3h1.0v1.0h-1.0zM632.3 48.7h1.0v1.0h-1.0zM637.2 52.5h1.0v1.0h-1.0zM638.3 53.2h1.0v1.0h-1.0zM628.4 65.4h1.0v1.0h-1.0zM623.5 49.2h1.0v1.0h-1.0zM631.4 64.0h1.0v1.0h-1.0zM621.4 65.3h1.0v1.0h-1.0zM617.0 57.4h1.0v1.0h-1.0zM630.2 47.1h1.0v1.0h-1.0zM631.9 65.2h1.0v1.0h-1.0zM635.2 48.3h1.0v1.0h-1.0zM621.7 62.9h1.0v1.0h-1.0zM639.3 54.4h1.0v1.0h-1.0zM634.0 47.8h1.0v1.0h-1.0zM638.2 51.0h1.0v1.0h-1.0zM617.9 51.4h1.0v1.0h-1.0zM633.6 48.0h1.0v1.0h-1.0zM639.2 54.2h1.0v1.0h-1.0zM638.5 53.5h1.0v1.0h-1.0zM627.8 65.6h1.0v1.0h-1.0zM629.2 64.4h1.0v1.0h-1.0zM615.6 56.7h1.0v1.0h-1.0zM623.0 47.5h1.0v1.0h-1.0zM631.3 47.3h1.0v1.0h-1.0zM639.4 53.0h1.0v1.0h-1.0zM621.0 48.7h1.0v1.0h-1.0zM621.6 64.0h1.0v1.0h-1.0zM640.0 56.6h1.0v1.0h-1.0zM638.2 57.1h1.0v1.0h-1.0zM618.8 50.9h1.0v1.0h-1.0zM622.3 63.5h1.0v1.0h-1.0zM619.6 50.3h1.0v1.0h-1.0zM637.1 60.6h1.0v1.0h-1.0zM621.3 48.2h1.0v1.0h-1.0zM637.3 63.0h1.0v1.0h-1.0zM632.3 63.8h1.0v1.0h-1.0zM638.6 54.1h1.0v1.0h-1.0zM617.6 49.7h1.0v1.0h-1.0zM618.7 61.8h1.0v1.0h-1.0zM638.4 55.7h1.0v1.0h-1.0zM633.0 49.5h1.0v1.0h-1.0zM633.6 64.7h1.0v1.0h-1.0zM616.5 58.9h1.0v1.0h-1.0zM637.5 61.6h1.0v1.0h-1.0zM635.9 49.2h1.0v1.0h-1.0zM637.9 50.4h1.0v1.0h-1.0zM639.5 60.8h1.0v1.0h-1.0zM620.2 63.3h1.0v1.0h-1.0zM620.1 49.7h1.0v1.0h-1.0zM637.4 51.6h1.0v1.0h-1.0zM619.1 64.1h1.0v1.0h-1.0zM623.3 48.2h1.0v1.0h-1.0zM616.1 59.4h1.0v1.0h-1.0zM628.0 48.3h1.0v1.0h-1.0zM622.8 64.0h1.0v1.0h-1.0zM635.2 63.3h1.0v1.0h-1.0zM618.5 52.5h1.0v1.0h-1.0zM621.0 49.7h1.0v1.0h-1.0zM628.9 47.8h1.0v1.0h-1.0zM639.6 55.1h1.0v1.0h-1.0zM632.3 47.2h1.0v1.0h-1.0zM624.8 46.9h1.0v1.0h-1.0zM626.1 64.7h1.0v1.0h-1.0zM631.0 48.1h1.0v1.0h-1.0zM635.3 63.0h1.0v1.0h-1.0zM627.2 48.4h1.0v1.0h-1.0zM624.2 63.4h1.0v1.0h-1.0zM640.7 54.3h1.0v1.0h-1.0zM632.2 64.0h1.0v1.0h-1.0zM623.2 63.9h1.0v1.0h-1.0zM636.5 61.5h1.0v1.0h-1.0zM638.6 54.4h1.0v1.0h-1.0zM631.8 66.0h1.0v1.0h-1.0zM620.0 49.2h1.0v1.0h-1.0zM624.0 63.4h1.0v1.0h-1.0zM616.5 52.9h1.0v1.0h-1.0zM628.2 47.6h1.0v1.0h-1.0zM616.6 54.7h1.0v1.0h-1.0zM620.8 50.5h1.0v1.0h-1.0zM633.3 48.6h1.0v1.0h-1.0zM620.5 63.8h1.0v1.0h-1.0zM638.6 60.1h1.0v1.0h-1.0zM628.3 46.7h1.0v1.0h-1.0zM636.6 61.8h1.0v1.0h-1.0zM620.0 48.5h1.0v1.0h-1.0zM629.8 47.6h1.0v1.0h-1.0zM639.3 52.9h1.0v1.0h-1.0zM631.9 48.3h1.0v1.0h-1.0zM633.1 65.3h1.0v1.0h-1.0zM622.0 48.1h1.0v1.0h-1.0zM635.5 62.7h1.0v1.0h-1.0zM615.6 56.2h1.0v1.0h-1.0zM622.1 48.4h1.0v1.0h-1.0zM626.1 65.7h1.0v1.0h-1.0zM631.0 47.0h1.0v1.0h-1.0zM628.3 47.3h1.0v1.0h-1.0zM637.9 50.7h1.0v1.0h-1.0zM620.1 48.2h1.0v1.0h-1.0zM636.1 63.0h1.0v1.0h-1.0zM626.3 64.4h1.0v1.0h-1.0zM618.4 50.7h1.0v1.0h-1.0zM629.7 64.1h1.0v1.0h-1.0zM622.3 47.7h1.0v1.0h-1.0zM624.7 48.7h1.0v1.0h-1.0zM634.1 48.9h1.0v1.0h-1.0zM634.8 62.4h1.0v1.0h-1.0zM639.2 59.6h1.0v1.0h-1.0zM640.0 58.6h1.0v1.0h-1.0zM636.3 61.5h1.0v1.0h-1.0zM622.3 64.1h1.0v1.0h-1.0zM630.5 65.4h1.0v1.0h-1.0zM632.5 47.5h1.0v1.0h-1.0zM640.4 58.1h1.0v1.0h-1.0zM619.1 59.8h1.0v1.0h-1.0zM619.6 49.5h1.0v1.0h-1.0zM616.3 55.6h1.0v1.0h-1.0zM630.0 66.3h1.0v1.0h-1.0zM638.4 54.3h1.0v1.0h-1.0zM638.2 55.6h1.0v1.0h-1.0z" fill="#000088"/><radialGradient id="rg4"><stop offset="0" stop-color="#30e0c0" stop-opacity="1"/><stop offset="0.3" stop-color="#10c8e0" stop-opacity="1"/><stop offset="0.6" stop-color="#0080e0" stop-opacity="1"/><stop offset="0.82" stop-color="#0030b8" stop-opacity="1"/><stop offset="1" stop-color="#000088" stop-opacity="1"/></radialGradient><ellipse cx="629.0" cy="56.9" rx="5.80" ry="4.40" transform="rotate(0 629.0 56.9)" fill="url(#rg4)"/>
<path d="M453.2 145.9 A115.6 115.6 0 0 1 684.4 145.9" fill="none" stroke="#505050" stroke-width="1.2"/>
<circle cx="502.3" cy="56.2" r="6.5" fill="none" stroke="#1850e0" stroke-width="1.0"/>
<circle cx="565.1" cy="39.4" r="6.4" fill="none" stroke="#c8bc18" stroke-width="1.1"/>
<circle cx="602.8" cy="44.9" r="6.5" fill="none" stroke="#e020e0" stroke-width="1.1"/>
<circle cx="629.0" cy="56.9" r="6.6" fill="none" stroke="#e01818" stroke-width="1.1"/>
<text x="449.30" y="76.00" font-size="9.0" fill="#2020f8" font-weight="normal" font-style="normal" text-anchor="start" >NP type A (3.71 ns)</text>
<text x="513.00" y="30.00" font-size="9.0" fill="#b4b428" font-weight="normal" font-style="normal" text-anchor="start" >NP type D (1.95 ns)</text>
<text x="598.40" y="35.00" font-size="9.0" fill="#ea18ea" font-weight="normal" font-style="normal" text-anchor="start" >NP type C (1.38 ns)</text>
<text x="596.30" y="76.50" font-size="9.0" fill="#ee1414" font-weight="normal" font-style="normal" text-anchor="start" >NP type B (1.03 ns)</text>
<line x1="14.5" y1="270.4" x2="61.50" y2="185.90" stroke="#ccbcc2" stroke-width="0.65"/>
<line x1="14.5" y1="270.4" x2="70.00" y2="185.90" stroke="#bccccf" stroke-width="0.65"/>
<line x1="14.5" y1="270.4" x2="78.70" y2="185.90" stroke="#c6ccb8" stroke-width="0.65"/>
<line x1="14.5" y1="270.4" x2="126.00" y2="185.90" stroke="#ccc0cc" stroke-width="0.65"/>
<ellipse cx="44.9" cy="214.2" rx="7.05" ry="6.02" transform="rotate(0 44.9 214.2)" fill="#000088"/><path d="M37.1 215.6h1.0v1.0h-1.0zM42.5 207.6h1.0v1.0h-1.0zM38.6 217.2h1.0v1.0h-1.0zM47.2 220.2h1.0v1.0h-1.0zM46.9 219.9h1.0v1.0h-1.0zM46.9 219.7h1.0v1.0h-1.0zM52.3 212.6h1.0v1.0h-1.0zM52.1 211.5h1.0v1.0h-1.0zM51.2 216.1h1.0v1.0h-1.0zM52.4 214.3h1.0v1.0h-1.0zM43.7 220.2h1.0v1.0h-1.0zM48.5 219.5h1.0v1.0h-1.0zM50.9 215.3h1.0v1.0h-1.0zM39.4 219.2h1.0v1.0h-1.0zM50.0 217.3h1.0v1.0h-1.0zM49.5 220.0h1.0v1.0h-1.0zM51.2 210.1h1.0v1.0h-1.0zM36.5 214.7h1.0v1.0h-1.0zM37.5 211.2h1.0v1.0h-1.0zM46.4 220.1h1.0v1.0h-1.0zM42.4 206.9h1.0v1.0h-1.0zM51.6 212.9h1.0v1.0h-1.0zM47.6 207.1h1.0v1.0h-1.0zM48.8 217.9h1.0v1.0h-1.0zM39.4 217.8h1.0v1.0h-1.0zM48.2 207.8h1.0v1.0h-1.0zM50.1 209.7h1.0v1.0h-1.0zM51.2 216.5h1.0v1.0h-1.0zM36.3 214.4h1.0v1.0h-1.0zM46.4 219.6h1.0v1.0h-1.0zM50.5 217.7h1.0v1.0h-1.0zM49.5 218.1h1.0v1.0h-1.0zM39.3 208.7h1.0v1.0h-1.0zM38.3 215.8h1.0v1.0h-1.0zM37.3 214.8h1.0v1.0h-1.0zM40.8 207.9h1.0v1.0h-1.0zM41.6 207.4h1.0v1.0h-1.0zM49.5 219.1h1.0v1.0h-1.0zM45.0 220.7h1.0v1.0h-1.0zM45.4 219.9h1.0v1.0h-1.0zM38.8 208.3h1.0v1.0h-1.0zM51.5 215.2h1.0v1.0h-1.0zM50.8 215.0h1.0v1.0h-1.0zM44.9 220.7h1.0v1.0h-1.0zM51.8 210.8h1.0v1.0h-1.0zM50.4 210.8h1.0v1.0h-1.0zM44.7 208.0h1.0v1.0h-1.0zM52.3 212.6h1.0v1.0h-1.0zM48.6 219.5h1.0v1.0h-1.0zM51.1 218.2h1.0v1.0h-1.0zM52.9 213.8h1.0v1.0h-1.0zM36.5 211.2h1.0v1.0h-1.0zM37.9 210.0h1.0v1.0h-1.0zM50.4 216.4h1.0v1.0h-1.0zM39.2 217.0h1.0v1.0h-1.0zM44.2 207.9h1.0v1.0h-1.0zM37.4 215.3h1.0v1.0h-1.0zM40.3 208.9h1.0v1.0h-1.0zM51.8 212.8h1.0v1.0h-1.0zM40.4 218.2h1.0v1.0h-1.0zM48.7 208.6h1.0v1.0h-1.0zM39.7 218.1h1.0v1.0h-1.0zM37.8 209.3h1.0v1.0h-1.0zM45.2 208.1h1.0v1.0h-1.0zM41.7 207.7h1.0v1.0h-1.0zM36.8 212.9h1.0v1.0h-1.0zM39.4 208.0h1.0v1.0h-1.0zM43.5 206.5h1.0v1.0h-1.0zM43.0 208.0h1.0v1.0h-1.0zM40.7 207.0h1.0v1.0h-1.0zM48.0 220.2h1.0v1.0h-1.0zM37.2 216.0h1.0v1.0h-1.0zM40.1 218.8h1.0v1.0h-1.0zM50.8 217.4h1.0v1.0h-1.0zM51.5 210.9h1.0v1.0h-1.0zM48.7 207.7h1.0v1.0h-1.0zM44.4 220.1h1.0v1.0h-1.0zM51.8 214.5h1.0v1.0h-1.0zM40.4 220.0h1.0v1.0h-1.0zM45.7 206.8h1.0v1.0h-1.0zM51.0 218.1h1.0v1.0h-1.0zM41.3 219.9h1.0v1.0h-1.0zM51.3 212.4h1.0v1.0h-1.0zM36.1 212.3h1.0v1.0h-1.0zM37.5 217.6h1.0v1.0h-1.0zM41.3 207.1h1.0v1.0h-1.0zM42.5 220.5h1.0v1.0h-1.0zM51.5 214.2h1.0v1.0h-1.0zM48.2 220.1h1.0v1.0h-1.0zM41.4 207.7h1.0v1.0h-1.0zM44.5 220.1h1.0v1.0h-1.0zM52.0 214.8h1.0v1.0h-1.0zM52.1 212.2h1.0v1.0h-1.0zM37.6 210.0h1.0v1.0h-1.0zM42.1 219.2h1.0v1.0h-1.0zM50.4 216.0h1.0v1.0h-1.0zM50.1 217.8h1.0v1.0h-1.0zM52.0 212.4h1.0v1.0h-1.0zM47.6 219.3h1.0v1.0h-1.0zM42.0 219.6h1.0v1.0h-1.0zM43.5 207.8h1.0v1.0h-1.0zM50.8 211.2h1.0v1.0h-1.0zM47.7 208.5h1.0v1.0h-1.0zM49.3 208.3h1.0v1.0h-1.0zM51.4 214.1h1.0v1.0h-1.0zM50.2 210.3h1.0v1.0h-1.0zM40.6 208.5h1.0v1.0h-1.0zM48.7 218.4h1.0v1.0h-1.0zM40.1 208.5h1.0v1.0h-1.0zM45.6 219.9h1.0v1.0h-1.0zM50.0 218.8h1.0v1.0h-1.0zM39.1 219.0h1.0v1.0h-1.0zM44.3 220.2h1.0v1.0h-1.0zM37.9 212.9h1.0v1.0h-1.0zM42.7 220.2h1.0v1.0h-1.0zM45.0 207.8h1.0v1.0h-1.0zM38.9 217.9h1.0v1.0h-1.0zM39.8 208.8h1.0v1.0h-1.0zM40.3 207.9h1.0v1.0h-1.0zM45.0 219.3h1.0v1.0h-1.0zM36.9 215.3h1.0v1.0h-1.0zM50.1 217.0h1.0v1.0h-1.0zM45.3 219.8h1.0v1.0h-1.0zM49.4 217.6h1.0v1.0h-1.0zM51.5 211.1h1.0v1.0h-1.0zM50.5 216.2h1.0v1.0h-1.0zM50.3 208.3h1.0v1.0h-1.0zM48.8 209.0h1.0v1.0h-1.0zM44.8 219.6h1.0v1.0h-1.0zM49.1 209.2h1.0v1.0h-1.0zM51.0 210.8h1.0v1.0h-1.0zM43.6 207.9h1.0v1.0h-1.0zM46.5 220.0h1.0v1.0h-1.0zM39.8 218.3h1.0v1.0h-1.0zM47.2 218.7h1.0v1.0h-1.0zM39.9 208.3h1.0v1.0h-1.0zM44.0 207.4h1.0v1.0h-1.0zM45.2 220.3h1.0v1.0h-1.0zM49.4 219.2h1.0v1.0h-1.0zM51.9 211.4h1.0v1.0h-1.0zM50.2 210.3h1.0v1.0h-1.0zM45.5 220.1h1.0v1.0h-1.0zM45.8 219.2h1.0v1.0h-1.0zM38.0 215.9h1.0v1.0h-1.0zM36.8 210.0h1.0v1.0h-1.0zM37.4 217.9h1.0v1.0h-1.0zM45.2 219.9h1.0v1.0h-1.0zM35.0 213.1h1.0v1.0h-1.0zM39.4 209.7h1.0v1.0h-1.0zM48.0 208.4h1.0v1.0h-1.0zM45.6 220.6h1.0v1.0h-1.0zM41.1 219.4h1.0v1.0h-1.0zM51.9 214.6h1.0v1.0h-1.0zM48.8 219.8h1.0v1.0h-1.0zM44.0 219.9h1.0v1.0h-1.0zM37.1 211.2h1.0v1.0h-1.0zM50.5 218.6h1.0v1.0h-1.0zM48.7 218.6h1.0v1.0h-1.0zM49.4 210.0h1.0v1.0h-1.0zM45.1 219.7h1.0v1.0h-1.0zM37.5 217.5h1.0v1.0h-1.0zM40.0 207.7h1.0v1.0h-1.0zM51.1 211.5h1.0v1.0h-1.0zM52.1 215.9h1.0v1.0h-1.0zM42.7 219.5h1.0v1.0h-1.0zM52.6 212.2h1.0v1.0h-1.0zM49.1 208.1h1.0v1.0h-1.0zM40.1 208.4h1.0v1.0h-1.0zM40.2 208.2h1.0v1.0h-1.0zM47.0 207.0h1.0v1.0h-1.0zM51.6 216.9h1.0v1.0h-1.0zM38.2 211.2h1.0v1.0h-1.0zM45.0 220.0h1.0v1.0h-1.0zM36.3 212.7h1.0v1.0h-1.0zM39.0 209.2h1.0v1.0h-1.0zM40.5 207.4h1.0v1.0h-1.0zM41.0 207.8h1.0v1.0h-1.0zM39.9 208.6h1.0v1.0h-1.0zM45.2 219.9h1.0v1.0h-1.0zM51.8 212.0h1.0v1.0h-1.0zM50.4 210.0h1.0v1.0h-1.0zM43.7 207.4h1.0v1.0h-1.0zM49.5 218.2h1.0v1.0h-1.0zM45.9 219.6h1.0v1.0h-1.0zM38.4 217.1h1.0v1.0h-1.0zM51.4 216.9h1.0v1.0h-1.0zM39.6 219.0h1.0v1.0h-1.0zM38.1 215.9h1.0v1.0h-1.0zM41.4 208.6h1.0v1.0h-1.0zM38.8 218.8h1.0v1.0h-1.0zM39.2 208.2h1.0v1.0h-1.0zM42.1 206.8h1.0v1.0h-1.0zM42.0 219.8h1.0v1.0h-1.0zM47.9 207.6h1.0v1.0h-1.0zM38.1 210.3h1.0v1.0h-1.0zM51.8 214.3h1.0v1.0h-1.0zM50.5 216.1h1.0v1.0h-1.0zM48.1 219.7h1.0v1.0h-1.0zM43.7 220.2h1.0v1.0h-1.0zM51.5 213.2h1.0v1.0h-1.0zM51.6 212.5h1.0v1.0h-1.0zM40.6 219.2h1.0v1.0h-1.0zM37.2 214.5h1.0v1.0h-1.0zM50.6 215.6h1.0v1.0h-1.0zM38.8 209.0h1.0v1.0h-1.0zM43.8 220.4h1.0v1.0h-1.0zM37.3 214.0h1.0v1.0h-1.0zM51.3 210.9h1.0v1.0h-1.0zM41.9 208.0h1.0v1.0h-1.0zM43.0 207.8h1.0v1.0h-1.0zM51.2 217.6h1.0v1.0h-1.0zM47.3 220.0h1.0v1.0h-1.0z" fill="#000088"/><radialGradient id="rg5"><stop offset="0" stop-color="#ff2000" stop-opacity="1"/><stop offset="0.18" stop-color="#ffd000" stop-opacity="1"/><stop offset="0.35" stop-color="#60f040" stop-opacity="1"/><stop offset="0.55" stop-color="#10d0d0" stop-opacity="1"/><stop offset="0.78" stop-color="#0050d0" stop-opacity="1"/><stop offset="1" stop-color="#000090" stop-opacity="0"/></radialGradient><ellipse cx="44.9" cy="214.2" rx="5.60" ry="5.00" transform="rotate(0 44.9 214.2)" fill="url(#rg5)"/>
<path d="M14.5 270.4 A72.5 72.5 0 0 1 159.5 270.4" fill="none" stroke="#5a5a5a" stroke-width="1.0"/>
<text transform="translate(37.9,202.6) rotate(-11.2)" font-size="10.8" fill="#2b2b2b">τ<tspan dx="0.5"> decrease</tspan></text>
<circle cx="45.4" cy="214.2" r="2.8" fill="none" stroke="#c42424" stroke-width="0.95"/>
<circle cx="55.2" cy="212.4" r="2.9" fill="none" stroke="#20bccc" stroke-width="0.95"/>
<circle cx="60.4" cy="211.0" r="3.0" fill="none" stroke="#b8b41c" stroke-width="0.95"/>
<circle cx="100.6" cy="204.6" r="4.1" fill="none" stroke="#c030d8" stroke-width="1.0"/>
<line x1="53.2" y1="223.6" x2="86.15" y2="217.60" stroke="#f01c1c" stroke-width="2.4"/>
<polygon points="84.3,210.8 87.0,224.4 99.3,214.8" fill="#f01c1c"/>
<text x="85.2" y="246.4" font-size="10.25" fill="#2b2b2b">τ<tspan font-size="7.38" dy="2.77">ϕ</tspan><tspan dy="-2.77"> = 3.7 ns</tspan></text>
<text x="104.20" y="258.60" font-size="10.4" fill="#e8202a" font-weight="bold" font-style="normal" text-anchor="start" >Water</text>
<line x1="173.2" y1="270.4" x2="220.20" y2="185.90" stroke="#ccbcc2" stroke-width="0.65"/>
<line x1="173.2" y1="270.4" x2="228.70" y2="185.90" stroke="#bccccf" stroke-width="0.65"/>
<line x1="173.2" y1="270.4" x2="237.40" y2="185.90" stroke="#c6ccb8" stroke-width="0.65"/>
<line x1="173.2" y1="270.4" x2="284.70" y2="185.90" stroke="#ccc0cc" stroke-width="0.65"/>
<ellipse cx="213.6" cy="212.8" rx="2.84" ry="3.10" transform="rotate(0 213.6 212.8)" fill="#000088"/><path d="M213.4 215.5h1.0v1.0h-1.0zM211.5 209.4h1.0v1.0h-1.0zM210.7 210.8h1.0v1.0h-1.0zM211.3 210.1h1.0v1.0h-1.0zM209.9 211.6h1.0v1.0h-1.0zM216.2 213.0h1.0v1.0h-1.0zM211.1 209.6h1.0v1.0h-1.0zM210.6 209.9h1.0v1.0h-1.0zM211.6 209.6h1.0v1.0h-1.0zM214.6 214.8h1.0v1.0h-1.0zM212.3 208.5h1.0v1.0h-1.0zM213.9 209.3h1.0v1.0h-1.0zM216.2 213.5h1.0v1.0h-1.0zM215.4 213.9h1.0v1.0h-1.0zM216.0 210.8h1.0v1.0h-1.0zM210.3 213.0h1.0v1.0h-1.0zM210.2 211.9h1.0v1.0h-1.0zM212.5 209.1h1.0v1.0h-1.0zM215.8 213.7h1.0v1.0h-1.0zM210.3 212.6h1.0v1.0h-1.0zM211.8 215.3h1.0v1.0h-1.0zM212.3 208.8h1.0v1.0h-1.0zM216.1 210.7h1.0v1.0h-1.0zM211.0 210.2h1.0v1.0h-1.0zM212.6 215.2h1.0v1.0h-1.0zM216.4 211.9h1.0v1.0h-1.0zM211.0 210.1h1.0v1.0h-1.0zM216.0 213.7h1.0v1.0h-1.0zM215.7 214.0h1.0v1.0h-1.0zM215.9 214.4h1.0v1.0h-1.0zM213.4 209.4h1.0v1.0h-1.0zM215.2 214.1h1.0v1.0h-1.0zM214.5 209.6h1.0v1.0h-1.0zM214.6 215.5h1.0v1.0h-1.0z" fill="#000088"/><radialGradient id="rg6"><stop offset="0" stop-color="#ff4000" stop-opacity="1"/><stop offset="0.2" stop-color="#c0f020" stop-opacity="1"/><stop offset="0.45" stop-color="#30e0a0" stop-opacity="1"/><stop offset="0.7" stop-color="#0090e0" stop-opacity="1"/><stop offset="1" stop-color="#000090" stop-opacity="0"/></radialGradient><ellipse cx="214.3" cy="212.6" rx="2.60" ry="2.60" transform="rotate(0 214.3 212.6)" fill="url(#rg6)"/><ellipse cx="219.7" cy="211.3" rx="2.24" ry="1.89" transform="rotate(0 219.7 211.3)" fill="#000088"/><path d="M220.8 212.1h1.0v1.0h-1.0zM221.3 210.5h1.0v1.0h-1.0zM221.3 209.3h1.0v1.0h-1.0zM216.6 211.2h1.0v1.0h-1.0zM216.8 211.3h1.0v1.0h-1.0zM219.0 208.9h1.0v1.0h-1.0zM221.4 212.3h1.0v1.0h-1.0zM218.0 212.4h1.0v1.0h-1.0zM221.5 210.7h1.0v1.0h-1.0zM220.6 209.3h1.0v1.0h-1.0zM217.9 212.5h1.0v1.0h-1.0zM216.9 211.9h1.0v1.0h-1.0zM221.8 210.9h1.0v1.0h-1.0zM217.1 209.4h1.0v1.0h-1.0zM220.7 209.1h1.0v1.0h-1.0zM219.0 212.8h1.0v1.0h-1.0zM217.6 212.1h1.0v1.0h-1.0zM219.6 213.1h1.0v1.0h-1.0zM221.1 209.4h1.0v1.0h-1.0zM219.3 213.1h1.0v1.0h-1.0zM218.8 208.4h1.0v1.0h-1.0zM220.1 209.0h1.0v1.0h-1.0zM220.4 209.2h1.0v1.0h-1.0zM217.0 210.3h1.0v1.0h-1.0z" fill="#000088"/><radialGradient id="rg7"><stop offset="0" stop-color="#50f070" stop-opacity="1"/><stop offset="0.2" stop-color="#20e8b0" stop-opacity="1"/><stop offset="0.4" stop-color="#00c8e0" stop-opacity="1"/><stop offset="0.62" stop-color="#0080e0" stop-opacity="1"/><stop offset="0.82" stop-color="#0030b8" stop-opacity="1"/><stop offset="1" stop-color="#000088" stop-opacity="1"/></radialGradient><ellipse cx="219.7" cy="211.3" rx="0.03" ry="0.02" transform="rotate(0 219.7 211.3)" fill="url(#rg7)"/>
<path d="M173.2 270.4 A72.5 72.5 0 0 1 318.2 270.4" fill="none" stroke="#5a5a5a" stroke-width="1.0"/>
<text transform="translate(193.3,201.8) rotate(-11.2)" font-size="10.8" fill="#2b2b2b">τ<tspan dx="0.5"> decrease</tspan></text>
<circle cx="204.3" cy="213.8" r="2.8" fill="none" stroke="#c42424" stroke-width="0.95"/>
<circle cx="214.3" cy="212.4" r="2.9" fill="none" stroke="#20bccc" stroke-width="0.95"/>
<circle cx="219.6" cy="211.0" r="3.0" fill="none" stroke="#b8b41c" stroke-width="0.95"/>
<circle cx="259.8" cy="204.5" r="4.1" fill="none" stroke="#c030d8" stroke-width="1.0"/>
<line x1="213.4" y1="223.6" x2="244.85" y2="217.60" stroke="#1eb4ec" stroke-width="2.4"/>
<polygon points="243.0,210.8 245.7,224.4 258.6,215.0" fill="#1eb4ec"/>
<text x="244.9" y="245.8" font-size="10.25" fill="#2b2b2b">τ<tspan font-size="7.38" dy="2.77">ϕ</tspan><tspan dy="-2.77"> = 2.9 ns</tspan></text>
<text x="231.80" y="258.00" font-size="10.4" fill="#1aaef0" font-weight="bold" font-style="normal" text-anchor="start" >Imaging media</text>
<line x1="13.5" y1="361.0" x2="60.50" y2="276.50" stroke="#ccbcc2" stroke-width="0.65"/>
<line x1="13.5" y1="361.0" x2="69.00" y2="276.50" stroke="#bccccf" stroke-width="0.65"/>
<line x1="13.5" y1="361.0" x2="77.70" y2="276.50" stroke="#c6ccb8" stroke-width="0.65"/>
<line x1="13.5" y1="361.0" x2="125.00" y2="276.50" stroke="#ccc0cc" stroke-width="0.65"/>
<ellipse cx="59.5" cy="301.9" rx="2.32" ry="2.06" transform="rotate(0 59.5 301.9)" fill="#000088"/><path d="M60.5 299.4h1.0v1.0h-1.0zM60.7 299.9h1.0v1.0h-1.0zM57.9 299.3h1.0v1.0h-1.0zM61.6 302.1h1.0v1.0h-1.0zM57.6 303.4h1.0v1.0h-1.0zM59.5 299.1h1.0v1.0h-1.0zM59.0 303.4h1.0v1.0h-1.0zM58.0 303.1h1.0v1.0h-1.0zM61.0 302.3h1.0v1.0h-1.0zM58.9 299.3h1.0v1.0h-1.0zM59.9 299.1h1.0v1.0h-1.0zM58.0 303.6h1.0v1.0h-1.0zM61.1 300.0h1.0v1.0h-1.0zM58.0 303.6h1.0v1.0h-1.0zM56.8 300.2h1.0v1.0h-1.0zM56.4 301.1h1.0v1.0h-1.0zM57.8 299.6h1.0v1.0h-1.0zM57.4 303.1h1.0v1.0h-1.0zM60.9 303.1h1.0v1.0h-1.0zM61.6 301.9h1.0v1.0h-1.0zM57.0 302.3h1.0v1.0h-1.0zM56.4 301.1h1.0v1.0h-1.0zM59.5 303.7h1.0v1.0h-1.0zM59.8 299.3h1.0v1.0h-1.0zM56.6 302.3h1.0v1.0h-1.0z" fill="#000088"/><radialGradient id="rg8"><stop offset="0" stop-color="#80f040" stop-opacity="1"/><stop offset="0.4" stop-color="#30e080" stop-opacity="1"/><stop offset="0.75" stop-color="#0090e0" stop-opacity="1"/><stop offset="1" stop-color="#000090" stop-opacity="0"/></radialGradient><ellipse cx="59.5" cy="301.9" rx="1.90" ry="1.70" transform="rotate(0 59.5 301.9)" fill="url(#rg8)"/>
<path d="M13.5 361.0 A72.5 72.5 0 0 1 158.5 361.0" fill="none" stroke="#5a5a5a" stroke-width="1.0"/>
<text transform="translate(38.8,290.8) rotate(-11.2)" font-size="10.8" fill="#2b2b2b">τ<tspan dx="0.5"> decrease</tspan></text>
<circle cx="44.5" cy="304.8" r="2.8" fill="none" stroke="#c42424" stroke-width="0.95"/>
<circle cx="54.3" cy="303.0" r="2.9" fill="none" stroke="#20bccc" stroke-width="0.95"/>
<circle cx="59.3" cy="301.8" r="3.0" fill="none" stroke="#b8b41c" stroke-width="0.95"/>
<circle cx="100.5" cy="295.5" r="4.1" fill="none" stroke="#c030d8" stroke-width="1.0"/>
<line x1="53.7" y1="318.3" x2="86.70" y2="311.95" stroke="#f8700c" stroke-width="2.4"/>
<polygon points="84.7,305.2 87.7,318.7 99.7,309.3" fill="#f8700c"/>
<text x="85.2" y="348.9" font-size="10.25" fill="#2b2b2b">τ<tspan font-size="7.38" dy="2.77">ϕ</tspan><tspan dy="-2.77"> = 2.7 ns</tspan></text>
<text x="88.80" y="361.40" font-size="10.4" fill="#f4802c" font-weight="bold" font-style="normal" text-anchor="start" >25% FBS</text>
<line x1="171.5" y1="362.3" x2="218.50" y2="277.80" stroke="#ccbcc2" stroke-width="0.65"/>
<line x1="171.5" y1="362.3" x2="227.00" y2="277.80" stroke="#bccccf" stroke-width="0.65"/>
<line x1="171.5" y1="362.3" x2="235.70" y2="277.80" stroke="#c6ccb8" stroke-width="0.65"/>
<line x1="171.5" y1="362.3" x2="283.00" y2="277.80" stroke="#ccc0cc" stroke-width="0.65"/>
<ellipse cx="259.5" cy="297.4" rx="18.49" ry="9.89" transform="rotate(10 259.5 297.4)" fill="#000088"/><path d="M255.7 285.0h1.0v1.0h-1.0zM247.4 304.9h1.0v1.0h-1.0zM265.2 308.5h1.0v1.0h-1.0zM270.5 308.0h1.0v1.0h-1.0zM278.3 300.3h1.0v1.0h-1.0zM276.7 294.2h1.0v1.0h-1.0zM262.4 285.3h1.0v1.0h-1.0zM262.2 307.3h1.0v1.0h-1.0zM236.2 292.7h1.0v1.0h-1.0zM236.8 292.1h1.0v1.0h-1.0zM242.5 290.2h1.0v1.0h-1.0zM239.7 298.8h1.0v1.0h-1.0zM256.1 306.8h1.0v1.0h-1.0zM241.5 295.7h1.0v1.0h-1.0zM277.4 300.5h1.0v1.0h-1.0zM258.8 307.5h1.0v1.0h-1.0zM240.1 292.5h1.0v1.0h-1.0zM263.3 308.5h1.0v1.0h-1.0zM257.2 285.5h1.0v1.0h-1.0zM253.8 308.0h1.0v1.0h-1.0zM275.7 295.4h1.0v1.0h-1.0zM272.9 304.3h1.0v1.0h-1.0zM266.8 287.5h1.0v1.0h-1.0zM246.4 285.4h1.0v1.0h-1.0zM247.0 304.3h1.0v1.0h-1.0zM267.6 307.4h1.0v1.0h-1.0zM246.7 287.9h1.0v1.0h-1.0zM273.7 304.6h1.0v1.0h-1.0zM249.6 305.0h1.0v1.0h-1.0zM237.6 297.6h1.0v1.0h-1.0zM237.3 294.1h1.0v1.0h-1.0zM245.4 289.3h1.0v1.0h-1.0zM266.1 306.7h1.0v1.0h-1.0zM240.8 300.2h1.0v1.0h-1.0zM241.7 298.5h1.0v1.0h-1.0zM269.7 308.5h1.0v1.0h-1.0zM244.0 290.0h1.0v1.0h-1.0zM244.7 303.5h1.0v1.0h-1.0zM276.7 294.9h1.0v1.0h-1.0zM240.8 290.0h1.0v1.0h-1.0zM259.0 285.1h1.0v1.0h-1.0zM273.1 290.1h1.0v1.0h-1.0zM242.3 287.7h1.0v1.0h-1.0zM240.0 290.1h1.0v1.0h-1.0zM265.1 307.3h1.0v1.0h-1.0zM277.6 301.9h1.0v1.0h-1.0zM238.6 294.7h1.0v1.0h-1.0zM245.3 303.7h1.0v1.0h-1.0zM278.3 295.5h1.0v1.0h-1.0zM243.0 301.1h1.0v1.0h-1.0zM264.8 288.0h1.0v1.0h-1.0zM243.4 303.2h1.0v1.0h-1.0zM241.2 291.3h1.0v1.0h-1.0zM268.8 308.6h1.0v1.0h-1.0zM277.8 301.7h1.0v1.0h-1.0zM268.7 306.6h1.0v1.0h-1.0zM275.2 303.2h1.0v1.0h-1.0zM279.3 293.8h1.0v1.0h-1.0zM238.0 289.2h1.0v1.0h-1.0zM241.2 297.9h1.0v1.0h-1.0zM260.7 285.7h1.0v1.0h-1.0zM274.6 291.6h1.0v1.0h-1.0zM242.6 287.2h1.0v1.0h-1.0zM269.8 305.3h1.0v1.0h-1.0zM255.7 285.7h1.0v1.0h-1.0zM265.6 308.0h1.0v1.0h-1.0zM250.2 284.2h1.0v1.0h-1.0zM239.3 298.0h1.0v1.0h-1.0zM256.6 308.1h1.0v1.0h-1.0zM255.7 286.8h1.0v1.0h-1.0zM265.2 307.1h1.0v1.0h-1.0zM277.3 304.2h1.0v1.0h-1.0zM252.8 286.6h1.0v1.0h-1.0zM242.7 289.1h1.0v1.0h-1.0zM274.9 292.3h1.0v1.0h-1.0zM279.8 296.4h1.0v1.0h-1.0zM276.7 294.5h1.0v1.0h-1.0zM242.7 301.5h1.0v1.0h-1.0zM279.5 300.8h1.0v1.0h-1.0zM280.4 301.1h1.0v1.0h-1.0zM239.8 299.5h1.0v1.0h-1.0zM239.6 300.0h1.0v1.0h-1.0zM280.3 297.4h1.0v1.0h-1.0zM244.7 301.5h1.0v1.0h-1.0zM277.1 293.6h1.0v1.0h-1.0zM280.7 300.0h1.0v1.0h-1.0zM248.9 305.2h1.0v1.0h-1.0zM269.2 308.9h1.0v1.0h-1.0zM240.7 294.4h1.0v1.0h-1.0zM278.1 295.5h1.0v1.0h-1.0zM270.4 308.7h1.0v1.0h-1.0zM243.2 288.5h1.0v1.0h-1.0zM275.2 295.9h1.0v1.0h-1.0zM254.4 305.6h1.0v1.0h-1.0zM273.2 291.9h1.0v1.0h-1.0zM258.4 285.7h1.0v1.0h-1.0zM273.5 305.5h1.0v1.0h-1.0zM250.0 286.9h1.0v1.0h-1.0zM240.7 303.4h1.0v1.0h-1.0zM239.8 298.5h1.0v1.0h-1.0zM268.9 287.3h1.0v1.0h-1.0zM240.3 300.5h1.0v1.0h-1.0zM241.9 295.5h1.0v1.0h-1.0zM253.0 287.2h1.0v1.0h-1.0zM278.1 299.5h1.0v1.0h-1.0zM248.1 287.1h1.0v1.0h-1.0zM257.1 308.4h1.0v1.0h-1.0zM275.7 305.8h1.0v1.0h-1.0zM274.0 293.4h1.0v1.0h-1.0zM256.9 285.6h1.0v1.0h-1.0zM245.7 304.2h1.0v1.0h-1.0zM267.5 289.5h1.0v1.0h-1.0zM264.8 307.7h1.0v1.0h-1.0zM277.2 295.6h1.0v1.0h-1.0zM264.8 288.1h1.0v1.0h-1.0zM276.5 293.9h1.0v1.0h-1.0zM280.0 298.5h1.0v1.0h-1.0zM272.4 290.7h1.0v1.0h-1.0zM275.2 306.6h1.0v1.0h-1.0zM260.2 286.6h1.0v1.0h-1.0zM236.4 295.8h1.0v1.0h-1.0zM268.2 308.0h1.0v1.0h-1.0zM242.0 290.5h1.0v1.0h-1.0zM239.7 295.5h1.0v1.0h-1.0zM254.9 307.1h1.0v1.0h-1.0zM244.8 289.1h1.0v1.0h-1.0zM276.2 292.3h1.0v1.0h-1.0zM270.2 307.4h1.0v1.0h-1.0zM278.1 298.1h1.0v1.0h-1.0zM276.2 301.7h1.0v1.0h-1.0zM271.1 306.3h1.0v1.0h-1.0zM279.2 296.8h1.0v1.0h-1.0zM243.3 303.3h1.0v1.0h-1.0zM273.9 290.9h1.0v1.0h-1.0zM244.6 302.9h1.0v1.0h-1.0zM257.6 309.7h1.0v1.0h-1.0zM274.2 303.3h1.0v1.0h-1.0zM241.8 293.4h1.0v1.0h-1.0zM271.4 289.4h1.0v1.0h-1.0zM281.0 300.2h1.0v1.0h-1.0zM256.6 287.0h1.0v1.0h-1.0zM277.3 298.2h1.0v1.0h-1.0zM242.9 289.8h1.0v1.0h-1.0zM241.9 287.6h1.0v1.0h-1.0zM277.1 300.9h1.0v1.0h-1.0zM275.9 307.3h1.0v1.0h-1.0zM254.6 307.9h1.0v1.0h-1.0zM277.4 298.0h1.0v1.0h-1.0zM254.7 286.6h1.0v1.0h-1.0zM275.0 307.7h1.0v1.0h-1.0zM255.0 306.2h1.0v1.0h-1.0zM281.0 297.2h1.0v1.0h-1.0zM278.8 300.0h1.0v1.0h-1.0zM257.9 286.0h1.0v1.0h-1.0zM244.4 303.2h1.0v1.0h-1.0zM267.3 306.6h1.0v1.0h-1.0zM242.3 287.9h1.0v1.0h-1.0zM241.8 288.9h1.0v1.0h-1.0zM241.5 299.4h1.0v1.0h-1.0zM242.6 298.6h1.0v1.0h-1.0zM261.5 287.4h1.0v1.0h-1.0zM274.2 305.5h1.0v1.0h-1.0zM244.1 300.8h1.0v1.0h-1.0zM250.6 285.2h1.0v1.0h-1.0zM239.2 296.7h1.0v1.0h-1.0zM264.9 306.7h1.0v1.0h-1.0zM274.9 305.0h1.0v1.0h-1.0zM241.5 298.6h1.0v1.0h-1.0zM238.3 292.4h1.0v1.0h-1.0zM251.0 305.2h1.0v1.0h-1.0zM277.2 294.1h1.0v1.0h-1.0zM275.2 302.5h1.0v1.0h-1.0zM272.3 290.1h1.0v1.0h-1.0zM277.1 304.1h1.0v1.0h-1.0zM248.9 303.2h1.0v1.0h-1.0zM240.2 292.9h1.0v1.0h-1.0zM251.5 286.5h1.0v1.0h-1.0zM273.8 294.1h1.0v1.0h-1.0zM260.4 307.2h1.0v1.0h-1.0zM252.6 284.8h1.0v1.0h-1.0zM248.3 303.6h1.0v1.0h-1.0zM241.3 300.3h1.0v1.0h-1.0zM241.5 298.1h1.0v1.0h-1.0zM280.4 300.0h1.0v1.0h-1.0zM273.7 305.8h1.0v1.0h-1.0zM251.4 286.5h1.0v1.0h-1.0zM267.8 288.3h1.0v1.0h-1.0zM241.0 295.4h1.0v1.0h-1.0zM241.2 294.8h1.0v1.0h-1.0zM240.1 287.7h1.0v1.0h-1.0zM277.7 303.3h1.0v1.0h-1.0zM250.0 303.9h1.0v1.0h-1.0zM241.9 288.2h1.0v1.0h-1.0zM243.3 302.8h1.0v1.0h-1.0zM253.5 307.4h1.0v1.0h-1.0zM274.7 305.6h1.0v1.0h-1.0zM274.1 291.0h1.0v1.0h-1.0zM256.8 286.4h1.0v1.0h-1.0zM243.1 301.6h1.0v1.0h-1.0zM245.0 303.5h1.0v1.0h-1.0zM278.6 300.1h1.0v1.0h-1.0zM273.8 291.1h1.0v1.0h-1.0zM279.8 298.4h1.0v1.0h-1.0zM263.7 307.8h1.0v1.0h-1.0zM239.9 294.7h1.0v1.0h-1.0zM244.2 288.9h1.0v1.0h-1.0zM253.7 306.8h1.0v1.0h-1.0zM251.5 287.3h1.0v1.0h-1.0zM241.7 291.9h1.0v1.0h-1.0zM264.9 286.8h1.0v1.0h-1.0zM257.1 308.6h1.0v1.0h-1.0zM252.7 305.6h1.0v1.0h-1.0zM255.4 284.5h1.0v1.0h-1.0zM261.6 307.5h1.0v1.0h-1.0zM245.6 302.7h1.0v1.0h-1.0zM258.8 286.5h1.0v1.0h-1.0zM259.2 308.5h1.0v1.0h-1.0zM246.6 286.0h1.0v1.0h-1.0zM255.0 305.5h1.0v1.0h-1.0zM278.1 297.8h1.0v1.0h-1.0zM250.5 285.1h1.0v1.0h-1.0zM248.4 303.4h1.0v1.0h-1.0zM266.8 287.2h1.0v1.0h-1.0zM254.9 306.5h1.0v1.0h-1.0zM255.8 284.6h1.0v1.0h-1.0zM239.5 297.6h1.0v1.0h-1.0zM248.8 305.9h1.0v1.0h-1.0zM252.9 307.4h1.0v1.0h-1.0zM272.1 290.7h1.0v1.0h-1.0zM241.0 298.4h1.0v1.0h-1.0zM263.7 286.8h1.0v1.0h-1.0zM239.8 297.6h1.0v1.0h-1.0zM244.5 288.5h1.0v1.0h-1.0zM245.8 300.9h1.0v1.0h-1.0zM243.1 302.4h1.0v1.0h-1.0zM246.9 287.5h1.0v1.0h-1.0zM278.9 301.8h1.0v1.0h-1.0zM263.6 308.8h1.0v1.0h-1.0zM275.8 294.3h1.0v1.0h-1.0zM249.9 303.9h1.0v1.0h-1.0zM247.9 305.0h1.0v1.0h-1.0zM270.9 306.0h1.0v1.0h-1.0zM249.8 305.5h1.0v1.0h-1.0zM274.6 308.0h1.0v1.0h-1.0zM258.3 308.1h1.0v1.0h-1.0zM244.8 301.4h1.0v1.0h-1.0zM266.7 287.4h1.0v1.0h-1.0zM236.0 294.5h1.0v1.0h-1.0zM275.8 303.3h1.0v1.0h-1.0zM264.9 286.0h1.0v1.0h-1.0zM241.9 290.8h1.0v1.0h-1.0zM255.8 307.6h1.0v1.0h-1.0zM237.6 297.6h1.0v1.0h-1.0zM261.4 306.5h1.0v1.0h-1.0zM272.8 304.7h1.0v1.0h-1.0zM240.4 293.1h1.0v1.0h-1.0zM254.9 285.9h1.0v1.0h-1.0zM240.3 292.9h1.0v1.0h-1.0zM243.0 302.5h1.0v1.0h-1.0zM244.9 303.1h1.0v1.0h-1.0zM245.8 287.6h1.0v1.0h-1.0zM277.4 297.3h1.0v1.0h-1.0zM273.2 306.8h1.0v1.0h-1.0zM247.5 304.9h1.0v1.0h-1.0zM247.2 303.9h1.0v1.0h-1.0zM243.7 299.8h1.0v1.0h-1.0zM249.9 285.6h1.0v1.0h-1.0zM259.3 308.2h1.0v1.0h-1.0zM237.6 296.3h1.0v1.0h-1.0zM277.1 302.0h1.0v1.0h-1.0zM279.1 297.7h1.0v1.0h-1.0zM240.4 295.4h1.0v1.0h-1.0zM266.6 307.9h1.0v1.0h-1.0zM249.3 287.4h1.0v1.0h-1.0zM246.3 288.1h1.0v1.0h-1.0zM243.2 291.1h1.0v1.0h-1.0zM238.9 294.5h1.0v1.0h-1.0zM252.1 285.9h1.0v1.0h-1.0zM244.8 286.7h1.0v1.0h-1.0zM238.9 297.4h1.0v1.0h-1.0zM240.8 289.0h1.0v1.0h-1.0zM280.2 298.4h1.0v1.0h-1.0zM250.5 287.6h1.0v1.0h-1.0zM279.2 295.7h1.0v1.0h-1.0zM258.2 286.9h1.0v1.0h-1.0zM269.8 289.3h1.0v1.0h-1.0zM281.2 302.0h1.0v1.0h-1.0zM253.3 285.8h1.0v1.0h-1.0zM272.1 291.6h1.0v1.0h-1.0zM277.1 301.8h1.0v1.0h-1.0zM274.1 303.4h1.0v1.0h-1.0zM267.4 306.9h1.0v1.0h-1.0zM252.9 308.1h1.0v1.0h-1.0zM278.8 299.7h1.0v1.0h-1.0zM266.3 287.9h1.0v1.0h-1.0zM258.7 286.7h1.0v1.0h-1.0zM276.5 306.6h1.0v1.0h-1.0zM271.7 291.7h1.0v1.0h-1.0zM254.8 286.2h1.0v1.0h-1.0zM264.3 309.3h1.0v1.0h-1.0zM253.2 306.9h1.0v1.0h-1.0zM254.2 286.2h1.0v1.0h-1.0zM260.3 307.2h1.0v1.0h-1.0zM240.0 292.9h1.0v1.0h-1.0zM278.5 302.2h1.0v1.0h-1.0zM245.3 303.0h1.0v1.0h-1.0zM245.6 303.8h1.0v1.0h-1.0zM241.3 292.2h1.0v1.0h-1.0zM277.9 294.7h1.0v1.0h-1.0zM263.6 308.1h1.0v1.0h-1.0zM244.7 303.6h1.0v1.0h-1.0zM247.7 286.9h1.0v1.0h-1.0zM243.8 301.7h1.0v1.0h-1.0zM280.3 300.8h1.0v1.0h-1.0zM256.4 308.4h1.0v1.0h-1.0zM247.8 288.0h1.0v1.0h-1.0zM264.0 287.4h1.0v1.0h-1.0zM251.4 284.8h1.0v1.0h-1.0zM239.5 297.8h1.0v1.0h-1.0zM273.0 305.4h1.0v1.0h-1.0zM241.5 293.2h1.0v1.0h-1.0zM243.1 301.0h1.0v1.0h-1.0zM265.3 307.9h1.0v1.0h-1.0zM240.3 291.1h1.0v1.0h-1.0zM236.2 292.6h1.0v1.0h-1.0zM262.8 306.4h1.0v1.0h-1.0zM263.1 286.7h1.0v1.0h-1.0zM264.2 288.0h1.0v1.0h-1.0zM258.0 286.4h1.0v1.0h-1.0zM244.2 302.0h1.0v1.0h-1.0zM276.4 304.3h1.0v1.0h-1.0zM240.1 290.0h1.0v1.0h-1.0zM274.5 306.4h1.0v1.0h-1.0zM257.6 306.1h1.0v1.0h-1.0zM257.0 306.3h1.0v1.0h-1.0zM251.5 305.4h1.0v1.0h-1.0zM243.6 302.3h1.0v1.0h-1.0zM260.2 306.4h1.0v1.0h-1.0zM249.1 303.7h1.0v1.0h-1.0zM278.3 300.0h1.0v1.0h-1.0zM280.1 303.4h1.0v1.0h-1.0zM242.8 300.7h1.0v1.0h-1.0zM277.9 305.6h1.0v1.0h-1.0zM239.6 297.8h1.0v1.0h-1.0zM269.9 289.6h1.0v1.0h-1.0zM275.2 293.0h1.0v1.0h-1.0zM249.8 285.7h1.0v1.0h-1.0zM257.8 307.4h1.0v1.0h-1.0zM272.4 291.7h1.0v1.0h-1.0zM277.2 298.8h1.0v1.0h-1.0zM246.3 286.7h1.0v1.0h-1.0zM270.6 306.6h1.0v1.0h-1.0zM256.1 285.5h1.0v1.0h-1.0zM249.0 285.5h1.0v1.0h-1.0zM277.8 301.7h1.0v1.0h-1.0zM248.0 303.6h1.0v1.0h-1.0zM251.8 286.9h1.0v1.0h-1.0zM239.3 290.1h1.0v1.0h-1.0zM274.2 307.7h1.0v1.0h-1.0zM279.3 302.3h1.0v1.0h-1.0zM245.3 301.9h1.0v1.0h-1.0zM242.8 299.1h1.0v1.0h-1.0zM240.5 292.2h1.0v1.0h-1.0zM242.0 297.8h1.0v1.0h-1.0zM278.2 298.2h1.0v1.0h-1.0zM240.8 301.1h1.0v1.0h-1.0zM254.1 305.9h1.0v1.0h-1.0zM272.7 292.3h1.0v1.0h-1.0zM239.5 297.5h1.0v1.0h-1.0zM240.3 292.3h1.0v1.0h-1.0zM279.0 296.1h1.0v1.0h-1.0zM242.6 299.0h1.0v1.0h-1.0zM238.4 297.3h1.0v1.0h-1.0zM256.2 286.7h1.0v1.0h-1.0zM275.4 295.3h1.0v1.0h-1.0zM278.5 301.7h1.0v1.0h-1.0zM271.2 306.7h1.0v1.0h-1.0zM260.3 306.3h1.0v1.0h-1.0zM273.2 304.8h1.0v1.0h-1.0zM268.6 289.4h1.0v1.0h-1.0zM257.1 306.4h1.0v1.0h-1.0zM259.8 287.5h1.0v1.0h-1.0zM278.6 296.6h1.0v1.0h-1.0zM272.6 305.2h1.0v1.0h-1.0zM254.0 286.0h1.0v1.0h-1.0zM240.7 293.9h1.0v1.0h-1.0zM241.2 297.7h1.0v1.0h-1.0zM254.0 306.9h1.0v1.0h-1.0zM276.0 305.8h1.0v1.0h-1.0zM272.0 306.1h1.0v1.0h-1.0zM238.4 293.0h1.0v1.0h-1.0zM274.6 293.3h1.0v1.0h-1.0zM282.3 299.5h1.0v1.0h-1.0zM256.1 307.7h1.0v1.0h-1.0zM245.7 287.8h1.0v1.0h-1.0zM267.7 288.6h1.0v1.0h-1.0zM276.4 305.5h1.0v1.0h-1.0zM246.6 288.0h1.0v1.0h-1.0zM238.0 295.9h1.0v1.0h-1.0zM273.4 306.0h1.0v1.0h-1.0zM248.5 286.0h1.0v1.0h-1.0zM277.4 297.6h1.0v1.0h-1.0zM241.4 298.5h1.0v1.0h-1.0zM248.8 286.2h1.0v1.0h-1.0zM241.8 289.2h1.0v1.0h-1.0zM281.4 298.1h1.0v1.0h-1.0zM278.2 299.8h1.0v1.0h-1.0zM260.0 285.8h1.0v1.0h-1.0zM279.2 296.1h1.0v1.0h-1.0zM265.3 287.7h1.0v1.0h-1.0zM250.1 304.9h1.0v1.0h-1.0zM272.8 289.5h1.0v1.0h-1.0zM266.1 306.8h1.0v1.0h-1.0zM248.7 303.2h1.0v1.0h-1.0zM268.8 307.8h1.0v1.0h-1.0zM246.4 305.6h1.0v1.0h-1.0zM251.6 304.9h1.0v1.0h-1.0zM241.4 297.8h1.0v1.0h-1.0zM279.3 301.4h1.0v1.0h-1.0zM276.5 297.6h1.0v1.0h-1.0zM257.0 306.5h1.0v1.0h-1.0zM242.7 288.6h1.0v1.0h-1.0zM257.7 307.1h1.0v1.0h-1.0zM279.9 299.8h1.0v1.0h-1.0zM273.2 308.0h1.0v1.0h-1.0zM268.1 288.2h1.0v1.0h-1.0zM239.6 289.9h1.0v1.0h-1.0zM255.2 306.9h1.0v1.0h-1.0zM264.9 309.0h1.0v1.0h-1.0zM246.4 286.7h1.0v1.0h-1.0zM278.6 294.9h1.0v1.0h-1.0zM276.5 295.5h1.0v1.0h-1.0zM272.9 305.5h1.0v1.0h-1.0zM247.3 285.2h1.0v1.0h-1.0zM279.4 296.0h1.0v1.0h-1.0zM261.8 287.3h1.0v1.0h-1.0zM273.0 306.3h1.0v1.0h-1.0zM252.2 284.9h1.0v1.0h-1.0zM270.4 306.1h1.0v1.0h-1.0zM279.8 296.9h1.0v1.0h-1.0zM238.9 297.2h1.0v1.0h-1.0zM276.8 298.3h1.0v1.0h-1.0zM275.7 304.9h1.0v1.0h-1.0zM240.0 299.7h1.0v1.0h-1.0zM240.2 299.5h1.0v1.0h-1.0zM258.7 307.5h1.0v1.0h-1.0zM239.8 294.1h1.0v1.0h-1.0zM248.3 305.1h1.0v1.0h-1.0zM276.6 299.8h1.0v1.0h-1.0zM272.2 304.4h1.0v1.0h-1.0zM239.2 298.9h1.0v1.0h-1.0zM272.1 288.9h1.0v1.0h-1.0zM244.7 289.8h1.0v1.0h-1.0zM247.5 288.3h1.0v1.0h-1.0zM240.8 290.9h1.0v1.0h-1.0zM273.9 306.1h1.0v1.0h-1.0zM267.2 287.7h1.0v1.0h-1.0zM275.7 291.0h1.0v1.0h-1.0zM261.6 287.5h1.0v1.0h-1.0zM253.3 307.8h1.0v1.0h-1.0zM270.3 288.7h1.0v1.0h-1.0zM243.8 301.6h1.0v1.0h-1.0z" fill="#000088"/><path d="M262.5 288.1h0.9v0.9h-0.9zM250.0 303.5h0.9v0.9h-0.9zM275.7 296.2h0.9v0.9h-0.9zM275.0 295.4h0.9v0.9h-0.9zM262.7 297.9h0.9v0.9h-0.9zM242.8 296.7h0.9v0.9h-0.9zM257.6 278.5h0.9v0.9h-0.9zM249.6 290.0h0.9v0.9h-0.9zM249.7 289.1h0.9v0.9h-0.9zM253.3 279.8h0.9v0.9h-0.9zM271.0 300.0h0.9v0.9h-0.9zM263.1 296.3h0.9v0.9h-0.9zM260.6 295.9h0.9v0.9h-0.9zM247.0 285.0h0.9v0.9h-0.9zM259.3 304.3h0.9v0.9h-0.9zM260.7 308.6h0.9v0.9h-0.9zM242.0 292.6h0.9v0.9h-0.9zM250.0 304.1h0.9v0.9h-0.9zM282.3 297.9h0.9v0.9h-0.9zM269.3 297.5h0.9v0.9h-0.9zM246.6 294.4h0.9v0.9h-0.9zM244.1 305.2h0.9v0.9h-0.9zM265.8 306.6h0.9v0.9h-0.9zM267.0 282.3h0.9v0.9h-0.9zM269.9 299.9h0.9v0.9h-0.9zM228.2 292.6h0.9v0.9h-0.9zM270.7 311.0h0.9v0.9h-0.9zM245.2 300.3h0.9v0.9h-0.9zM264.1 297.1h0.9v0.9h-0.9zM255.2 300.3h0.9v0.9h-0.9zM266.3 303.1h0.9v0.9h-0.9zM255.7 287.8h0.9v0.9h-0.9zM275.2 309.0h0.9v0.9h-0.9zM252.1 295.9h0.9v0.9h-0.9zM272.1 287.7h0.9v0.9h-0.9zM263.2 314.5h0.9v0.9h-0.9zM263.9 293.4h0.9v0.9h-0.9zM286.2 302.2h0.9v0.9h-0.9zM262.8 295.1h0.9v0.9h-0.9zM263.9 286.0h0.9v0.9h-0.9zM244.4 284.7h0.9v0.9h-0.9zM271.4 298.9h0.9v0.9h-0.9zM276.9 286.6h0.9v0.9h-0.9zM250.0 305.7h0.9v0.9h-0.9zM251.3 283.3h0.9v0.9h-0.9zM250.2 293.4h0.9v0.9h-0.9zM257.8 306.0h0.9v0.9h-0.9zM275.1 310.7h0.9v0.9h-0.9zM267.7 295.4h0.9v0.9h-0.9zM254.7 286.5h0.9v0.9h-0.9zM274.7 308.6h0.9v0.9h-0.9zM261.7 291.7h0.9v0.9h-0.9zM267.8 302.2h0.9v0.9h-0.9zM262.9 290.1h0.9v0.9h-0.9zM263.3 294.2h0.9v0.9h-0.9zM268.5 303.1h0.9v0.9h-0.9zM265.7 295.6h0.9v0.9h-0.9zM278.5 306.0h0.9v0.9h-0.9zM275.1 305.9h0.9v0.9h-0.9zM267.7 301.5h0.9v0.9h-0.9zM247.6 282.9h0.9v0.9h-0.9zM246.6 299.3h0.9v0.9h-0.9zM271.2 300.7h0.9v0.9h-0.9zM258.5 309.7h0.9v0.9h-0.9zM256.4 284.7h0.9v0.9h-0.9zM239.7 291.7h0.9v0.9h-0.9zM267.8 303.9h0.9v0.9h-0.9zM255.7 302.3h0.9v0.9h-0.9zM259.7 292.5h0.9v0.9h-0.9zM253.7 301.5h0.9v0.9h-0.9zM273.3 292.2h0.9v0.9h-0.9zM246.5 295.9h0.9v0.9h-0.9zM288.6 294.6h0.9v0.9h-0.9zM242.7 297.3h0.9v0.9h-0.9zM266.9 294.5h0.9v0.9h-0.9zM258.6 300.6h0.9v0.9h-0.9zM236.8 293.2h0.9v0.9h-0.9zM266.3 304.9h0.9v0.9h-0.9zM274.8 299.6h0.9v0.9h-0.9zM239.1 303.0h0.9v0.9h-0.9zM270.3 295.0h0.9v0.9h-0.9zM271.8 306.7h0.9v0.9h-0.9zM260.4 281.5h0.9v0.9h-0.9zM254.3 291.3h0.9v0.9h-0.9zM248.7 294.9h0.9v0.9h-0.9zM245.0 297.5h0.9v0.9h-0.9zM285.5 293.9h0.9v0.9h-0.9zM273.7 296.3h0.9v0.9h-0.9zM266.7 297.8h0.9v0.9h-0.9zM277.0 295.7h0.9v0.9h-0.9zM270.0 294.0h0.9v0.9h-0.9zM262.5 297.8h0.9v0.9h-0.9zM275.5 289.5h0.9v0.9h-0.9zM240.3 303.5h0.9v0.9h-0.9zM262.6 309.5h0.9v0.9h-0.9zM245.8 296.4h0.9v0.9h-0.9zM265.3 310.5h0.9v0.9h-0.9zM259.3 294.3h0.9v0.9h-0.9zM268.9 298.4h0.9v0.9h-0.9zM248.9 300.7h0.9v0.9h-0.9zM235.9 286.3h0.9v0.9h-0.9zM277.8 297.2h0.9v0.9h-0.9zM254.9 299.1h0.9v0.9h-0.9zM273.5 303.5h0.9v0.9h-0.9zM247.6 291.4h0.9v0.9h-0.9zM273.3 299.0h0.9v0.9h-0.9zM250.3 301.7h0.9v0.9h-0.9zM271.8 314.4h0.9v0.9h-0.9zM246.3 290.3h0.9v0.9h-0.9zM250.1 298.2h0.9v0.9h-0.9zM252.0 303.7h0.9v0.9h-0.9zM251.5 294.1h0.9v0.9h-0.9zM266.7 300.0h0.9v0.9h-0.9zM244.6 305.0h0.9v0.9h-0.9zM267.6 295.5h0.9v0.9h-0.9zM263.5 290.6h0.9v0.9h-0.9zM243.9 292.6h0.9v0.9h-0.9zM264.1 298.9h0.9v0.9h-0.9zM251.1 286.5h0.9v0.9h-0.9zM235.9 304.1h0.9v0.9h-0.9zM265.2 293.0h0.9v0.9h-0.9zM274.3 303.7h0.9v0.9h-0.9zM254.9 292.4h0.9v0.9h-0.9zM273.9 302.2h0.9v0.9h-0.9zM280.3 303.5h0.9v0.9h-0.9zM252.6 292.1h0.9v0.9h-0.9zM250.1 297.5h0.9v0.9h-0.9zM262.1 302.0h0.9v0.9h-0.9zM266.6 291.5h0.9v0.9h-0.9zM258.0 290.7h0.9v0.9h-0.9zM267.3 289.8h0.9v0.9h-0.9zM253.0 290.4h0.9v0.9h-0.9zM251.8 294.3h0.9v0.9h-0.9zM279.4 299.2h0.9v0.9h-0.9zM241.3 292.1h0.9v0.9h-0.9zM268.6 302.8h0.9v0.9h-0.9zM260.3 311.1h0.9v0.9h-0.9zM273.8 300.5h0.9v0.9h-0.9zM276.8 291.3h0.9v0.9h-0.9zM258.3 291.3h0.9v0.9h-0.9zM259.9 308.5h0.9v0.9h-0.9zM251.2 306.8h0.9v0.9h-0.9zM244.6 304.5h0.9v0.9h-0.9zM238.6 287.9h0.9v0.9h-0.9zM272.5 299.1h0.9v0.9h-0.9zM261.4 297.6h0.9v0.9h-0.9zM262.1 296.6h0.9v0.9h-0.9zM247.2 293.3h0.9v0.9h-0.9zM262.0 291.7h0.9v0.9h-0.9zM263.5 310.1h0.9v0.9h-0.9zM238.9 290.1h0.9v0.9h-0.9zM255.9 296.9h0.9v0.9h-0.9zM261.6 292.8h0.9v0.9h-0.9zM259.1 297.4h0.9v0.9h-0.9zM256.6 307.4h0.9v0.9h-0.9zM262.9 287.9h0.9v0.9h-0.9zM238.6 297.7h0.9v0.9h-0.9zM255.8 292.5h0.9v0.9h-0.9zM242.3 292.3h0.9v0.9h-0.9zM259.1 292.7h0.9v0.9h-0.9zM253.9 302.5h0.9v0.9h-0.9zM269.0 302.8h0.9v0.9h-0.9zM258.8 288.0h0.9v0.9h-0.9zM267.8 309.1h0.9v0.9h-0.9zM274.6 308.0h0.9v0.9h-0.9zM262.7 300.5h0.9v0.9h-0.9zM257.9 305.7h0.9v0.9h-0.9zM253.5 311.0h0.9v0.9h-0.9zM269.9 297.0h0.9v0.9h-0.9zM261.4 286.8h0.9v0.9h-0.9zM250.4 293.8h0.9v0.9h-0.9zM292.1 297.6h0.9v0.9h-0.9zM271.3 300.0h0.9v0.9h-0.9zM255.0 300.9h0.9v0.9h-0.9zM232.7 299.1h0.9v0.9h-0.9zM284.1 303.8h0.9v0.9h-0.9zM258.5 298.3h0.9v0.9h-0.9zM268.6 295.7h0.9v0.9h-0.9zM260.5 301.0h0.9v0.9h-0.9zM254.5 299.2h0.9v0.9h-0.9zM263.0 302.9h0.9v0.9h-0.9zM247.4 291.6h0.9v0.9h-0.9zM252.6 304.4h0.9v0.9h-0.9zM264.7 287.0h0.9v0.9h-0.9zM240.8 307.3h0.9v0.9h-0.9zM265.4 289.6h0.9v0.9h-0.9zM247.6 296.3h0.9v0.9h-0.9zM276.0 311.4h0.9v0.9h-0.9zM255.1 294.6h0.9v0.9h-0.9zM285.4 295.3h0.9v0.9h-0.9zM279.3 303.2h0.9v0.9h-0.9zM259.2 306.1h0.9v0.9h-0.9zM266.7 293.0h0.9v0.9h-0.9zM239.8 294.0h0.9v0.9h-0.9zM264.5 307.6h0.9v0.9h-0.9zM265.7 308.8h0.9v0.9h-0.9zM269.5 300.6h0.9v0.9h-0.9zM264.6 301.0h0.9v0.9h-0.9zM251.5 295.2h0.9v0.9h-0.9zM261.7 294.7h0.9v0.9h-0.9zM242.3 284.5h0.9v0.9h-0.9zM265.4 302.0h0.9v0.9h-0.9zM262.3 289.9h0.9v0.9h-0.9zM271.0 296.7h0.9v0.9h-0.9zM230.9 303.0h0.9v0.9h-0.9zM237.6 308.9h0.9v0.9h-0.9zM266.9 295.7h0.9v0.9h-0.9zM230.0 287.4h0.9v0.9h-0.9zM277.0 309.8h0.9v0.9h-0.9zM264.9 286.7h0.9v0.9h-0.9zM254.9 294.7h0.9v0.9h-0.9zM265.6 297.6h0.9v0.9h-0.9zM265.9 287.4h0.9v0.9h-0.9zM249.5 305.5h0.9v0.9h-0.9zM239.7 300.2h0.9v0.9h-0.9zM288.5 307.0h0.9v0.9h-0.9zM240.1 302.5h0.9v0.9h-0.9zM235.2 295.4h0.9v0.9h-0.9zM252.8 304.7h0.9v0.9h-0.9zM274.5 301.3h0.9v0.9h-0.9zM281.5 308.0h0.9v0.9h-0.9zM254.5 289.8h0.9v0.9h-0.9zM291.8 300.3h0.9v0.9h-0.9zM264.9 297.6h0.9v0.9h-0.9zM255.3 285.7h0.9v0.9h-0.9zM257.8 296.3h0.9v0.9h-0.9zM272.8 296.2h0.9v0.9h-0.9zM240.6 286.7h0.9v0.9h-0.9zM258.7 299.0h0.9v0.9h-0.9zM269.3 296.5h0.9v0.9h-0.9zM266.3 299.6h0.9v0.9h-0.9zM281.4 300.9h0.9v0.9h-0.9zM260.7 301.5h0.9v0.9h-0.9zM276.3 294.1h0.9v0.9h-0.9zM253.7 294.5h0.9v0.9h-0.9zM230.5 301.2h0.9v0.9h-0.9zM273.3 300.0h0.9v0.9h-0.9zM283.8 312.4h0.9v0.9h-0.9zM272.9 290.1h0.9v0.9h-0.9zM278.8 303.7h0.9v0.9h-0.9zM244.0 295.0h0.9v0.9h-0.9zM268.1 305.7h0.9v0.9h-0.9zM262.4 294.3h0.9v0.9h-0.9zM270.3 294.1h0.9v0.9h-0.9zM257.6 302.3h0.9v0.9h-0.9zM240.5 296.6h0.9v0.9h-0.9zM235.3 286.8h0.9v0.9h-0.9zM243.7 294.0h0.9v0.9h-0.9zM268.8 298.7h0.9v0.9h-0.9zM271.2 300.1h0.9v0.9h-0.9zM256.3 300.2h0.9v0.9h-0.9zM256.3 297.8h0.9v0.9h-0.9zM273.6 296.0h0.9v0.9h-0.9zM275.7 292.7h0.9v0.9h-0.9zM258.7 285.4h0.9v0.9h-0.9zM250.8 306.8h0.9v0.9h-0.9zM262.6 306.7h0.9v0.9h-0.9zM241.7 287.3h0.9v0.9h-0.9zM264.6 304.0h0.9v0.9h-0.9zM272.3 288.2h0.9v0.9h-0.9zM266.2 298.1h0.9v0.9h-0.9zM260.5 300.8h0.9v0.9h-0.9zM257.9 285.5h0.9v0.9h-0.9zM247.4 285.4h0.9v0.9h-0.9zM242.7 293.5h0.9v0.9h-0.9zM277.2 295.6h0.9v0.9h-0.9zM251.0 288.0h0.9v0.9h-0.9zM237.1 293.9h0.9v0.9h-0.9zM253.5 294.7h0.9v0.9h-0.9zM246.5 298.4h0.9v0.9h-0.9zM243.3 298.3h0.9v0.9h-0.9zM250.0 301.1h0.9v0.9h-0.9zM247.5 298.3h0.9v0.9h-0.9zM265.3 297.9h0.9v0.9h-0.9zM280.4 302.3h0.9v0.9h-0.9zM247.2 300.0h0.9v0.9h-0.9zM249.5 291.9h0.9v0.9h-0.9zM259.4 298.6h0.9v0.9h-0.9zM283.6 289.7h0.9v0.9h-0.9zM254.8 304.3h0.9v0.9h-0.9zM257.1 299.2h0.9v0.9h-0.9zM280.7 292.7h0.9v0.9h-0.9zM259.1 302.8h0.9v0.9h-0.9zM254.0 284.4h0.9v0.9h-0.9zM246.3 296.4h0.9v0.9h-0.9zM259.8 310.1h0.9v0.9h-0.9zM278.5 290.1h0.9v0.9h-0.9zM271.9 305.9h0.9v0.9h-0.9zM280.7 300.1h0.9v0.9h-0.9zM252.1 297.1h0.9v0.9h-0.9zM278.8 305.1h0.9v0.9h-0.9zM280.6 306.5h0.9v0.9h-0.9zM253.1 289.3h0.9v0.9h-0.9zM285.3 291.5h0.9v0.9h-0.9zM255.3 294.5h0.9v0.9h-0.9zM248.4 291.5h0.9v0.9h-0.9zM256.8 313.3h0.9v0.9h-0.9zM259.3 293.8h0.9v0.9h-0.9zM260.0 303.9h0.9v0.9h-0.9zM249.4 292.8h0.9v0.9h-0.9zM236.0 298.1h0.9v0.9h-0.9zM266.6 309.0h0.9v0.9h-0.9zM241.4 309.2h0.9v0.9h-0.9zM271.1 297.6h0.9v0.9h-0.9zM254.8 294.4h0.9v0.9h-0.9zM242.9 299.8h0.9v0.9h-0.9zM252.5 291.2h0.9v0.9h-0.9zM266.1 299.3h0.9v0.9h-0.9zM252.2 294.5h0.9v0.9h-0.9zM251.5 305.3h0.9v0.9h-0.9zM273.3 294.8h0.9v0.9h-0.9zM257.4 306.5h0.9v0.9h-0.9zM253.7 308.6h0.9v0.9h-0.9zM264.5 302.9h0.9v0.9h-0.9zM231.6 298.3h0.9v0.9h-0.9zM263.2 302.1h0.9v0.9h-0.9zM265.1 302.0h0.9v0.9h-0.9zM251.9 302.2h0.9v0.9h-0.9zM261.6 290.5h0.9v0.9h-0.9zM246.1 296.2h0.9v0.9h-0.9zM266.5 283.4h0.9v0.9h-0.9zM231.5 299.7h0.9v0.9h-0.9zM239.9 292.2h0.9v0.9h-0.9zM251.1 299.8h0.9v0.9h-0.9zM275.9 311.4h0.9v0.9h-0.9zM245.0 303.3h0.9v0.9h-0.9zM243.4 296.7h0.9v0.9h-0.9zM261.0 301.9h0.9v0.9h-0.9zM247.6 304.5h0.9v0.9h-0.9zM258.6 297.1h0.9v0.9h-0.9zM257.3 289.7h0.9v0.9h-0.9zM268.5 301.3h0.9v0.9h-0.9zM263.2 310.9h0.9v0.9h-0.9zM248.6 293.5h0.9v0.9h-0.9zM258.6 303.1h0.9v0.9h-0.9zM256.1 303.2h0.9v0.9h-0.9zM267.5 286.7h0.9v0.9h-0.9zM253.0 282.3h0.9v0.9h-0.9zM256.3 294.0h0.9v0.9h-0.9zM267.0 299.9h0.9v0.9h-0.9zM257.2 305.7h0.9v0.9h-0.9zM268.7 290.5h0.9v0.9h-0.9zM250.2 298.0h0.9v0.9h-0.9zM281.8 300.0h0.9v0.9h-0.9zM257.0 298.8h0.9v0.9h-0.9zM269.8 298.6h0.9v0.9h-0.9zM263.8 295.3h0.9v0.9h-0.9zM253.3 290.8h0.9v0.9h-0.9zM268.7 295.2h0.9v0.9h-0.9zM266.2 301.4h0.9v0.9h-0.9zM248.4 287.0h0.9v0.9h-0.9zM256.4 302.4h0.9v0.9h-0.9zM276.7 303.1h0.9v0.9h-0.9zM253.8 300.1h0.9v0.9h-0.9zM230.1 298.6h0.9v0.9h-0.9zM258.9 301.6h0.9v0.9h-0.9zM247.4 287.7h0.9v0.9h-0.9zM251.2 295.6h0.9v0.9h-0.9zM264.5 295.8h0.9v0.9h-0.9zM263.2 302.8h0.9v0.9h-0.9zM244.6 294.1h0.9v0.9h-0.9zM239.9 290.2h0.9v0.9h-0.9zM272.1 294.7h0.9v0.9h-0.9zM283.1 305.1h0.9v0.9h-0.9zM270.9 300.1h0.9v0.9h-0.9zM269.4 306.7h0.9v0.9h-0.9zM261.5 294.1h0.9v0.9h-0.9zM250.1 309.1h0.9v0.9h-0.9zM257.7 293.9h0.9v0.9h-0.9zM252.3 284.5h0.9v0.9h-0.9zM252.6 298.4h0.9v0.9h-0.9zM254.1 291.2h0.9v0.9h-0.9zM264.3 301.4h0.9v0.9h-0.9zM253.5 298.5h0.9v0.9h-0.9zM245.8 300.9h0.9v0.9h-0.9zM247.1 292.9h0.9v0.9h-0.9zM261.8 294.9h0.9v0.9h-0.9zM242.1 308.8h0.9v0.9h-0.9zM281.3 289.2h0.9v0.9h-0.9zM262.6 289.2h0.9v0.9h-0.9zM265.1 289.4h0.9v0.9h-0.9zM266.4 302.3h0.9v0.9h-0.9zM280.3 309.4h0.9v0.9h-0.9zM252.4 302.7h0.9v0.9h-0.9zM253.7 295.6h0.9v0.9h-0.9zM255.1 284.4h0.9v0.9h-0.9zM269.7 285.2h0.9v0.9h-0.9zM255.8 300.4h0.9v0.9h-0.9zM262.8 287.1h0.9v0.9h-0.9zM250.3 300.5h0.9v0.9h-0.9zM271.9 310.6h0.9v0.9h-0.9zM235.4 296.3h0.9v0.9h-0.9zM252.3 301.4h0.9v0.9h-0.9zM237.7 292.6h0.9v0.9h-0.9zM269.5 294.7h0.9v0.9h-0.9zM256.0 290.0h0.9v0.9h-0.9zM275.5 291.0h0.9v0.9h-0.9zM248.0 293.1h0.9v0.9h-0.9zM252.9 310.9h0.9v0.9h-0.9zM264.1 292.4h0.9v0.9h-0.9zM266.6 301.0h0.9v0.9h-0.9zM263.2 297.6h0.9v0.9h-0.9zM266.9 290.6h0.9v0.9h-0.9zM244.4 291.8h0.9v0.9h-0.9zM244.3 299.6h0.9v0.9h-0.9zM283.3 310.1h0.9v0.9h-0.9zM264.9 300.7h0.9v0.9h-0.9zM252.1 287.1h0.9v0.9h-0.9zM268.4 288.7h0.9v0.9h-0.9zM263.6 297.1h0.9v0.9h-0.9zM269.2 299.5h0.9v0.9h-0.9zM261.6 293.7h0.9v0.9h-0.9zM237.5 291.1h0.9v0.9h-0.9zM267.3 306.0h0.9v0.9h-0.9zM278.6 293.9h0.9v0.9h-0.9zM246.5 300.0h0.9v0.9h-0.9zM250.6 313.6h0.9v0.9h-0.9zM265.4 287.9h0.9v0.9h-0.9zM250.4 306.7h0.9v0.9h-0.9zM235.6 294.2h0.9v0.9h-0.9zM239.6 305.0h0.9v0.9h-0.9zM254.9 289.5h0.9v0.9h-0.9zM238.2 288.7h0.9v0.9h-0.9zM226.9 288.4h0.9v0.9h-0.9zM287.7 303.1h0.9v0.9h-0.9zM257.4 289.0h0.9v0.9h-0.9zM264.5 295.0h0.9v0.9h-0.9zM246.9 304.8h0.9v0.9h-0.9zM266.3 292.4h0.9v0.9h-0.9zM278.8 300.4h0.9v0.9h-0.9zM265.9 299.5h0.9v0.9h-0.9zM274.1 304.2h0.9v0.9h-0.9zM254.1 301.4h0.9v0.9h-0.9zM254.3 297.4h0.9v0.9h-0.9zM282.1 294.0h0.9v0.9h-0.9zM246.5 292.3h0.9v0.9h-0.9zM251.5 305.0h0.9v0.9h-0.9zM280.6 298.0h0.9v0.9h-0.9zM262.3 295.4h0.9v0.9h-0.9zM267.4 303.4h0.9v0.9h-0.9zM268.4 304.3h0.9v0.9h-0.9zM284.8 300.7h0.9v0.9h-0.9zM268.8 297.8h0.9v0.9h-0.9zM259.7 299.0h0.9v0.9h-0.9zM258.4 299.6h0.9v0.9h-0.9zM248.6 294.4h0.9v0.9h-0.9zM253.0 288.2h0.9v0.9h-0.9zM250.9 292.4h0.9v0.9h-0.9zM259.4 286.6h0.9v0.9h-0.9zM257.5 289.2h0.9v0.9h-0.9zM248.6 296.8h0.9v0.9h-0.9zM273.6 301.9h0.9v0.9h-0.9zM253.7 293.3h0.9v0.9h-0.9zM278.8 289.6h0.9v0.9h-0.9zM276.1 289.9h0.9v0.9h-0.9zM251.2 296.3h0.9v0.9h-0.9zM254.7 308.1h0.9v0.9h-0.9zM266.0 298.2h0.9v0.9h-0.9zM271.9 299.8h0.9v0.9h-0.9zM247.7 303.1h0.9v0.9h-0.9zM277.5 309.5h0.9v0.9h-0.9zM242.0 307.5h0.9v0.9h-0.9zM253.2 301.6h0.9v0.9h-0.9zM272.2 316.1h0.9v0.9h-0.9zM239.7 286.8h0.9v0.9h-0.9zM274.3 303.4h0.9v0.9h-0.9zM265.5 297.2h0.9v0.9h-0.9zM227.6 287.9h0.9v0.9h-0.9zM259.2 299.0h0.9v0.9h-0.9zM269.6 297.3h0.9v0.9h-0.9zM248.3 292.9h0.9v0.9h-0.9zM233.5 285.1h0.9v0.9h-0.9zM286.0 297.3h0.9v0.9h-0.9zM256.2 310.0h0.9v0.9h-0.9zM273.1 300.6h0.9v0.9h-0.9zM269.4 297.3h0.9v0.9h-0.9zM246.5 302.1h0.9v0.9h-0.9zM259.4 308.5h0.9v0.9h-0.9zM256.5 294.3h0.9v0.9h-0.9zM264.2 296.9h0.9v0.9h-0.9zM256.5 290.7h0.9v0.9h-0.9zM262.4 300.2h0.9v0.9h-0.9zM283.4 301.4h0.9v0.9h-0.9zM236.1 296.5h0.9v0.9h-0.9zM289.8 299.7h0.9v0.9h-0.9zM249.3 294.4h0.9v0.9h-0.9zM258.8 286.8h0.9v0.9h-0.9zM268.1 292.8h0.9v0.9h-0.9zM236.3 288.3h0.9v0.9h-0.9zM265.5 311.8h0.9v0.9h-0.9zM275.6 301.6h0.9v0.9h-0.9zM253.1 294.5h0.9v0.9h-0.9zM272.7 296.1h0.9v0.9h-0.9zM263.8 304.9h0.9v0.9h-0.9zM248.4 291.4h0.9v0.9h-0.9zM265.3 298.5h0.9v0.9h-0.9zM258.5 293.5h0.9v0.9h-0.9zM256.5 309.8h0.9v0.9h-0.9zM279.1 289.6h0.9v0.9h-0.9zM260.0 298.1h0.9v0.9h-0.9zM261.6 288.2h0.9v0.9h-0.9zM257.6 298.1h0.9v0.9h-0.9zM250.2 297.9h0.9v0.9h-0.9zM260.4 300.3h0.9v0.9h-0.9zM257.9 293.9h0.9v0.9h-0.9zM260.6 305.1h0.9v0.9h-0.9zM271.3 298.9h0.9v0.9h-0.9zM252.2 303.5h0.9v0.9h-0.9zM265.5 304.6h0.9v0.9h-0.9zM256.9 291.0h0.9v0.9h-0.9zM262.7 293.6h0.9v0.9h-0.9zM273.5 305.8h0.9v0.9h-0.9zM230.3 296.9h0.9v0.9h-0.9zM275.7 307.5h0.9v0.9h-0.9zM254.4 290.5h0.9v0.9h-0.9zM271.0 306.5h0.9v0.9h-0.9zM261.7 289.7h0.9v0.9h-0.9zM239.3 295.7h0.9v0.9h-0.9zM249.5 290.9h0.9v0.9h-0.9zM264.1 305.5h0.9v0.9h-0.9zM233.4 288.1h0.9v0.9h-0.9zM276.5 300.1h0.9v0.9h-0.9zM254.3 300.9h0.9v0.9h-0.9zM246.1 286.5h0.9v0.9h-0.9zM257.9 308.0h0.9v0.9h-0.9zM272.8 299.7h0.9v0.9h-0.9zM273.2 297.0h0.9v0.9h-0.9zM246.1 283.4h0.9v0.9h-0.9zM262.0 304.1h0.9v0.9h-0.9zM264.4 298.0h0.9v0.9h-0.9zM253.0 303.8h0.9v0.9h-0.9zM260.6 287.6h0.9v0.9h-0.9zM278.2 296.2h0.9v0.9h-0.9zM264.6 298.3h0.9v0.9h-0.9zM273.0 301.5h0.9v0.9h-0.9zM275.3 301.6h0.9v0.9h-0.9zM254.1 292.9h0.9v0.9h-0.9zM269.0 293.3h0.9v0.9h-0.9zM271.9 297.9h0.9v0.9h-0.9zM248.4 289.4h0.9v0.9h-0.9zM255.5 309.0h0.9v0.9h-0.9zM269.5 299.3h0.9v0.9h-0.9zM245.4 308.2h0.9v0.9h-0.9zM255.9 296.8h0.9v0.9h-0.9zM252.4 305.4h0.9v0.9h-0.9zM262.4 294.7h0.9v0.9h-0.9zM263.1 291.1h0.9v0.9h-0.9zM245.9 293.9h0.9v0.9h-0.9zM286.8 294.5h0.9v0.9h-0.9zM259.5 286.4h0.9v0.9h-0.9zM261.5 299.2h0.9v0.9h-0.9zM270.8 290.1h0.9v0.9h-0.9zM252.4 291.6h0.9v0.9h-0.9zM253.6 312.3h0.9v0.9h-0.9zM256.9 296.7h0.9v0.9h-0.9zM251.9 301.6h0.9v0.9h-0.9zM280.8 293.7h0.9v0.9h-0.9zM273.3 300.0h0.9v0.9h-0.9zM274.6 307.4h0.9v0.9h-0.9zM270.1 287.6h0.9v0.9h-0.9zM261.8 294.3h0.9v0.9h-0.9zM265.3 298.7h0.9v0.9h-0.9zM275.1 289.0h0.9v0.9h-0.9zM249.9 295.2h0.9v0.9h-0.9zM264.2 295.4h0.9v0.9h-0.9zM259.1 297.7h0.9v0.9h-0.9zM273.3 299.0h0.9v0.9h-0.9zM264.8 285.7h0.9v0.9h-0.9zM266.9 282.6h0.9v0.9h-0.9zM265.0 297.7h0.9v0.9h-0.9zM260.4 292.5h0.9v0.9h-0.9zM253.0 302.1h0.9v0.9h-0.9zM264.2 298.0h0.9v0.9h-0.9zM252.9 297.7h0.9v0.9h-0.9zM275.1 300.0h0.9v0.9h-0.9zM256.1 288.6h0.9v0.9h-0.9zM261.9 291.4h0.9v0.9h-0.9zM239.7 300.0h0.9v0.9h-0.9zM253.8 282.2h0.9v0.9h-0.9zM247.9 308.2h0.9v0.9h-0.9zM259.7 288.2h0.9v0.9h-0.9zM244.2 299.7h0.9v0.9h-0.9zM264.6 299.8h0.9v0.9h-0.9zM256.4 300.2h0.9v0.9h-0.9zM279.1 304.3h0.9v0.9h-0.9zM259.0 287.6h0.9v0.9h-0.9zM263.4 309.0h0.9v0.9h-0.9zM269.5 290.4h0.9v0.9h-0.9zM260.4 306.6h0.9v0.9h-0.9zM250.6 299.3h0.9v0.9h-0.9zM273.4 311.3h0.9v0.9h-0.9zM240.8 281.9h0.9v0.9h-0.9zM263.6 303.0h0.9v0.9h-0.9zM254.9 296.4h0.9v0.9h-0.9zM252.7 304.6h0.9v0.9h-0.9zM230.2 294.0h0.9v0.9h-0.9zM243.6 289.9h0.9v0.9h-0.9zM240.5 287.7h0.9v0.9h-0.9zM259.2 297.5h0.9v0.9h-0.9zM283.2 300.0h0.9v0.9h-0.9zM263.6 300.6h0.9v0.9h-0.9zM261.1 307.9h0.9v0.9h-0.9zM261.1 298.7h0.9v0.9h-0.9zM258.0 297.2h0.9v0.9h-0.9zM257.6 304.0h0.9v0.9h-0.9zM259.7 297.9h0.9v0.9h-0.9zM258.0 302.4h0.9v0.9h-0.9zM252.2 302.7h0.9v0.9h-0.9zM251.2 300.8h0.9v0.9h-0.9zM284.4 303.4h0.9v0.9h-0.9zM259.8 289.2h0.9v0.9h-0.9zM269.2 299.2h0.9v0.9h-0.9zM272.2 295.0h0.9v0.9h-0.9zM264.2 310.9h0.9v0.9h-0.9zM265.2 296.1h0.9v0.9h-0.9zM242.4 294.3h0.9v0.9h-0.9zM267.4 303.0h0.9v0.9h-0.9zM246.1 287.8h0.9v0.9h-0.9zM247.9 288.2h0.9v0.9h-0.9zM255.6 298.6h0.9v0.9h-0.9zM284.5 303.2h0.9v0.9h-0.9zM280.5 289.5h0.9v0.9h-0.9zM278.8 306.4h0.9v0.9h-0.9zM264.3 304.0h0.9v0.9h-0.9zM265.3 311.8h0.9v0.9h-0.9zM272.2 287.4h0.9v0.9h-0.9zM234.6 304.3h0.9v0.9h-0.9zM256.8 306.2h0.9v0.9h-0.9zM255.8 292.2h0.9v0.9h-0.9zM254.6 298.8h0.9v0.9h-0.9zM262.7 293.6h0.9v0.9h-0.9zM265.8 302.8h0.9v0.9h-0.9zM248.8 287.7h0.9v0.9h-0.9zM234.1 290.8h0.9v0.9h-0.9zM260.5 292.7h0.9v0.9h-0.9zM251.8 295.1h0.9v0.9h-0.9zM259.2 301.3h0.9v0.9h-0.9zM269.9 302.3h0.9v0.9h-0.9zM275.4 293.4h0.9v0.9h-0.9zM267.0 301.3h0.9v0.9h-0.9zM246.6 290.4h0.9v0.9h-0.9zM265.2 298.9h0.9v0.9h-0.9zM243.7 290.7h0.9v0.9h-0.9zM278.5 306.7h0.9v0.9h-0.9zM259.0 306.8h0.9v0.9h-0.9zM247.8 294.1h0.9v0.9h-0.9zM272.5 297.3h0.9v0.9h-0.9zM244.1 298.8h0.9v0.9h-0.9zM263.0 289.2h0.9v0.9h-0.9zM257.3 287.1h0.9v0.9h-0.9zM260.9 292.7h0.9v0.9h-0.9zM247.0 292.0h0.9v0.9h-0.9zM260.1 309.8h0.9v0.9h-0.9zM261.4 308.7h0.9v0.9h-0.9zM245.4 295.4h0.9v0.9h-0.9zM255.6 285.7h0.9v0.9h-0.9zM263.6 292.8h0.9v0.9h-0.9zM253.2 289.0h0.9v0.9h-0.9zM273.5 297.0h0.9v0.9h-0.9zM257.4 298.3h0.9v0.9h-0.9zM243.1 296.1h0.9v0.9h-0.9zM256.7 300.0h0.9v0.9h-0.9zM254.4 296.8h0.9v0.9h-0.9zM265.1 305.2h0.9v0.9h-0.9zM249.3 302.4h0.9v0.9h-0.9zM246.8 293.8h0.9v0.9h-0.9zM261.0 298.7h0.9v0.9h-0.9zM256.0 303.3h0.9v0.9h-0.9zM248.4 306.1h0.9v0.9h-0.9zM235.7 293.7h0.9v0.9h-0.9zM266.6 298.8h0.9v0.9h-0.9zM261.8 304.4h0.9v0.9h-0.9zM248.2 299.6h0.9v0.9h-0.9zM273.7 298.3h0.9v0.9h-0.9zM230.5 283.9h0.9v0.9h-0.9zM249.5 288.2h0.9v0.9h-0.9zM266.1 292.9h0.9v0.9h-0.9zM291.4 307.0h0.9v0.9h-0.9zM242.7 292.4h0.9v0.9h-0.9zM278.8 305.6h0.9v0.9h-0.9zM244.9 302.1h0.9v0.9h-0.9zM250.6 311.4h0.9v0.9h-0.9zM251.5 300.2h0.9v0.9h-0.9zM267.4 295.7h0.9v0.9h-0.9zM256.1 304.9h0.9v0.9h-0.9zM266.1 298.1h0.9v0.9h-0.9zM263.2 310.3h0.9v0.9h-0.9zM271.2 302.8h0.9v0.9h-0.9zM265.7 287.5h0.9v0.9h-0.9zM261.9 294.4h0.9v0.9h-0.9zM269.8 295.0h0.9v0.9h-0.9zM266.7 291.3h0.9v0.9h-0.9zM272.1 294.5h0.9v0.9h-0.9zM258.4 301.3h0.9v0.9h-0.9zM255.2 296.7h0.9v0.9h-0.9zM271.3 311.9h0.9v0.9h-0.9zM236.9 287.1h0.9v0.9h-0.9zM267.2 305.4h0.9v0.9h-0.9zM253.2 296.9h0.9v0.9h-0.9zM254.2 312.5h0.9v0.9h-0.9zM258.3 288.8h0.9v0.9h-0.9zM240.6 285.1h0.9v0.9h-0.9zM277.1 297.8h0.9v0.9h-0.9zM284.3 306.3h0.9v0.9h-0.9zM263.8 302.7h0.9v0.9h-0.9zM268.8 305.5h0.9v0.9h-0.9zM247.3 291.3h0.9v0.9h-0.9zM252.2 296.8h0.9v0.9h-0.9zM257.7 288.4h0.9v0.9h-0.9zM248.2 308.0h0.9v0.9h-0.9zM288.4 296.5h0.9v0.9h-0.9zM264.5 298.0h0.9v0.9h-0.9zM247.5 300.3h0.9v0.9h-0.9zM256.6 308.6h0.9v0.9h-0.9zM265.9 296.3h0.9v0.9h-0.9zM224.8 290.6h0.9v0.9h-0.9zM271.5 294.5h0.9v0.9h-0.9zM270.3 304.1h0.9v0.9h-0.9zM236.5 292.0h0.9v0.9h-0.9zM262.8 303.3h0.9v0.9h-0.9zM261.6 297.7h0.9v0.9h-0.9zM255.3 294.6h0.9v0.9h-0.9zM260.8 290.2h0.9v0.9h-0.9zM268.3 296.7h0.9v0.9h-0.9zM267.0 295.2h0.9v0.9h-0.9zM264.7 299.2h0.9v0.9h-0.9zM270.7 302.6h0.9v0.9h-0.9zM272.0 298.4h0.9v0.9h-0.9zM259.1 295.5h0.9v0.9h-0.9zM243.2 293.6h0.9v0.9h-0.9zM272.9 305.2h0.9v0.9h-0.9zM248.0 297.5h0.9v0.9h-0.9zM271.0 289.9h0.9v0.9h-0.9zM263.7 300.4h0.9v0.9h-0.9zM269.0 300.9h0.9v0.9h-0.9zM239.1 279.7h0.9v0.9h-0.9zM286.0 299.3h0.9v0.9h-0.9zM274.7 309.0h0.9v0.9h-0.9zM262.0 289.8h0.9v0.9h-0.9zM277.5 300.3h0.9v0.9h-0.9zM265.8 301.9h0.9v0.9h-0.9zM270.8 306.5h0.9v0.9h-0.9zM242.5 284.5h0.9v0.9h-0.9zM261.4 297.8h0.9v0.9h-0.9zM269.9 298.3h0.9v0.9h-0.9zM254.7 310.8h0.9v0.9h-0.9zM276.2 308.5h0.9v0.9h-0.9zM274.1 294.4h0.9v0.9h-0.9zM258.5 296.7h0.9v0.9h-0.9zM246.2 289.0h0.9v0.9h-0.9zM263.1 289.5h0.9v0.9h-0.9zM266.1 301.9h0.9v0.9h-0.9zM256.8 294.6h0.9v0.9h-0.9zM266.8 302.1h0.9v0.9h-0.9zM265.8 289.9h0.9v0.9h-0.9zM235.7 307.5h0.9v0.9h-0.9zM251.4 293.4h0.9v0.9h-0.9zM236.5 287.8h0.9v0.9h-0.9zM248.9 301.1h0.9v0.9h-0.9zM254.7 293.1h0.9v0.9h-0.9zM249.8 292.6h0.9v0.9h-0.9zM238.5 295.6h0.9v0.9h-0.9zM275.0 301.2h0.9v0.9h-0.9zM250.9 304.7h0.9v0.9h-0.9zM267.1 291.5h0.9v0.9h-0.9zM252.7 291.9h0.9v0.9h-0.9zM257.5 305.5h0.9v0.9h-0.9zM250.4 294.8h0.9v0.9h-0.9zM262.4 289.6h0.9v0.9h-0.9zM252.5 300.5h0.9v0.9h-0.9zM276.6 287.3h0.9v0.9h-0.9zM269.1 297.1h0.9v0.9h-0.9zM275.7 304.6h0.9v0.9h-0.9zM285.0 304.1h0.9v0.9h-0.9zM255.3 290.8h0.9v0.9h-0.9zM240.0 297.8h0.9v0.9h-0.9zM265.3 304.1h0.9v0.9h-0.9zM265.9 288.1h0.9v0.9h-0.9zM254.5 294.8h0.9v0.9h-0.9zM260.7 303.0h0.9v0.9h-0.9zM277.8 302.6h0.9v0.9h-0.9zM233.6 285.7h0.9v0.9h-0.9zM232.4 287.3h0.9v0.9h-0.9zM243.5 296.2h0.9v0.9h-0.9zM255.3 304.4h0.9v0.9h-0.9zM274.2 296.8h0.9v0.9h-0.9zM271.9 299.7h0.9v0.9h-0.9zM263.9 307.6h0.9v0.9h-0.9zM244.5 294.3h0.9v0.9h-0.9zM280.6 295.8h0.9v0.9h-0.9zM262.2 298.8h0.9v0.9h-0.9zM255.6 287.6h0.9v0.9h-0.9zM251.7 289.2h0.9v0.9h-0.9zM273.4 301.6h0.9v0.9h-0.9zM270.1 291.0h0.9v0.9h-0.9zM265.9 299.5h0.9v0.9h-0.9zM274.1 295.0h0.9v0.9h-0.9zM268.5 308.6h0.9v0.9h-0.9zM284.3 295.3h0.9v0.9h-0.9zM246.5 284.9h0.9v0.9h-0.9zM271.4 303.7h0.9v0.9h-0.9zM265.0 292.3h0.9v0.9h-0.9zM274.1 311.2h0.9v0.9h-0.9zM259.2 296.5h0.9v0.9h-0.9zM274.5 303.6h0.9v0.9h-0.9zM277.7 297.8h0.9v0.9h-0.9zM264.4 295.9h0.9v0.9h-0.9zM252.4 294.1h0.9v0.9h-0.9zM255.2 300.2h0.9v0.9h-0.9zM255.4 297.2h0.9v0.9h-0.9zM250.3 287.3h0.9v0.9h-0.9zM279.4 294.1h0.9v0.9h-0.9zM282.2 308.0h0.9v0.9h-0.9zM230.2 287.8h0.9v0.9h-0.9zM254.0 296.6h0.9v0.9h-0.9zM257.9 292.9h0.9v0.9h-0.9zM276.1 299.4h0.9v0.9h-0.9zM273.0 295.0h0.9v0.9h-0.9zM248.9 304.8h0.9v0.9h-0.9zM257.1 289.3h0.9v0.9h-0.9zM256.0 304.1h0.9v0.9h-0.9zM258.2 292.2h0.9v0.9h-0.9zM266.7 305.5h0.9v0.9h-0.9zM257.2 294.8h0.9v0.9h-0.9zM255.0 308.8h0.9v0.9h-0.9zM257.1 299.8h0.9v0.9h-0.9zM232.6 293.9h0.9v0.9h-0.9zM260.6 295.4h0.9v0.9h-0.9zM255.8 287.3h0.9v0.9h-0.9zM239.8 295.1h0.9v0.9h-0.9zM251.2 295.3h0.9v0.9h-0.9zM257.8 293.6h0.9v0.9h-0.9zM247.8 308.2h0.9v0.9h-0.9zM245.6 291.4h0.9v0.9h-0.9zM257.0 288.9h0.9v0.9h-0.9zM245.9 301.0h0.9v0.9h-0.9zM271.6 300.5h0.9v0.9h-0.9zM276.7 294.8h0.9v0.9h-0.9zM271.7 311.3h0.9v0.9h-0.9zM252.4 308.7h0.9v0.9h-0.9zM250.3 287.9h0.9v0.9h-0.9zM259.9 291.9h0.9v0.9h-0.9zM269.2 291.4h0.9v0.9h-0.9zM263.0 284.4h0.9v0.9h-0.9zM257.9 304.4h0.9v0.9h-0.9zM255.7 298.9h0.9v0.9h-0.9zM275.2 292.5h0.9v0.9h-0.9zM242.7 295.0h0.9v0.9h-0.9zM263.5 296.3h0.9v0.9h-0.9zM245.4 303.3h0.9v0.9h-0.9zM244.6 293.0h0.9v0.9h-0.9zM258.1 302.2h0.9v0.9h-0.9zM254.6 290.9h0.9v0.9h-0.9zM287.0 296.4h0.9v0.9h-0.9zM270.2 298.2h0.9v0.9h-0.9zM253.3 296.0h0.9v0.9h-0.9zM255.8 298.9h0.9v0.9h-0.9zM226.2 291.3h0.9v0.9h-0.9zM261.6 291.0h0.9v0.9h-0.9zM251.7 312.3h0.9v0.9h-0.9zM283.0 306.0h0.9v0.9h-0.9zM263.0 295.9h0.9v0.9h-0.9zM278.3 297.6h0.9v0.9h-0.9zM248.0 300.2h0.9v0.9h-0.9zM247.8 289.9h0.9v0.9h-0.9zM280.5 290.0h0.9v0.9h-0.9zM258.5 298.1h0.9v0.9h-0.9zM264.7 288.2h0.9v0.9h-0.9zM257.0 294.6h0.9v0.9h-0.9zM283.6 308.6h0.9v0.9h-0.9zM248.6 301.5h0.9v0.9h-0.9zM268.3 298.2h0.9v0.9h-0.9zM256.7 295.0h0.9v0.9h-0.9zM240.1 289.6h0.9v0.9h-0.9zM270.1 309.3h0.9v0.9h-0.9zM284.3 299.2h0.9v0.9h-0.9zM270.5 282.6h0.9v0.9h-0.9zM257.5 288.3h0.9v0.9h-0.9zM272.3 288.2h0.9v0.9h-0.9zM247.2 287.6h0.9v0.9h-0.9zM263.8 304.0h0.9v0.9h-0.9zM245.4 307.4h0.9v0.9h-0.9zM262.7 292.2h0.9v0.9h-0.9zM264.2 298.1h0.9v0.9h-0.9zM270.1 301.7h0.9v0.9h-0.9zM286.9 310.3h0.9v0.9h-0.9zM250.2 301.2h0.9v0.9h-0.9zM270.7 292.4h0.9v0.9h-0.9zM250.7 290.3h0.9v0.9h-0.9zM226.4 296.0h0.9v0.9h-0.9zM255.3 305.2h0.9v0.9h-0.9zM252.1 296.6h0.9v0.9h-0.9zM267.9 305.6h0.9v0.9h-0.9zM265.0 291.2h0.9v0.9h-0.9zM287.4 308.4h0.9v0.9h-0.9zM275.5 311.4h0.9v0.9h-0.9zM277.5 303.5h0.9v0.9h-0.9zM265.0 302.8h0.9v0.9h-0.9zM238.9 299.4h0.9v0.9h-0.9zM246.3 298.0h0.9v0.9h-0.9z" fill="#000090"/><path d="M238.7 301.2h0.8v0.8h-0.8zM245.7 320.9h0.8v0.8h-0.8zM262.4 303.2h0.8v0.8h-0.8zM242.5 291.4h0.8v0.8h-0.8zM259.0 294.3h0.8v0.8h-0.8zM252.7 287.1h0.8v0.8h-0.8zM275.1 296.2h0.8v0.8h-0.8zM243.1 298.3h0.8v0.8h-0.8zM244.2 292.9h0.8v0.8h-0.8zM251.3 286.3h0.8v0.8h-0.8zM256.7 288.4h0.8v0.8h-0.8zM234.7 296.7h0.8v0.8h-0.8zM256.5 281.7h0.8v0.8h-0.8zM251.6 298.0h0.8v0.8h-0.8zM267.3 302.7h0.8v0.8h-0.8zM263.5 304.3h0.8v0.8h-0.8zM251.5 287.7h0.8v0.8h-0.8zM272.3 295.4h0.8v0.8h-0.8zM258.7 304.0h0.8v0.8h-0.8zM275.7 313.0h0.8v0.8h-0.8zM247.0 291.4h0.8v0.8h-0.8zM273.0 284.9h0.8v0.8h-0.8zM234.1 299.2h0.8v0.8h-0.8zM249.4 286.0h0.8v0.8h-0.8zM274.3 305.5h0.8v0.8h-0.8zM278.0 297.2h0.8v0.8h-0.8zM254.7 293.0h0.8v0.8h-0.8zM269.0 278.0h0.8v0.8h-0.8zM245.0 302.2h0.8v0.8h-0.8zM244.6 294.1h0.8v0.8h-0.8zM261.2 303.1h0.8v0.8h-0.8zM252.4 284.4h0.8v0.8h-0.8zM309.3 298.8h0.8v0.8h-0.8zM295.9 285.6h0.8v0.8h-0.8zM262.2 295.8h0.8v0.8h-0.8zM280.4 290.6h0.8v0.8h-0.8zM245.4 287.1h0.8v0.8h-0.8zM249.2 298.3h0.8v0.8h-0.8zM244.9 292.3h0.8v0.8h-0.8zM285.6 316.9h0.8v0.8h-0.8zM225.3 281.5h0.8v0.8h-0.8zM250.2 309.2h0.8v0.8h-0.8zM249.9 315.5h0.8v0.8h-0.8zM264.2 313.1h0.8v0.8h-0.8zM243.6 291.4h0.8v0.8h-0.8zM278.4 306.7h0.8v0.8h-0.8zM224.0 288.3h0.8v0.8h-0.8zM262.0 304.4h0.8v0.8h-0.8zM244.3 312.8h0.8v0.8h-0.8zM260.1 312.5h0.8v0.8h-0.8zM267.3 299.7h0.8v0.8h-0.8zM255.6 284.6h0.8v0.8h-0.8zM275.1 308.0h0.8v0.8h-0.8zM278.4 296.9h0.8v0.8h-0.8zM240.9 290.2h0.8v0.8h-0.8zM253.7 296.3h0.8v0.8h-0.8zM280.3 291.7h0.8v0.8h-0.8zM249.0 302.7h0.8v0.8h-0.8zM273.3 322.7h0.8v0.8h-0.8zM271.4 290.8h0.8v0.8h-0.8zM241.0 286.0h0.8v0.8h-0.8zM260.6 300.2h0.8v0.8h-0.8zM259.5 291.1h0.8v0.8h-0.8zM256.3 296.0h0.8v0.8h-0.8zM271.0 300.3h0.8v0.8h-0.8zM246.1 283.0h0.8v0.8h-0.8zM288.5 301.6h0.8v0.8h-0.8zM256.4 296.6h0.8v0.8h-0.8zM282.1 298.2h0.8v0.8h-0.8zM263.5 295.7h0.8v0.8h-0.8zM272.7 289.3h0.8v0.8h-0.8zM261.8 308.5h0.8v0.8h-0.8zM281.5 307.7h0.8v0.8h-0.8zM262.6 314.2h0.8v0.8h-0.8zM270.9 313.9h0.8v0.8h-0.8zM238.5 282.4h0.8v0.8h-0.8zM275.7 297.5h0.8v0.8h-0.8zM253.1 286.5h0.8v0.8h-0.8zM290.5 290.6h0.8v0.8h-0.8zM264.2 283.9h0.8v0.8h-0.8zM252.4 319.4h0.8v0.8h-0.8zM307.6 300.8h0.8v0.8h-0.8zM237.4 310.3h0.8v0.8h-0.8zM246.4 276.7h0.8v0.8h-0.8zM268.4 287.9h0.8v0.8h-0.8zM229.8 303.8h0.8v0.8h-0.8zM247.5 284.3h0.8v0.8h-0.8zM263.3 296.1h0.8v0.8h-0.8zM281.3 302.2h0.8v0.8h-0.8zM288.5 314.3h0.8v0.8h-0.8zM292.2 314.8h0.8v0.8h-0.8zM260.2 303.2h0.8v0.8h-0.8zM262.9 282.0h0.8v0.8h-0.8zM235.8 300.9h0.8v0.8h-0.8zM215.6 281.2h0.8v0.8h-0.8zM235.1 292.5h0.8v0.8h-0.8zM239.3 296.4h0.8v0.8h-0.8zM256.8 292.1h0.8v0.8h-0.8zM247.4 272.4h0.8v0.8h-0.8zM263.5 284.8h0.8v0.8h-0.8zM253.4 300.2h0.8v0.8h-0.8zM278.8 308.1h0.8v0.8h-0.8zM290.8 288.3h0.8v0.8h-0.8zM270.0 315.5h0.8v0.8h-0.8zM269.4 287.7h0.8v0.8h-0.8zM268.4 293.6h0.8v0.8h-0.8zM245.5 305.9h0.8v0.8h-0.8zM258.3 285.7h0.8v0.8h-0.8zM243.3 314.8h0.8v0.8h-0.8zM242.3 301.4h0.8v0.8h-0.8zM261.2 309.8h0.8v0.8h-0.8zM256.1 287.1h0.8v0.8h-0.8zM249.3 285.0h0.8v0.8h-0.8zM309.5 308.2h0.8v0.8h-0.8zM251.4 309.0h0.8v0.8h-0.8zM272.8 297.9h0.8v0.8h-0.8zM271.3 302.3h0.8v0.8h-0.8zM278.6 317.8h0.8v0.8h-0.8zM253.8 296.1h0.8v0.8h-0.8zM254.1 309.1h0.8v0.8h-0.8zM265.8 306.6h0.8v0.8h-0.8zM278.3 294.2h0.8v0.8h-0.8zM259.9 311.8h0.8v0.8h-0.8zM276.2 308.7h0.8v0.8h-0.8zM255.0 292.9h0.8v0.8h-0.8zM243.8 291.9h0.8v0.8h-0.8zM261.1 282.9h0.8v0.8h-0.8zM283.5 293.8h0.8v0.8h-0.8zM263.6 304.4h0.8v0.8h-0.8zM252.4 277.5h0.8v0.8h-0.8zM277.7 304.8h0.8v0.8h-0.8zM253.0 308.0h0.8v0.8h-0.8zM278.7 291.0h0.8v0.8h-0.8zM261.4 279.6h0.8v0.8h-0.8zM252.3 310.7h0.8v0.8h-0.8zM242.2 302.9h0.8v0.8h-0.8zM231.3 289.4h0.8v0.8h-0.8zM274.9 317.9h0.8v0.8h-0.8zM267.2 306.6h0.8v0.8h-0.8zM223.7 310.6h0.8v0.8h-0.8zM306.2 311.8h0.8v0.8h-0.8zM260.6 300.3h0.8v0.8h-0.8zM261.5 291.4h0.8v0.8h-0.8zM259.7 296.2h0.8v0.8h-0.8zM271.5 306.6h0.8v0.8h-0.8zM277.6 306.7h0.8v0.8h-0.8zM238.7 308.1h0.8v0.8h-0.8zM208.3 289.6h0.8v0.8h-0.8zM267.1 293.3h0.8v0.8h-0.8zM297.7 292.9h0.8v0.8h-0.8zM238.3 288.5h0.8v0.8h-0.8zM266.4 306.8h0.8v0.8h-0.8zM260.7 304.5h0.8v0.8h-0.8zM247.4 289.1h0.8v0.8h-0.8zM264.7 284.5h0.8v0.8h-0.8zM264.1 294.2h0.8v0.8h-0.8zM274.7 289.7h0.8v0.8h-0.8zM250.7 290.0h0.8v0.8h-0.8zM254.6 286.3h0.8v0.8h-0.8zM257.2 283.1h0.8v0.8h-0.8zM268.9 306.0h0.8v0.8h-0.8zM259.9 295.6h0.8v0.8h-0.8zM244.5 284.9h0.8v0.8h-0.8zM257.2 287.7h0.8v0.8h-0.8zM237.0 295.2h0.8v0.8h-0.8zM260.2 293.4h0.8v0.8h-0.8zM244.4 294.2h0.8v0.8h-0.8zM247.3 290.9h0.8v0.8h-0.8zM262.1 305.3h0.8v0.8h-0.8zM275.3 294.0h0.8v0.8h-0.8zM285.0 290.0h0.8v0.8h-0.8zM254.2 309.9h0.8v0.8h-0.8zM305.0 306.8h0.8v0.8h-0.8zM253.6 292.5h0.8v0.8h-0.8zM236.9 291.9h0.8v0.8h-0.8zM253.0 288.5h0.8v0.8h-0.8zM284.1 293.7h0.8v0.8h-0.8zM290.7 311.6h0.8v0.8h-0.8zM273.1 293.8h0.8v0.8h-0.8zM253.6 275.8h0.8v0.8h-0.8zM265.5 295.7h0.8v0.8h-0.8zM268.4 292.1h0.8v0.8h-0.8zM271.7 284.2h0.8v0.8h-0.8zM217.2 294.9h0.8v0.8h-0.8zM285.0 298.3h0.8v0.8h-0.8zM259.4 281.6h0.8v0.8h-0.8zM239.5 301.2h0.8v0.8h-0.8zM245.8 294.6h0.8v0.8h-0.8zM253.3 316.8h0.8v0.8h-0.8zM279.1 287.3h0.8v0.8h-0.8zM252.7 284.4h0.8v0.8h-0.8zM234.5 286.0h0.8v0.8h-0.8zM280.7 301.7h0.8v0.8h-0.8zM272.9 298.4h0.8v0.8h-0.8zM251.6 296.9h0.8v0.8h-0.8zM255.0 316.5h0.8v0.8h-0.8zM293.4 307.3h0.8v0.8h-0.8zM274.8 279.6h0.8v0.8h-0.8zM253.2 321.0h0.8v0.8h-0.8zM243.1 302.9h0.8v0.8h-0.8zM283.7 297.6h0.8v0.8h-0.8zM256.3 292.2h0.8v0.8h-0.8zM274.9 300.4h0.8v0.8h-0.8zM286.3 314.4h0.8v0.8h-0.8zM255.0 323.4h0.8v0.8h-0.8zM255.0 290.3h0.8v0.8h-0.8zM256.8 287.9h0.8v0.8h-0.8zM251.9 295.3h0.8v0.8h-0.8zM279.5 284.7h0.8v0.8h-0.8zM234.5 285.0h0.8v0.8h-0.8zM253.2 301.0h0.8v0.8h-0.8zM242.1 309.9h0.8v0.8h-0.8zM250.1 293.5h0.8v0.8h-0.8zM258.7 309.3h0.8v0.8h-0.8zM265.4 298.7h0.8v0.8h-0.8zM249.2 297.3h0.8v0.8h-0.8zM268.0 295.3h0.8v0.8h-0.8zM262.6 279.0h0.8v0.8h-0.8zM247.6 307.5h0.8v0.8h-0.8zM286.9 301.5h0.8v0.8h-0.8zM252.0 322.6h0.8v0.8h-0.8zM250.1 306.1h0.8v0.8h-0.8zM245.6 309.1h0.8v0.8h-0.8zM283.6 290.7h0.8v0.8h-0.8zM257.6 284.6h0.8v0.8h-0.8zM265.7 294.4h0.8v0.8h-0.8zM233.1 281.9h0.8v0.8h-0.8zM267.1 283.0h0.8v0.8h-0.8zM279.5 305.6h0.8v0.8h-0.8zM253.8 310.9h0.8v0.8h-0.8zM241.0 301.2h0.8v0.8h-0.8zM234.6 289.7h0.8v0.8h-0.8zM272.8 294.2h0.8v0.8h-0.8zM256.4 303.6h0.8v0.8h-0.8zM286.3 315.6h0.8v0.8h-0.8zM268.9 296.4h0.8v0.8h-0.8zM229.2 309.8h0.8v0.8h-0.8zM276.3 299.9h0.8v0.8h-0.8zM272.6 303.0h0.8v0.8h-0.8zM256.0 296.8h0.8v0.8h-0.8zM256.9 309.0h0.8v0.8h-0.8zM255.7 291.1h0.8v0.8h-0.8zM271.0 306.1h0.8v0.8h-0.8zM267.5 301.7h0.8v0.8h-0.8zM285.7 313.6h0.8v0.8h-0.8zM264.1 296.0h0.8v0.8h-0.8zM275.5 280.9h0.8v0.8h-0.8zM251.1 288.6h0.8v0.8h-0.8zM263.6 294.2h0.8v0.8h-0.8zM305.1 313.1h0.8v0.8h-0.8zM263.4 321.4h0.8v0.8h-0.8zM260.2 294.2h0.8v0.8h-0.8zM281.6 309.9h0.8v0.8h-0.8zM275.1 312.7h0.8v0.8h-0.8zM254.0 289.6h0.8v0.8h-0.8zM245.9 296.1h0.8v0.8h-0.8zM280.6 290.2h0.8v0.8h-0.8zM251.9 282.2h0.8v0.8h-0.8zM296.2 312.2h0.8v0.8h-0.8zM266.0 285.9h0.8v0.8h-0.8zM241.3 287.5h0.8v0.8h-0.8zM262.6 284.8h0.8v0.8h-0.8zM253.2 308.9h0.8v0.8h-0.8zM259.8 298.5h0.8v0.8h-0.8zM220.5 287.7h0.8v0.8h-0.8zM258.1 290.0h0.8v0.8h-0.8zM233.6 292.1h0.8v0.8h-0.8zM241.3 288.5h0.8v0.8h-0.8zM229.6 291.2h0.8v0.8h-0.8zM278.4 292.0h0.8v0.8h-0.8zM268.5 283.3h0.8v0.8h-0.8zM269.7 304.8h0.8v0.8h-0.8zM250.8 305.0h0.8v0.8h-0.8zM243.0 295.0h0.8v0.8h-0.8zM291.6 302.8h0.8v0.8h-0.8zM236.4 305.3h0.8v0.8h-0.8zM270.3 296.4h0.8v0.8h-0.8zM228.6 272.4h0.8v0.8h-0.8zM228.3 307.3h0.8v0.8h-0.8zM266.7 289.8h0.8v0.8h-0.8zM278.9 316.0h0.8v0.8h-0.8zM242.9 299.5h0.8v0.8h-0.8zM227.9 295.7h0.8v0.8h-0.8zM296.6 289.3h0.8v0.8h-0.8zM261.9 291.2h0.8v0.8h-0.8zM257.8 298.0h0.8v0.8h-0.8zM263.4 307.3h0.8v0.8h-0.8zM267.5 309.7h0.8v0.8h-0.8zM276.9 311.9h0.8v0.8h-0.8zM246.2 299.3h0.8v0.8h-0.8zM254.1 287.7h0.8v0.8h-0.8zM296.2 306.9h0.8v0.8h-0.8zM264.3 276.4h0.8v0.8h-0.8zM253.9 304.5h0.8v0.8h-0.8zM256.8 291.3h0.8v0.8h-0.8zM288.1 299.2h0.8v0.8h-0.8zM253.6 295.3h0.8v0.8h-0.8zM253.3 307.3h0.8v0.8h-0.8zM270.6 298.6h0.8v0.8h-0.8zM253.3 294.0h0.8v0.8h-0.8zM292.2 300.0h0.8v0.8h-0.8zM274.8 283.7h0.8v0.8h-0.8zM264.5 305.4h0.8v0.8h-0.8zM283.1 304.9h0.8v0.8h-0.8zM270.0 302.6h0.8v0.8h-0.8zM276.2 321.6h0.8v0.8h-0.8zM264.9 289.9h0.8v0.8h-0.8zM271.1 298.3h0.8v0.8h-0.8zM270.4 307.4h0.8v0.8h-0.8zM263.4 293.5h0.8v0.8h-0.8zM267.7 285.9h0.8v0.8h-0.8zM266.4 289.4h0.8v0.8h-0.8zM268.0 300.2h0.8v0.8h-0.8zM257.7 284.6h0.8v0.8h-0.8zM261.8 290.7h0.8v0.8h-0.8zM255.8 304.0h0.8v0.8h-0.8zM280.0 287.6h0.8v0.8h-0.8zM274.9 314.3h0.8v0.8h-0.8zM280.4 304.0h0.8v0.8h-0.8zM254.9 314.7h0.8v0.8h-0.8zM256.4 281.0h0.8v0.8h-0.8zM260.9 300.6h0.8v0.8h-0.8zM242.3 281.7h0.8v0.8h-0.8zM296.8 305.2h0.8v0.8h-0.8zM275.4 294.1h0.8v0.8h-0.8zM231.4 290.6h0.8v0.8h-0.8zM286.2 295.2h0.8v0.8h-0.8zM226.3 289.7h0.8v0.8h-0.8zM254.4 296.7h0.8v0.8h-0.8zM240.6 290.8h0.8v0.8h-0.8zM247.9 304.5h0.8v0.8h-0.8zM261.0 306.7h0.8v0.8h-0.8zM262.5 275.7h0.8v0.8h-0.8zM221.9 296.3h0.8v0.8h-0.8zM274.7 309.2h0.8v0.8h-0.8zM261.5 279.2h0.8v0.8h-0.8zM249.7 299.9h0.8v0.8h-0.8zM286.3 298.6h0.8v0.8h-0.8zM250.5 287.8h0.8v0.8h-0.8zM277.4 309.6h0.8v0.8h-0.8zM223.2 303.6h0.8v0.8h-0.8zM245.0 279.5h0.8v0.8h-0.8zM231.0 284.8h0.8v0.8h-0.8zM237.5 286.5h0.8v0.8h-0.8zM261.9 302.2h0.8v0.8h-0.8zM253.5 279.9h0.8v0.8h-0.8zM253.2 289.2h0.8v0.8h-0.8zM225.7 292.9h0.8v0.8h-0.8zM235.2 275.0h0.8v0.8h-0.8zM286.6 312.0h0.8v0.8h-0.8zM286.8 303.5h0.8v0.8h-0.8zM252.1 295.2h0.8v0.8h-0.8zM232.6 300.4h0.8v0.8h-0.8zM265.3 295.3h0.8v0.8h-0.8zM224.7 290.1h0.8v0.8h-0.8zM287.8 317.5h0.8v0.8h-0.8zM276.8 296.8h0.8v0.8h-0.8zM261.3 303.5h0.8v0.8h-0.8zM261.5 308.7h0.8v0.8h-0.8zM251.3 271.8h0.8v0.8h-0.8zM215.6 280.2h0.8v0.8h-0.8zM232.5 299.6h0.8v0.8h-0.8zM280.0 301.0h0.8v0.8h-0.8zM269.7 300.0h0.8v0.8h-0.8zM263.8 293.3h0.8v0.8h-0.8zM250.0 308.1h0.8v0.8h-0.8zM254.7 296.1h0.8v0.8h-0.8zM280.5 311.4h0.8v0.8h-0.8zM251.9 298.7h0.8v0.8h-0.8zM240.4 295.4h0.8v0.8h-0.8zM265.7 298.5h0.8v0.8h-0.8zM262.1 301.7h0.8v0.8h-0.8zM213.5 280.7h0.8v0.8h-0.8zM262.0 292.7h0.8v0.8h-0.8zM242.0 291.8h0.8v0.8h-0.8zM290.5 300.5h0.8v0.8h-0.8zM248.3 290.4h0.8v0.8h-0.8zM236.4 298.4h0.8v0.8h-0.8zM239.5 303.4h0.8v0.8h-0.8zM275.8 306.3h0.8v0.8h-0.8zM279.5 300.0h0.8v0.8h-0.8zM226.7 290.9h0.8v0.8h-0.8zM274.5 284.0h0.8v0.8h-0.8zM234.7 304.4h0.8v0.8h-0.8zM265.6 312.5h0.8v0.8h-0.8zM272.2 300.3h0.8v0.8h-0.8zM266.3 307.5h0.8v0.8h-0.8zM259.6 295.2h0.8v0.8h-0.8zM266.2 295.3h0.8v0.8h-0.8zM306.6 297.7h0.8v0.8h-0.8zM233.4 279.3h0.8v0.8h-0.8zM280.2 296.8h0.8v0.8h-0.8zM263.1 295.8h0.8v0.8h-0.8zM267.6 283.7h0.8v0.8h-0.8zM262.4 291.9h0.8v0.8h-0.8zM279.1 307.4h0.8v0.8h-0.8zM237.7 283.5h0.8v0.8h-0.8zM268.4 311.4h0.8v0.8h-0.8zM274.5 298.5h0.8v0.8h-0.8zM285.0 277.3h0.8v0.8h-0.8zM251.3 285.8h0.8v0.8h-0.8zM239.2 299.7h0.8v0.8h-0.8zM264.5 301.2h0.8v0.8h-0.8zM256.1 303.3h0.8v0.8h-0.8zM275.6 294.3h0.8v0.8h-0.8zM279.1 291.2h0.8v0.8h-0.8zM295.5 290.2h0.8v0.8h-0.8zM256.2 285.5h0.8v0.8h-0.8zM258.2 310.9h0.8v0.8h-0.8zM242.3 312.9h0.8v0.8h-0.8zM285.8 306.1h0.8v0.8h-0.8zM247.0 304.6h0.8v0.8h-0.8zM278.1 300.3h0.8v0.8h-0.8zM308.1 298.9h0.8v0.8h-0.8zM234.9 290.8h0.8v0.8h-0.8zM267.7 316.6h0.8v0.8h-0.8zM226.0 293.1h0.8v0.8h-0.8zM285.0 294.9h0.8v0.8h-0.8zM253.3 283.6h0.8v0.8h-0.8zM272.9 308.4h0.8v0.8h-0.8zM270.5 301.9h0.8v0.8h-0.8zM278.8 299.5h0.8v0.8h-0.8zM271.9 308.1h0.8v0.8h-0.8zM283.6 307.0h0.8v0.8h-0.8zM260.1 304.9h0.8v0.8h-0.8zM233.4 274.4h0.8v0.8h-0.8zM290.3 304.3h0.8v0.8h-0.8zM240.7 288.0h0.8v0.8h-0.8zM256.8 297.7h0.8v0.8h-0.8zM243.4 305.0h0.8v0.8h-0.8zM236.1 310.7h0.8v0.8h-0.8zM275.5 282.6h0.8v0.8h-0.8zM236.3 293.9h0.8v0.8h-0.8zM265.7 294.1h0.8v0.8h-0.8zM259.7 299.1h0.8v0.8h-0.8zM237.8 294.2h0.8v0.8h-0.8zM304.4 298.6h0.8v0.8h-0.8zM239.2 300.8h0.8v0.8h-0.8zM283.7 312.6h0.8v0.8h-0.8zM247.8 294.6h0.8v0.8h-0.8zM264.0 296.0h0.8v0.8h-0.8zM265.5 309.8h0.8v0.8h-0.8zM270.3 299.2h0.8v0.8h-0.8zM252.7 315.0h0.8v0.8h-0.8zM232.5 313.7h0.8v0.8h-0.8zM273.8 300.8h0.8v0.8h-0.8zM242.2 313.6h0.8v0.8h-0.8zM281.5 310.8h0.8v0.8h-0.8zM262.2 294.7h0.8v0.8h-0.8zM245.6 295.7h0.8v0.8h-0.8zM269.1 304.6h0.8v0.8h-0.8zM259.5 283.5h0.8v0.8h-0.8zM269.4 305.5h0.8v0.8h-0.8zM299.0 314.2h0.8v0.8h-0.8zM262.1 285.8h0.8v0.8h-0.8zM262.2 305.7h0.8v0.8h-0.8zM267.1 312.7h0.8v0.8h-0.8zM241.0 286.9h0.8v0.8h-0.8zM265.3 285.5h0.8v0.8h-0.8zM245.4 309.5h0.8v0.8h-0.8zM265.7 297.4h0.8v0.8h-0.8zM248.7 296.0h0.8v0.8h-0.8zM261.1 286.3h0.8v0.8h-0.8zM277.3 287.1h0.8v0.8h-0.8zM285.2 298.4h0.8v0.8h-0.8zM266.9 289.6h0.8v0.8h-0.8zM292.4 317.8h0.8v0.8h-0.8zM299.0 313.8h0.8v0.8h-0.8zM287.1 295.9h0.8v0.8h-0.8zM285.8 297.4h0.8v0.8h-0.8zM261.3 283.4h0.8v0.8h-0.8zM260.1 301.8h0.8v0.8h-0.8zM260.6 285.9h0.8v0.8h-0.8zM275.7 309.9h0.8v0.8h-0.8zM256.6 305.2h0.8v0.8h-0.8zM280.7 290.8h0.8v0.8h-0.8zM262.4 278.3h0.8v0.8h-0.8zM238.8 298.3h0.8v0.8h-0.8zM241.9 298.5h0.8v0.8h-0.8zM270.5 277.6h0.8v0.8h-0.8zM247.5 311.3h0.8v0.8h-0.8zM259.8 298.8h0.8v0.8h-0.8zM248.9 278.6h0.8v0.8h-0.8zM257.7 287.9h0.8v0.8h-0.8zM265.4 277.9h0.8v0.8h-0.8zM284.0 319.9h0.8v0.8h-0.8zM244.5 298.2h0.8v0.8h-0.8zM240.6 303.1h0.8v0.8h-0.8zM243.6 293.1h0.8v0.8h-0.8zM284.4 307.3h0.8v0.8h-0.8zM256.1 280.7h0.8v0.8h-0.8zM226.4 304.3h0.8v0.8h-0.8zM269.7 299.8h0.8v0.8h-0.8zM284.1 303.3h0.8v0.8h-0.8zM245.7 293.9h0.8v0.8h-0.8zM257.9 297.0h0.8v0.8h-0.8zM307.6 312.0h0.8v0.8h-0.8zM265.6 295.8h0.8v0.8h-0.8zM248.2 284.9h0.8v0.8h-0.8zM223.7 286.2h0.8v0.8h-0.8z" fill="#1818a0"/><path d="M224.6 270.6h0.8v0.8h-0.8zM239.7 271.3h0.8v0.8h-0.8zM292.5 317.1h0.8v0.8h-0.8zM231.2 315.2h0.8v0.8h-0.8zM281.5 273.2h0.8v0.8h-0.8zM262.2 286.8h0.8v0.8h-0.8zM215.8 286.8h0.8v0.8h-0.8zM288.4 307.5h0.8v0.8h-0.8zM223.7 283.7h0.8v0.8h-0.8zM238.2 306.4h0.8v0.8h-0.8zM259.2 286.4h0.8v0.8h-0.8zM240.2 272.0h0.8v0.8h-0.8zM236.5 303.3h0.8v0.8h-0.8zM210.5 290.9h0.8v0.8h-0.8zM255.3 305.8h0.8v0.8h-0.8zM228.7 302.1h0.8v0.8h-0.8zM218.1 289.8h0.8v0.8h-0.8zM254.1 297.8h0.8v0.8h-0.8zM232.8 302.3h0.8v0.8h-0.8zM236.4 286.9h0.8v0.8h-0.8zM278.2 302.2h0.8v0.8h-0.8zM237.8 307.4h0.8v0.8h-0.8zM271.1 310.9h0.8v0.8h-0.8zM252.8 310.5h0.8v0.8h-0.8zM249.9 283.2h0.8v0.8h-0.8zM262.2 282.3h0.8v0.8h-0.8zM290.5 311.1h0.8v0.8h-0.8zM216.2 291.7h0.8v0.8h-0.8zM282.2 297.4h0.8v0.8h-0.8zM271.5 293.0h0.8v0.8h-0.8zM258.1 296.2h0.8v0.8h-0.8zM274.0 289.1h0.8v0.8h-0.8zM230.0 295.9h0.8v0.8h-0.8zM245.6 300.8h0.8v0.8h-0.8zM249.2 280.9h0.8v0.8h-0.8zM278.1 303.7h0.8v0.8h-0.8zM279.1 297.1h0.8v0.8h-0.8zM248.0 309.5h0.8v0.8h-0.8zM212.8 308.6h0.8v0.8h-0.8zM273.0 299.1h0.8v0.8h-0.8zM260.8 304.4h0.8v0.8h-0.8zM239.3 296.9h0.8v0.8h-0.8zM238.6 273.0h0.8v0.8h-0.8zM264.6 299.4h0.8v0.8h-0.8zM275.2 306.4h0.8v0.8h-0.8zM276.1 309.2h0.8v0.8h-0.8zM230.2 305.8h0.8v0.8h-0.8zM225.9 299.2h0.8v0.8h-0.8zM281.3 312.6h0.8v0.8h-0.8zM301.8 289.3h0.8v0.8h-0.8zM268.4 304.2h0.8v0.8h-0.8zM293.5 293.4h0.8v0.8h-0.8zM261.0 293.5h0.8v0.8h-0.8zM255.7 295.1h0.8v0.8h-0.8zM259.1 277.5h0.8v0.8h-0.8zM258.5 298.0h0.8v0.8h-0.8zM243.0 287.2h0.8v0.8h-0.8zM234.1 310.9h0.8v0.8h-0.8zM283.8 299.6h0.8v0.8h-0.8zM233.7 298.2h0.8v0.8h-0.8zM241.3 310.8h0.8v0.8h-0.8zM288.4 301.1h0.8v0.8h-0.8zM276.9 291.5h0.8v0.8h-0.8zM217.2 299.4h0.8v0.8h-0.8zM302.3 301.5h0.8v0.8h-0.8zM249.5 275.5h0.8v0.8h-0.8zM317.2 294.1h0.8v0.8h-0.8zM235.0 290.9h0.8v0.8h-0.8zM290.7 303.5h0.8v0.8h-0.8zM259.0 297.6h0.8v0.8h-0.8zM281.5 300.9h0.8v0.8h-0.8zM263.8 297.3h0.8v0.8h-0.8zM228.4 307.0h0.8v0.8h-0.8zM244.2 279.9h0.8v0.8h-0.8zM248.3 295.8h0.8v0.8h-0.8zM283.5 285.1h0.8v0.8h-0.8zM226.6 293.6h0.8v0.8h-0.8zM271.5 287.2h0.8v0.8h-0.8zM230.0 294.2h0.8v0.8h-0.8zM259.0 279.2h0.8v0.8h-0.8zM234.1 309.6h0.8v0.8h-0.8zM230.3 304.0h0.8v0.8h-0.8zM217.3 306.6h0.8v0.8h-0.8zM302.0 297.8h0.8v0.8h-0.8zM240.8 301.2h0.8v0.8h-0.8zM226.6 297.8h0.8v0.8h-0.8zM290.4 305.8h0.8v0.8h-0.8zM268.2 297.2h0.8v0.8h-0.8zM287.0 293.1h0.8v0.8h-0.8zM300.6 304.4h0.8v0.8h-0.8zM254.3 278.2h0.8v0.8h-0.8zM247.8 298.0h0.8v0.8h-0.8zM294.7 285.5h0.8v0.8h-0.8zM257.6 289.4h0.8v0.8h-0.8zM228.7 292.0h0.8v0.8h-0.8zM238.3 303.4h0.8v0.8h-0.8zM273.6 296.1h0.8v0.8h-0.8zM264.7 287.5h0.8v0.8h-0.8zM233.9 284.6h0.8v0.8h-0.8zM259.7 288.0h0.8v0.8h-0.8zM250.4 286.1h0.8v0.8h-0.8zM267.7 286.1h0.8v0.8h-0.8zM258.8 298.4h0.8v0.8h-0.8zM285.7 293.7h0.8v0.8h-0.8zM233.1 276.0h0.8v0.8h-0.8zM280.2 294.0h0.8v0.8h-0.8zM285.0 301.0h0.8v0.8h-0.8zM256.0 275.9h0.8v0.8h-0.8zM240.6 302.9h0.8v0.8h-0.8zM242.5 302.0h0.8v0.8h-0.8zM215.3 301.0h0.8v0.8h-0.8zM270.1 285.4h0.8v0.8h-0.8zM247.2 287.9h0.8v0.8h-0.8zM268.2 276.3h0.8v0.8h-0.8zM235.8 302.1h0.8v0.8h-0.8zM261.9 306.1h0.8v0.8h-0.8zM283.7 288.8h0.8v0.8h-0.8zM224.0 296.3h0.8v0.8h-0.8zM260.2 298.4h0.8v0.8h-0.8zM236.6 304.8h0.8v0.8h-0.8zM270.1 312.1h0.8v0.8h-0.8zM249.1 303.3h0.8v0.8h-0.8zM259.8 286.9h0.8v0.8h-0.8zM260.6 279.0h0.8v0.8h-0.8zM254.5 298.5h0.8v0.8h-0.8zM279.4 289.1h0.8v0.8h-0.8zM226.8 283.4h0.8v0.8h-0.8zM207.5 280.9h0.8v0.8h-0.8zM326.5 310.8h0.8v0.8h-0.8zM241.3 286.6h0.8v0.8h-0.8zM307.2 292.7h0.8v0.8h-0.8zM256.7 296.0h0.8v0.8h-0.8zM242.0 286.3h0.8v0.8h-0.8zM218.0 280.7h0.8v0.8h-0.8zM290.2 318.7h0.8v0.8h-0.8zM250.9 303.8h0.8v0.8h-0.8zM271.1 300.7h0.8v0.8h-0.8zM253.7 310.0h0.8v0.8h-0.8zM274.6 297.5h0.8v0.8h-0.8zM251.7 306.5h0.8v0.8h-0.8zM245.6 286.9h0.8v0.8h-0.8zM253.4 290.7h0.8v0.8h-0.8zM291.3 307.0h0.8v0.8h-0.8zM258.3 291.3h0.8v0.8h-0.8zM295.0 308.6h0.8v0.8h-0.8zM311.3 316.7h0.8v0.8h-0.8zM255.0 290.5h0.8v0.8h-0.8zM251.8 298.1h0.8v0.8h-0.8zM278.9 306.3h0.8v0.8h-0.8zM302.7 288.0h0.8v0.8h-0.8z" fill="#2828b0"/><radialGradient id="rg9"><stop offset="0" stop-color="#ff2000" stop-opacity="1"/><stop offset="0.12" stop-color="#ffe000" stop-opacity="1"/><stop offset="0.3" stop-color="#70f050" stop-opacity="1"/><stop offset="0.5" stop-color="#10d8d0" stop-opacity="1"/><stop offset="0.75" stop-color="#0060d8" stop-opacity="1"/><stop offset="1" stop-color="#000090" stop-opacity="0"/></radialGradient><ellipse cx="259.0" cy="296.4" rx="14.50" ry="6.60" transform="rotate(10 259.0 296.4)" fill="url(#rg9)"/><ellipse cx="248" cy="306" rx="0.09" ry="0.09" transform="rotate(0 248 306)" fill="#000088"/><path d="" fill="#000088"/><path d="M248.7 291.8h0.8v0.8h-0.8zM221.2 300.0h0.8v0.8h-0.8zM231.0 296.3h0.8v0.8h-0.8zM208.4 317.4h0.8v0.8h-0.8zM239.6 315.7h0.8v0.8h-0.8zM219.2 282.7h0.8v0.8h-0.8zM232.5 314.8h0.8v0.8h-0.8zM233.4 310.0h0.8v0.8h-0.8zM219.9 320.0h0.8v0.8h-0.8zM259.3 316.5h0.8v0.8h-0.8zM240.8 318.8h0.8v0.8h-0.8zM249.9 301.1h0.8v0.8h-0.8zM231.3 306.5h0.8v0.8h-0.8zM224.3 294.0h0.8v0.8h-0.8zM251.4 313.1h0.8v0.8h-0.8zM240.4 314.4h0.8v0.8h-0.8zM289.3 293.3h0.8v0.8h-0.8zM254.7 296.3h0.8v0.8h-0.8zM231.2 307.8h0.8v0.8h-0.8zM186.2 312.1h0.8v0.8h-0.8zM269.9 311.4h0.8v0.8h-0.8zM264.9 324.2h0.8v0.8h-0.8zM238.5 317.0h0.8v0.8h-0.8zM285.7 310.9h0.8v0.8h-0.8zM201.5 304.4h0.8v0.8h-0.8zM240.3 289.8h0.8v0.8h-0.8zM246.4 313.6h0.8v0.8h-0.8zM241.2 304.2h0.8v0.8h-0.8zM286.3 299.8h0.8v0.8h-0.8zM223.4 306.4h0.8v0.8h-0.8zM277.2 311.9h0.8v0.8h-0.8zM249.9 301.1h0.8v0.8h-0.8zM280.1 314.9h0.8v0.8h-0.8zM202.8 309.3h0.8v0.8h-0.8zM263.9 299.7h0.8v0.8h-0.8zM214.3 303.0h0.8v0.8h-0.8zM202.3 311.7h0.8v0.8h-0.8zM234.7 288.3h0.8v0.8h-0.8zM247.4 317.9h0.8v0.8h-0.8zM214.9 302.4h0.8v0.8h-0.8zM295.3 307.8h0.8v0.8h-0.8zM233.5 307.9h0.8v0.8h-0.8zM268.3 295.9h0.8v0.8h-0.8zM245.4 289.6h0.8v0.8h-0.8zM206.7 290.6h0.8v0.8h-0.8zM270.0 309.1h0.8v0.8h-0.8zM267.1 318.2h0.8v0.8h-0.8zM249.2 308.4h0.8v0.8h-0.8zM258.5 310.7h0.8v0.8h-0.8zM220.2 303.2h0.8v0.8h-0.8zM244.0 306.3h0.8v0.8h-0.8zM228.4 304.7h0.8v0.8h-0.8zM255.5 307.9h0.8v0.8h-0.8zM263.3 314.2h0.8v0.8h-0.8zM262.5 315.7h0.8v0.8h-0.8zM269.9 320.0h0.8v0.8h-0.8zM264.4 299.8h0.8v0.8h-0.8zM308.6 317.3h0.8v0.8h-0.8zM280.5 313.3h0.8v0.8h-0.8zM249.2 294.5h0.8v0.8h-0.8zM259.4 302.4h0.8v0.8h-0.8zM237.5 284.6h0.8v0.8h-0.8zM288.4 294.3h0.8v0.8h-0.8zM219.3 310.7h0.8v0.8h-0.8zM262.8 298.0h0.8v0.8h-0.8zM247.8 308.5h0.8v0.8h-0.8zM252.1 311.3h0.8v0.8h-0.8zM268.2 302.3h0.8v0.8h-0.8zM237.9 296.1h0.8v0.8h-0.8zM267.5 311.9h0.8v0.8h-0.8zM231.9 329.6h0.8v0.8h-0.8zM247.0 309.1h0.8v0.8h-0.8zM256.3 303.7h0.8v0.8h-0.8zM256.3 292.9h0.8v0.8h-0.8zM237.6 324.5h0.8v0.8h-0.8zM189.7 297.4h0.8v0.8h-0.8zM270.9 301.9h0.8v0.8h-0.8zM232.9 290.9h0.8v0.8h-0.8zM244.8 304.2h0.8v0.8h-0.8zM231.3 290.3h0.8v0.8h-0.8zM252.0 310.2h0.8v0.8h-0.8zM277.7 311.2h0.8v0.8h-0.8zM287.6 318.0h0.8v0.8h-0.8zM245.2 295.5h0.8v0.8h-0.8zM259.3 315.6h0.8v0.8h-0.8zM207.6 293.6h0.8v0.8h-0.8zM265.9 300.4h0.8v0.8h-0.8zM286.0 308.2h0.8v0.8h-0.8zM233.6 292.7h0.8v0.8h-0.8zM263.6 288.7h0.8v0.8h-0.8z" fill="#3030b8"/><radialGradient id="rg10"><stop offset="0" stop-color="#50f070" stop-opacity="1"/><stop offset="0.2" stop-color="#20e8b0" stop-opacity="1"/><stop offset="0.4" stop-color="#00c8e0" stop-opacity="1"/><stop offset="0.62" stop-color="#0080e0" stop-opacity="1"/><stop offset="0.82" stop-color="#0030b8" stop-opacity="1"/><stop offset="1" stop-color="#000088" stop-opacity="1"/></radialGradient><ellipse cx="248" cy="306" rx="0.00" ry="0.00" transform="rotate(0 248 306)" fill="url(#rg10)"/>
<path d="M171.5 362.3 A72.5 72.5 0 0 1 316.5 362.3" fill="none" stroke="#5a5a5a" stroke-width="1.0"/>
<text transform="translate(196.9,290.3) rotate(-11.2)" font-size="10.8" fill="#2b2b2b">τ<tspan dx="0.5"> decrease</tspan></text>
<circle cx="202.1" cy="305.7" r="2.8" fill="none" stroke="#c42424" stroke-width="0.95"/>
<circle cx="212.1" cy="304.3" r="2.9" fill="none" stroke="#20bccc" stroke-width="0.95"/>
<circle cx="217.4" cy="303.1" r="3.0" fill="none" stroke="#b8b41c" stroke-width="0.95"/>
<circle cx="258.0" cy="295.6" r="4.1" fill="none" stroke="#c030d8" stroke-width="1.0"/>
<line x1="207.4" y1="320.8" x2="230.75" y2="315.75" stroke="#9410d4" stroke-width="2.4"/>
<polygon points="228.6,309.0 231.9,322.5 244.1,312.3" fill="#9410d4"/>
<text x="245.2" y="341.4" font-size="10.25" fill="#2b2b2b">τ<tspan font-size="7.38" dy="2.77">ϕ</tspan><tspan dy="-2.77"> = 1.5 ns</tspan></text>
<text x="243.00" y="352.80" font-size="10.4" fill="#d434a0" font-weight="bold" font-style="normal" text-anchor="start" >Organoids</text>
<text x="9.40" y="190.70" font-size="10.4" fill="#1a1a1a" font-weight="bold" font-style="normal" text-anchor="start" >NP A</text>
<line x1="445.15" y1="265.3" x2="445.15" y2="264.5" stroke="#999" stroke-width="0.8"/>
<line x1="372.4" y1="265.3" x2="461.00" y2="180.30" stroke="#d0d0b8" stroke-width="0.7"/>
<ellipse cx="442.7" cy="198.5" rx="4.56" ry="2.24" transform="rotate(0 442.7 198.5)" fill="#000088"/><path d="M438.3 196.1h1.0v1.0h-1.0zM439.8 196.0h1.0v1.0h-1.0zM444.7 200.2h1.0v1.0h-1.0zM441.2 200.6h1.0v1.0h-1.0zM436.8 197.9h1.0v1.0h-1.0zM441.3 195.4h1.0v1.0h-1.0zM447.1 197.2h1.0v1.0h-1.0zM446.7 198.6h1.0v1.0h-1.0zM439.6 196.2h1.0v1.0h-1.0zM438.2 199.7h1.0v1.0h-1.0zM445.1 195.8h1.0v1.0h-1.0zM447.5 197.8h1.0v1.0h-1.0zM438.9 196.7h1.0v1.0h-1.0zM445.9 199.6h1.0v1.0h-1.0zM443.9 200.3h1.0v1.0h-1.0zM446.8 196.5h1.0v1.0h-1.0zM439.2 195.8h1.0v1.0h-1.0zM444.7 195.6h1.0v1.0h-1.0zM440.7 195.9h1.0v1.0h-1.0zM439.1 199.7h1.0v1.0h-1.0zM437.9 198.6h1.0v1.0h-1.0zM441.6 195.9h1.0v1.0h-1.0zM446.4 197.1h1.0v1.0h-1.0zM443.8 200.4h1.0v1.0h-1.0zM437.5 197.3h1.0v1.0h-1.0zM444.8 195.8h1.0v1.0h-1.0zM442.4 200.2h1.0v1.0h-1.0zM437.5 198.3h1.0v1.0h-1.0zM438.1 198.9h1.0v1.0h-1.0zM437.6 198.7h1.0v1.0h-1.0zM437.8 198.7h1.0v1.0h-1.0zM442.5 195.7h1.0v1.0h-1.0zM440.4 199.9h1.0v1.0h-1.0zM442.3 195.5h1.0v1.0h-1.0zM445.3 195.8h1.0v1.0h-1.0zM445.5 199.8h1.0v1.0h-1.0zM445.8 199.9h1.0v1.0h-1.0zM446.8 197.9h1.0v1.0h-1.0zM437.5 197.2h1.0v1.0h-1.0zM438.7 199.9h1.0v1.0h-1.0zM443.2 195.6h1.0v1.0h-1.0zM446.2 196.9h1.0v1.0h-1.0zM439.3 200.0h1.0v1.0h-1.0zM440.5 195.9h1.0v1.0h-1.0zM436.9 197.5h1.0v1.0h-1.0zM440.1 200.3h1.0v1.0h-1.0zM441.1 195.7h1.0v1.0h-1.0z" fill="#000088"/><radialGradient id="rg11"><stop offset="0" stop-color="#ff4000" stop-opacity="1"/><stop offset="0.2" stop-color="#c0f020" stop-opacity="1"/><stop offset="0.45" stop-color="#30e0a0" stop-opacity="1"/><stop offset="0.7" stop-color="#0090e0" stop-opacity="1"/><stop offset="1" stop-color="#000090" stop-opacity="0"/></radialGradient><ellipse cx="443.0" cy="198.5" rx="2.80" ry="1.90" transform="rotate(0 443.0 198.5)" fill="url(#rg11)"/>
<path d="M372.4 265.3 A72.75 72.75 0 0 1 517.9 265.3" fill="none" stroke="#5a5a5a" stroke-width="1.0"/>
<circle cx="442.6" cy="198.3" r="6.4" fill="none" stroke="#a8a020" stroke-width="1.1"/>
<text x="439.20" y="248.40" font-size="10.4" fill="#9a9a1c" font-weight="bold" font-style="normal" text-anchor="middle" >Water</text>
<line x1="611.3" y1="267.6" x2="611.3" y2="266.8" stroke="#999" stroke-width="0.8"/>
<line x1="538.3" y1="267.6" x2="626.90" y2="182.60" stroke="#d0d0b8" stroke-width="0.7"/>
<ellipse cx="607.6" cy="200.3" rx="4.64" ry="2.92" transform="rotate(0 607.6 200.3)" fill="#000088"/><path d="M605.5 196.6h1.0v1.0h-1.0zM607.0 196.4h1.0v1.0h-1.0zM608.8 196.9h1.0v1.0h-1.0zM611.1 198.0h1.0v1.0h-1.0zM612.4 199.2h1.0v1.0h-1.0zM608.1 196.7h1.0v1.0h-1.0zM608.7 197.0h1.0v1.0h-1.0zM610.8 198.1h1.0v1.0h-1.0zM609.3 202.3h1.0v1.0h-1.0zM612.0 200.7h1.0v1.0h-1.0zM608.6 196.8h1.0v1.0h-1.0zM605.3 197.3h1.0v1.0h-1.0zM609.9 202.6h1.0v1.0h-1.0zM610.5 202.3h1.0v1.0h-1.0zM610.9 197.3h1.0v1.0h-1.0zM613.0 199.0h1.0v1.0h-1.0zM607.5 196.6h1.0v1.0h-1.0zM604.8 202.5h1.0v1.0h-1.0zM611.1 197.8h1.0v1.0h-1.0zM603.0 198.1h1.0v1.0h-1.0zM606.0 196.8h1.0v1.0h-1.0zM605.9 196.6h1.0v1.0h-1.0zM611.3 198.8h1.0v1.0h-1.0zM608.9 197.1h1.0v1.0h-1.0zM602.6 201.2h1.0v1.0h-1.0zM611.2 200.7h1.0v1.0h-1.0zM607.1 196.6h1.0v1.0h-1.0zM603.2 201.5h1.0v1.0h-1.0zM604.0 202.3h1.0v1.0h-1.0zM607.5 202.8h1.0v1.0h-1.0zM611.7 200.9h1.0v1.0h-1.0zM602.8 198.5h1.0v1.0h-1.0zM604.0 202.0h1.0v1.0h-1.0zM610.2 197.8h1.0v1.0h-1.0zM602.5 198.8h1.0v1.0h-1.0zM602.8 201.5h1.0v1.0h-1.0zM611.4 200.9h1.0v1.0h-1.0zM610.7 197.7h1.0v1.0h-1.0zM604.7 202.8h1.0v1.0h-1.0zM602.2 198.4h1.0v1.0h-1.0zM605.1 196.6h1.0v1.0h-1.0zM601.8 200.5h1.0v1.0h-1.0zM604.6 202.7h1.0v1.0h-1.0zM605.8 202.5h1.0v1.0h-1.0zM605.8 196.3h1.0v1.0h-1.0zM603.4 201.2h1.0v1.0h-1.0zM606.1 196.7h1.0v1.0h-1.0zM603.0 200.7h1.0v1.0h-1.0zM601.6 200.7h1.0v1.0h-1.0zM608.8 196.9h1.0v1.0h-1.0zM603.2 201.6h1.0v1.0h-1.0zM612.2 200.9h1.0v1.0h-1.0z" fill="#000088"/><radialGradient id="rg12"><stop offset="0" stop-color="#ff4000" stop-opacity="1"/><stop offset="0.2" stop-color="#c0f020" stop-opacity="1"/><stop offset="0.45" stop-color="#30e0a0" stop-opacity="1"/><stop offset="0.7" stop-color="#0090e0" stop-opacity="1"/><stop offset="1" stop-color="#000090" stop-opacity="0"/></radialGradient><ellipse cx="608.0" cy="200.6" rx="3.00" ry="2.00" transform="rotate(0 608.0 200.6)" fill="url(#rg12)"/>
<path d="M538.3 267.6 A73.0 73.0 0 0 1 684.3 267.6" fill="none" stroke="#5a5a5a" stroke-width="1.0"/>
<circle cx="608.5" cy="200.6" r="6.4" fill="none" stroke="#a8a020" stroke-width="1.1"/>
<text x="606.60" y="244.00" font-size="10.4" fill="#9a9a1c" font-weight="bold" font-style="normal" text-anchor="middle" >Imaging media</text>
<line x1="447.0" y1="365.8" x2="447.0" y2="365.0" stroke="#999" stroke-width="0.8"/>
<line x1="374.8" y1="365.8" x2="462.14" y2="282.00" stroke="#d0d0b8" stroke-width="0.7"/>
<ellipse cx="436.5" cy="299.0" rx="4.30" ry="1.12" transform="rotate(0 436.5 299.0)" fill="#000088"/><path d="M435.4 299.7h1.0v1.0h-1.0zM431.7 298.7h1.0v1.0h-1.0zM433.0 297.7h1.0v1.0h-1.0zM440.0 298.3h1.0v1.0h-1.0zM432.9 299.4h1.0v1.0h-1.0zM439.5 297.9h1.0v1.0h-1.0zM435.8 299.7h1.0v1.0h-1.0zM431.4 298.9h1.0v1.0h-1.0zM440.2 299.0h1.0v1.0h-1.0zM437.9 297.4h1.0v1.0h-1.0zM440.7 298.8h1.0v1.0h-1.0zM434.2 297.4h1.0v1.0h-1.0zM435.6 299.7h1.0v1.0h-1.0zM433.3 299.5h1.0v1.0h-1.0zM440.3 297.9h1.0v1.0h-1.0zM440.5 298.5h1.0v1.0h-1.0zM438.9 297.7h1.0v1.0h-1.0zM434.2 297.5h1.0v1.0h-1.0zM439.7 297.9h1.0v1.0h-1.0zM440.5 298.1h1.0v1.0h-1.0zM440.5 298.0h1.0v1.0h-1.0zM438.1 297.4h1.0v1.0h-1.0zM438.3 297.4h1.0v1.0h-1.0zM433.5 297.6h1.0v1.0h-1.0zM433.7 299.7h1.0v1.0h-1.0z" fill="#000088"/><radialGradient id="rg13"><stop offset="0" stop-color="#50f070" stop-opacity="1"/><stop offset="0.2" stop-color="#20e8b0" stop-opacity="1"/><stop offset="0.4" stop-color="#00c8e0" stop-opacity="1"/><stop offset="0.62" stop-color="#0080e0" stop-opacity="1"/><stop offset="0.82" stop-color="#0030b8" stop-opacity="1"/><stop offset="1" stop-color="#000088" stop-opacity="1"/></radialGradient><ellipse cx="436.5" cy="299.0" rx="0.05" ry="0.01" transform="rotate(0 436.5 299.0)" fill="url(#rg13)"/><ellipse cx="443.5" cy="299.8" rx="3.78" ry="2.24" transform="rotate(0 443.5 299.8)" fill="#000088"/><path d="M443.6 296.8h1.0v1.0h-1.0zM439.5 301.1h1.0v1.0h-1.0zM446.6 297.9h1.0v1.0h-1.0zM447.2 300.0h1.0v1.0h-1.0zM445.1 297.0h1.0v1.0h-1.0zM446.9 299.6h1.0v1.0h-1.0zM443.0 301.8h1.0v1.0h-1.0zM446.3 297.9h1.0v1.0h-1.0zM445.7 300.7h1.0v1.0h-1.0zM439.6 300.1h1.0v1.0h-1.0zM445.8 300.5h1.0v1.0h-1.0zM441.3 301.4h1.0v1.0h-1.0zM439.6 298.3h1.0v1.0h-1.0zM446.8 299.1h1.0v1.0h-1.0zM442.0 301.3h1.0v1.0h-1.0zM447.3 299.8h1.0v1.0h-1.0zM442.3 301.8h1.0v1.0h-1.0zM447.3 299.7h1.0v1.0h-1.0zM445.5 297.3h1.0v1.0h-1.0zM444.8 297.1h1.0v1.0h-1.0zM440.6 301.2h1.0v1.0h-1.0zM441.0 297.1h1.0v1.0h-1.0zM440.9 297.5h1.0v1.0h-1.0zM445.8 301.1h1.0v1.0h-1.0zM441.4 297.2h1.0v1.0h-1.0zM442.0 297.2h1.0v1.0h-1.0zM439.8 297.9h1.0v1.0h-1.0zM447.2 298.9h1.0v1.0h-1.0zM445.5 297.8h1.0v1.0h-1.0zM441.7 296.9h1.0v1.0h-1.0zM439.2 300.8h1.0v1.0h-1.0zM442.2 297.2h1.0v1.0h-1.0zM446.1 297.9h1.0v1.0h-1.0zM445.9 301.0h1.0v1.0h-1.0zM443.2 301.6h1.0v1.0h-1.0zM442.6 296.7h1.0v1.0h-1.0zM445.4 300.9h1.0v1.0h-1.0zM442.2 297.0h1.0v1.0h-1.0zM447.1 298.2h1.0v1.0h-1.0zM438.9 299.2h1.0v1.0h-1.0zM447.0 300.2h1.0v1.0h-1.0zM438.9 299.1h1.0v1.0h-1.0z" fill="#000088"/><radialGradient id="rg14"><stop offset="0" stop-color="#ff4000" stop-opacity="1"/><stop offset="0.2" stop-color="#c0f020" stop-opacity="1"/><stop offset="0.45" stop-color="#30e0a0" stop-opacity="1"/><stop offset="0.7" stop-color="#0090e0" stop-opacity="1"/><stop offset="1" stop-color="#000090" stop-opacity="0"/></radialGradient><ellipse cx="443.5" cy="299.8" rx="2.60" ry="1.80" transform="rotate(0 443.5 299.8)" fill="url(#rg14)"/>
<path d="M374.8 365.8 A72.2 72.2 0 0 1 519.2 365.8" fill="none" stroke="#5a5a5a" stroke-width="1.0"/>
<circle cx="444.2" cy="300.0" r="6.4" fill="none" stroke="#a8a020" stroke-width="1.1"/>
<text x="438.80" y="352.80" font-size="10.4" fill="#9a9a1c" font-weight="bold" font-style="normal" text-anchor="middle" >25% FBS</text>
<line x1="610.7" y1="365.8" x2="610.7" y2="365.0" stroke="#999" stroke-width="0.8"/>
<line x1="537.7" y1="365.8" x2="625.46" y2="281.60" stroke="#d0d0b8" stroke-width="0.7"/>
<ellipse cx="607.7" cy="297.6" rx="15.05" ry="8.26" transform="rotate(5 607.7 297.6)" fill="#000088"/><path d="M621.9 294.0h1.0v1.0h-1.0zM609.4 287.0h1.0v1.0h-1.0zM623.0 297.7h1.0v1.0h-1.0zM591.3 296.3h1.0v1.0h-1.0zM611.3 289.3h1.0v1.0h-1.0zM602.8 305.8h1.0v1.0h-1.0zM608.1 306.3h1.0v1.0h-1.0zM591.9 297.4h1.0v1.0h-1.0zM615.8 289.1h1.0v1.0h-1.0zM622.4 299.8h1.0v1.0h-1.0zM607.0 287.0h1.0v1.0h-1.0zM601.6 288.9h1.0v1.0h-1.0zM594.6 300.8h1.0v1.0h-1.0zM600.4 304.2h1.0v1.0h-1.0zM590.6 293.3h1.0v1.0h-1.0zM593.4 299.3h1.0v1.0h-1.0zM614.4 289.1h1.0v1.0h-1.0zM601.8 305.1h1.0v1.0h-1.0zM623.2 297.4h1.0v1.0h-1.0zM598.2 304.1h1.0v1.0h-1.0zM590.8 300.4h1.0v1.0h-1.0zM592.5 291.7h1.0v1.0h-1.0zM595.4 301.2h1.0v1.0h-1.0zM624.2 299.4h1.0v1.0h-1.0zM592.0 294.4h1.0v1.0h-1.0zM618.4 304.6h1.0v1.0h-1.0zM625.5 301.4h1.0v1.0h-1.0zM617.4 291.5h1.0v1.0h-1.0zM598.0 303.4h1.0v1.0h-1.0zM604.6 286.9h1.0v1.0h-1.0zM607.8 288.5h1.0v1.0h-1.0zM593.4 291.5h1.0v1.0h-1.0zM624.5 294.6h1.0v1.0h-1.0zM619.7 303.6h1.0v1.0h-1.0zM620.7 294.8h1.0v1.0h-1.0zM604.5 288.6h1.0v1.0h-1.0zM592.7 290.1h1.0v1.0h-1.0zM592.6 294.6h1.0v1.0h-1.0zM600.9 304.7h1.0v1.0h-1.0zM620.5 301.8h1.0v1.0h-1.0zM597.6 290.0h1.0v1.0h-1.0zM594.9 303.1h1.0v1.0h-1.0zM616.5 305.1h1.0v1.0h-1.0zM600.5 289.5h1.0v1.0h-1.0zM623.9 296.9h1.0v1.0h-1.0zM610.2 306.5h1.0v1.0h-1.0zM596.0 290.4h1.0v1.0h-1.0zM601.1 288.7h1.0v1.0h-1.0zM625.9 296.5h1.0v1.0h-1.0zM622.9 298.1h1.0v1.0h-1.0zM612.0 305.3h1.0v1.0h-1.0zM607.7 306.2h1.0v1.0h-1.0zM624.1 299.7h1.0v1.0h-1.0zM605.5 305.9h1.0v1.0h-1.0zM609.8 305.0h1.0v1.0h-1.0zM601.4 306.0h1.0v1.0h-1.0zM595.5 302.6h1.0v1.0h-1.0zM620.2 291.4h1.0v1.0h-1.0zM615.1 289.2h1.0v1.0h-1.0zM617.8 304.6h1.0v1.0h-1.0zM592.9 293.5h1.0v1.0h-1.0zM595.4 290.6h1.0v1.0h-1.0zM617.6 305.3h1.0v1.0h-1.0zM609.2 288.1h1.0v1.0h-1.0zM592.4 298.2h1.0v1.0h-1.0zM595.1 302.8h1.0v1.0h-1.0zM596.3 302.4h1.0v1.0h-1.0zM592.8 299.3h1.0v1.0h-1.0zM617.7 292.4h1.0v1.0h-1.0zM591.6 292.3h1.0v1.0h-1.0zM624.3 300.5h1.0v1.0h-1.0zM592.0 300.2h1.0v1.0h-1.0zM619.3 302.8h1.0v1.0h-1.0zM621.7 292.8h1.0v1.0h-1.0zM621.3 294.2h1.0v1.0h-1.0zM600.8 304.4h1.0v1.0h-1.0zM623.2 299.7h1.0v1.0h-1.0zM605.5 305.9h1.0v1.0h-1.0zM614.5 306.2h1.0v1.0h-1.0zM617.9 304.7h1.0v1.0h-1.0zM602.5 304.3h1.0v1.0h-1.0zM604.4 305.4h1.0v1.0h-1.0zM605.1 287.2h1.0v1.0h-1.0zM609.4 306.2h1.0v1.0h-1.0zM593.9 291.8h1.0v1.0h-1.0zM621.2 300.5h1.0v1.0h-1.0zM593.7 300.3h1.0v1.0h-1.0zM595.5 289.3h1.0v1.0h-1.0zM593.8 289.7h1.0v1.0h-1.0zM623.0 294.5h1.0v1.0h-1.0zM615.5 289.9h1.0v1.0h-1.0zM590.7 296.8h1.0v1.0h-1.0zM613.3 287.5h1.0v1.0h-1.0zM597.1 301.8h1.0v1.0h-1.0zM592.8 299.7h1.0v1.0h-1.0zM623.9 300.0h1.0v1.0h-1.0zM612.7 306.5h1.0v1.0h-1.0zM590.7 294.4h1.0v1.0h-1.0zM609.3 306.9h1.0v1.0h-1.0zM594.1 290.9h1.0v1.0h-1.0zM593.9 290.2h1.0v1.0h-1.0zM592.6 293.9h1.0v1.0h-1.0zM594.3 301.2h1.0v1.0h-1.0zM602.1 288.3h1.0v1.0h-1.0zM602.7 306.0h1.0v1.0h-1.0zM612.4 306.4h1.0v1.0h-1.0zM602.4 288.5h1.0v1.0h-1.0zM597.9 304.1h1.0v1.0h-1.0zM599.3 289.5h1.0v1.0h-1.0zM617.4 292.1h1.0v1.0h-1.0zM609.1 305.8h1.0v1.0h-1.0zM621.4 296.2h1.0v1.0h-1.0zM620.6 293.4h1.0v1.0h-1.0zM604.8 286.8h1.0v1.0h-1.0zM595.9 304.0h1.0v1.0h-1.0zM610.4 287.8h1.0v1.0h-1.0zM609.9 305.5h1.0v1.0h-1.0zM621.8 293.9h1.0v1.0h-1.0zM593.2 298.5h1.0v1.0h-1.0zM605.0 307.3h1.0v1.0h-1.0zM613.1 289.4h1.0v1.0h-1.0zM619.1 304.4h1.0v1.0h-1.0zM624.5 296.1h1.0v1.0h-1.0zM591.1 299.1h1.0v1.0h-1.0zM622.0 293.3h1.0v1.0h-1.0zM618.4 303.2h1.0v1.0h-1.0zM605.2 305.2h1.0v1.0h-1.0zM610.1 306.7h1.0v1.0h-1.0zM596.7 302.2h1.0v1.0h-1.0zM622.6 300.1h1.0v1.0h-1.0zM623.1 299.9h1.0v1.0h-1.0zM610.1 306.8h1.0v1.0h-1.0zM625.9 296.9h1.0v1.0h-1.0zM595.4 302.9h1.0v1.0h-1.0zM592.3 300.6h1.0v1.0h-1.0zM591.5 298.4h1.0v1.0h-1.0zM623.0 298.0h1.0v1.0h-1.0zM617.7 292.6h1.0v1.0h-1.0zM591.1 294.6h1.0v1.0h-1.0zM593.7 289.7h1.0v1.0h-1.0zM623.5 297.0h1.0v1.0h-1.0zM605.9 287.5h1.0v1.0h-1.0zM600.9 289.0h1.0v1.0h-1.0zM608.1 305.3h1.0v1.0h-1.0zM593.8 293.3h1.0v1.0h-1.0zM595.6 302.4h1.0v1.0h-1.0zM623.6 297.1h1.0v1.0h-1.0zM591.2 292.9h1.0v1.0h-1.0zM591.6 294.5h1.0v1.0h-1.0zM609.8 305.1h1.0v1.0h-1.0zM603.3 304.7h1.0v1.0h-1.0zM619.5 304.4h1.0v1.0h-1.0zM590.3 298.5h1.0v1.0h-1.0zM601.5 289.3h1.0v1.0h-1.0zM593.5 293.5h1.0v1.0h-1.0zM608.9 305.2h1.0v1.0h-1.0zM621.3 297.6h1.0v1.0h-1.0zM623.3 301.5h1.0v1.0h-1.0zM591.7 299.5h1.0v1.0h-1.0zM599.7 304.6h1.0v1.0h-1.0zM609.5 304.7h1.0v1.0h-1.0zM619.6 293.0h1.0v1.0h-1.0zM604.3 306.6h1.0v1.0h-1.0zM619.7 301.6h1.0v1.0h-1.0zM609.9 306.5h1.0v1.0h-1.0zM613.6 290.6h1.0v1.0h-1.0zM602.6 305.5h1.0v1.0h-1.0zM600.9 288.5h1.0v1.0h-1.0zM597.0 304.6h1.0v1.0h-1.0zM591.3 294.1h1.0v1.0h-1.0zM599.5 288.4h1.0v1.0h-1.0zM593.5 290.2h1.0v1.0h-1.0zM600.6 305.4h1.0v1.0h-1.0zM593.3 293.1h1.0v1.0h-1.0zM613.5 305.6h1.0v1.0h-1.0zM605.8 305.7h1.0v1.0h-1.0zM594.3 292.3h1.0v1.0h-1.0zM611.8 305.7h1.0v1.0h-1.0zM622.4 300.5h1.0v1.0h-1.0zM593.4 291.0h1.0v1.0h-1.0zM622.2 300.8h1.0v1.0h-1.0zM603.7 288.6h1.0v1.0h-1.0zM605.6 305.2h1.0v1.0h-1.0zM594.9 301.2h1.0v1.0h-1.0zM603.6 305.7h1.0v1.0h-1.0zM619.8 292.5h1.0v1.0h-1.0zM622.4 299.7h1.0v1.0h-1.0zM620.1 302.7h1.0v1.0h-1.0zM593.0 301.8h1.0v1.0h-1.0zM592.7 294.2h1.0v1.0h-1.0zM623.8 300.4h1.0v1.0h-1.0zM618.9 290.6h1.0v1.0h-1.0zM600.5 289.7h1.0v1.0h-1.0zM593.4 300.2h1.0v1.0h-1.0zM622.6 302.4h1.0v1.0h-1.0zM589.8 297.4h1.0v1.0h-1.0zM616.6 305.0h1.0v1.0h-1.0zM614.0 287.7h1.0v1.0h-1.0zM594.9 301.9h1.0v1.0h-1.0zM624.7 295.8h1.0v1.0h-1.0zM625.6 298.3h1.0v1.0h-1.0zM620.4 293.6h1.0v1.0h-1.0zM622.3 293.9h1.0v1.0h-1.0zM602.4 288.9h1.0v1.0h-1.0zM605.8 305.7h1.0v1.0h-1.0zM625.1 298.5h1.0v1.0h-1.0zM590.4 295.4h1.0v1.0h-1.0zM592.5 294.8h1.0v1.0h-1.0zM607.2 305.8h1.0v1.0h-1.0zM607.3 305.7h1.0v1.0h-1.0zM620.5 291.2h1.0v1.0h-1.0zM611.9 305.9h1.0v1.0h-1.0zM616.4 289.9h1.0v1.0h-1.0zM595.2 291.8h1.0v1.0h-1.0zM607.1 306.4h1.0v1.0h-1.0zM592.7 291.9h1.0v1.0h-1.0zM598.7 302.7h1.0v1.0h-1.0zM590.3 299.6h1.0v1.0h-1.0zM615.9 289.5h1.0v1.0h-1.0zM625.7 301.4h1.0v1.0h-1.0zM591.1 298.4h1.0v1.0h-1.0zM595.3 292.0h1.0v1.0h-1.0zM606.2 288.6h1.0v1.0h-1.0zM614.0 289.2h1.0v1.0h-1.0zM601.3 305.6h1.0v1.0h-1.0zM593.5 289.8h1.0v1.0h-1.0zM594.6 289.5h1.0v1.0h-1.0zM593.6 290.9h1.0v1.0h-1.0zM603.1 305.0h1.0v1.0h-1.0zM624.7 296.5h1.0v1.0h-1.0zM591.8 295.5h1.0v1.0h-1.0zM624.1 295.2h1.0v1.0h-1.0zM594.7 301.9h1.0v1.0h-1.0zM592.9 299.6h1.0v1.0h-1.0zM622.1 301.3h1.0v1.0h-1.0zM607.3 287.8h1.0v1.0h-1.0zM599.3 289.0h1.0v1.0h-1.0zM591.6 290.5h1.0v1.0h-1.0zM591.4 294.9h1.0v1.0h-1.0zM597.4 304.0h1.0v1.0h-1.0zM615.3 304.6h1.0v1.0h-1.0zM612.7 289.7h1.0v1.0h-1.0zM592.4 297.3h1.0v1.0h-1.0zM594.0 301.5h1.0v1.0h-1.0zM610.1 305.2h1.0v1.0h-1.0zM619.2 303.5h1.0v1.0h-1.0zM589.7 298.5h1.0v1.0h-1.0zM624.0 296.9h1.0v1.0h-1.0zM592.3 297.9h1.0v1.0h-1.0zM590.8 297.2h1.0v1.0h-1.0zM619.3 303.6h1.0v1.0h-1.0zM596.9 304.1h1.0v1.0h-1.0zM611.1 289.1h1.0v1.0h-1.0zM610.3 306.1h1.0v1.0h-1.0zM613.5 289.3h1.0v1.0h-1.0zM596.0 302.7h1.0v1.0h-1.0zM600.5 288.8h1.0v1.0h-1.0zM590.9 296.5h1.0v1.0h-1.0zM593.8 292.8h1.0v1.0h-1.0zM614.4 305.3h1.0v1.0h-1.0zM603.0 287.8h1.0v1.0h-1.0zM591.5 300.3h1.0v1.0h-1.0zM609.8 305.3h1.0v1.0h-1.0zM595.1 301.9h1.0v1.0h-1.0zM598.3 303.2h1.0v1.0h-1.0zM603.2 306.2h1.0v1.0h-1.0zM593.3 297.9h1.0v1.0h-1.0zM625.4 298.1h1.0v1.0h-1.0zM620.6 293.3h1.0v1.0h-1.0zM620.1 304.2h1.0v1.0h-1.0zM614.0 305.9h1.0v1.0h-1.0zM618.3 291.7h1.0v1.0h-1.0zM590.3 298.6h1.0v1.0h-1.0zM603.6 288.4h1.0v1.0h-1.0zM592.5 297.7h1.0v1.0h-1.0zM604.3 305.1h1.0v1.0h-1.0zM619.4 291.7h1.0v1.0h-1.0zM601.4 289.2h1.0v1.0h-1.0zM624.3 295.8h1.0v1.0h-1.0zM616.0 289.8h1.0v1.0h-1.0zM622.2 300.1h1.0v1.0h-1.0zM624.2 295.4h1.0v1.0h-1.0zM617.5 289.3h1.0v1.0h-1.0zM625.4 298.9h1.0v1.0h-1.0zM620.3 302.8h1.0v1.0h-1.0zM596.9 289.2h1.0v1.0h-1.0zM608.9 305.3h1.0v1.0h-1.0zM622.8 299.5h1.0v1.0h-1.0zM621.4 295.5h1.0v1.0h-1.0zM621.1 291.9h1.0v1.0h-1.0zM594.3 302.0h1.0v1.0h-1.0zM595.5 302.5h1.0v1.0h-1.0zM615.6 303.9h1.0v1.0h-1.0zM620.5 300.9h1.0v1.0h-1.0zM620.7 302.5h1.0v1.0h-1.0zM602.8 305.4h1.0v1.0h-1.0zM598.2 304.4h1.0v1.0h-1.0zM625.1 298.7h1.0v1.0h-1.0zM610.5 306.0h1.0v1.0h-1.0zM604.8 306.2h1.0v1.0h-1.0zM611.3 287.8h1.0v1.0h-1.0zM593.0 293.3h1.0v1.0h-1.0zM602.7 305.2h1.0v1.0h-1.0zM607.7 288.9h1.0v1.0h-1.0zM595.5 291.4h1.0v1.0h-1.0zM600.5 304.9h1.0v1.0h-1.0zM621.5 298.6h1.0v1.0h-1.0zM593.6 301.3h1.0v1.0h-1.0zM624.3 300.8h1.0v1.0h-1.0zM590.4 299.7h1.0v1.0h-1.0zM595.4 290.9h1.0v1.0h-1.0zM612.0 288.7h1.0v1.0h-1.0zM601.5 289.1h1.0v1.0h-1.0zM623.5 300.9h1.0v1.0h-1.0zM619.4 303.4h1.0v1.0h-1.0zM623.2 295.8h1.0v1.0h-1.0zM606.1 287.4h1.0v1.0h-1.0zM621.4 301.7h1.0v1.0h-1.0zM609.8 306.8h1.0v1.0h-1.0zM608.1 305.9h1.0v1.0h-1.0zM622.5 293.7h1.0v1.0h-1.0zM606.4 289.0h1.0v1.0h-1.0zM605.3 289.0h1.0v1.0h-1.0zM622.4 293.5h1.0v1.0h-1.0zM622.5 299.8h1.0v1.0h-1.0zM601.8 306.0h1.0v1.0h-1.0zM594.5 292.0h1.0v1.0h-1.0zM617.7 305.6h1.0v1.0h-1.0zM604.8 288.4h1.0v1.0h-1.0zM596.2 302.2h1.0v1.0h-1.0zM589.8 294.0h1.0v1.0h-1.0zM589.5 296.6h1.0v1.0h-1.0zM621.1 298.0h1.0v1.0h-1.0zM610.4 305.1h1.0v1.0h-1.0zM589.0 295.5h1.0v1.0h-1.0zM620.8 292.9h1.0v1.0h-1.0zM622.4 302.8h1.0v1.0h-1.0zM619.6 306.1h1.0v1.0h-1.0zM591.3 295.0h1.0v1.0h-1.0zM609.0 288.1h1.0v1.0h-1.0zM623.2 297.4h1.0v1.0h-1.0zM606.6 288.1h1.0v1.0h-1.0zM619.9 292.1h1.0v1.0h-1.0zM605.9 305.5h1.0v1.0h-1.0zM617.1 290.6h1.0v1.0h-1.0zM609.2 288.9h1.0v1.0h-1.0zM607.7 306.1h1.0v1.0h-1.0zM613.5 287.8h1.0v1.0h-1.0zM600.2 288.3h1.0v1.0h-1.0zM623.4 298.6h1.0v1.0h-1.0zM615.2 304.2h1.0v1.0h-1.0zM623.4 302.6h1.0v1.0h-1.0zM593.2 299.4h1.0v1.0h-1.0zM597.1 303.5h1.0v1.0h-1.0zM618.7 303.4h1.0v1.0h-1.0zM590.4 295.5h1.0v1.0h-1.0zM595.5 291.8h1.0v1.0h-1.0zM615.4 303.8h1.0v1.0h-1.0zM593.2 294.4h1.0v1.0h-1.0zM619.2 293.2h1.0v1.0h-1.0zM599.8 287.7h1.0v1.0h-1.0zM597.9 304.5h1.0v1.0h-1.0zM602.3 289.5h1.0v1.0h-1.0zM592.5 296.8h1.0v1.0h-1.0zM591.0 296.6h1.0v1.0h-1.0zM622.1 301.4h1.0v1.0h-1.0zM622.0 293.6h1.0v1.0h-1.0zM596.1 288.4h1.0v1.0h-1.0zM623.4 295.9h1.0v1.0h-1.0zM604.9 306.1h1.0v1.0h-1.0zM592.7 291.3h1.0v1.0h-1.0zM614.5 306.0h1.0v1.0h-1.0zM618.7 303.7h1.0v1.0h-1.0zM598.3 288.6h1.0v1.0h-1.0zM596.7 290.6h1.0v1.0h-1.0zM621.7 293.2h1.0v1.0h-1.0zM597.5 288.8h1.0v1.0h-1.0zM621.5 300.4h1.0v1.0h-1.0zM604.4 287.5h1.0v1.0h-1.0z" fill="#000088"/><path d="M612.8 288.7h0.9v0.9h-0.9zM614.2 298.3h0.9v0.9h-0.9zM602.6 298.2h0.9v0.9h-0.9zM613.9 298.0h0.9v0.9h-0.9zM600.2 301.1h0.9v0.9h-0.9zM601.3 298.9h0.9v0.9h-0.9zM616.3 305.2h0.9v0.9h-0.9zM622.2 304.2h0.9v0.9h-0.9zM609.2 296.7h0.9v0.9h-0.9zM609.3 300.5h0.9v0.9h-0.9zM599.3 304.8h0.9v0.9h-0.9zM592.4 301.5h0.9v0.9h-0.9zM596.3 290.9h0.9v0.9h-0.9zM603.2 295.7h0.9v0.9h-0.9zM594.9 299.7h0.9v0.9h-0.9zM606.1 304.5h0.9v0.9h-0.9zM599.1 287.4h0.9v0.9h-0.9zM614.3 297.0h0.9v0.9h-0.9zM617.9 286.3h0.9v0.9h-0.9zM596.0 297.1h0.9v0.9h-0.9zM626.6 292.8h0.9v0.9h-0.9zM590.1 293.7h0.9v0.9h-0.9zM620.3 307.0h0.9v0.9h-0.9zM595.3 293.3h0.9v0.9h-0.9zM590.9 291.7h0.9v0.9h-0.9zM598.6 299.0h0.9v0.9h-0.9zM617.3 310.9h0.9v0.9h-0.9zM604.0 301.6h0.9v0.9h-0.9zM609.7 298.4h0.9v0.9h-0.9zM625.5 302.8h0.9v0.9h-0.9zM622.2 300.4h0.9v0.9h-0.9zM615.6 301.0h0.9v0.9h-0.9zM607.2 293.9h0.9v0.9h-0.9zM604.0 297.3h0.9v0.9h-0.9zM604.3 295.5h0.9v0.9h-0.9zM600.8 301.5h0.9v0.9h-0.9zM605.5 296.8h0.9v0.9h-0.9zM605.1 304.2h0.9v0.9h-0.9zM602.1 304.5h0.9v0.9h-0.9zM599.0 304.8h0.9v0.9h-0.9zM613.7 295.6h0.9v0.9h-0.9zM611.5 303.9h0.9v0.9h-0.9zM598.9 295.7h0.9v0.9h-0.9zM610.8 296.8h0.9v0.9h-0.9zM605.0 297.5h0.9v0.9h-0.9zM610.3 301.9h0.9v0.9h-0.9zM621.7 297.1h0.9v0.9h-0.9zM624.4 298.4h0.9v0.9h-0.9zM594.4 294.2h0.9v0.9h-0.9zM604.0 302.9h0.9v0.9h-0.9zM589.1 292.7h0.9v0.9h-0.9zM606.2 300.9h0.9v0.9h-0.9zM611.1 302.4h0.9v0.9h-0.9zM606.4 296.3h0.9v0.9h-0.9zM618.3 307.5h0.9v0.9h-0.9zM611.2 298.7h0.9v0.9h-0.9zM598.8 307.8h0.9v0.9h-0.9zM611.2 301.1h0.9v0.9h-0.9zM592.5 299.4h0.9v0.9h-0.9zM630.6 298.8h0.9v0.9h-0.9zM605.1 305.4h0.9v0.9h-0.9zM605.6 301.8h0.9v0.9h-0.9zM626.4 293.2h0.9v0.9h-0.9zM599.7 300.5h0.9v0.9h-0.9zM608.8 297.9h0.9v0.9h-0.9zM606.1 298.1h0.9v0.9h-0.9zM611.3 295.4h0.9v0.9h-0.9zM605.0 298.6h0.9v0.9h-0.9zM597.4 299.0h0.9v0.9h-0.9zM586.9 299.1h0.9v0.9h-0.9zM607.1 291.4h0.9v0.9h-0.9zM620.9 292.7h0.9v0.9h-0.9zM627.4 295.5h0.9v0.9h-0.9zM619.1 298.3h0.9v0.9h-0.9zM623.0 297.8h0.9v0.9h-0.9zM617.5 296.8h0.9v0.9h-0.9zM590.0 298.1h0.9v0.9h-0.9zM612.0 300.1h0.9v0.9h-0.9zM623.7 295.2h0.9v0.9h-0.9zM594.2 297.8h0.9v0.9h-0.9zM601.3 296.5h0.9v0.9h-0.9zM608.1 293.4h0.9v0.9h-0.9zM618.0 297.9h0.9v0.9h-0.9zM624.4 300.4h0.9v0.9h-0.9zM617.8 297.0h0.9v0.9h-0.9zM601.8 294.4h0.9v0.9h-0.9zM599.3 299.2h0.9v0.9h-0.9zM609.5 292.2h0.9v0.9h-0.9zM593.7 291.9h0.9v0.9h-0.9zM591.0 291.6h0.9v0.9h-0.9zM593.2 300.0h0.9v0.9h-0.9zM597.1 293.6h0.9v0.9h-0.9zM606.6 297.7h0.9v0.9h-0.9zM611.3 301.9h0.9v0.9h-0.9zM613.9 296.4h0.9v0.9h-0.9zM619.3 300.6h0.9v0.9h-0.9zM600.4 304.8h0.9v0.9h-0.9zM596.4 299.1h0.9v0.9h-0.9zM619.5 299.2h0.9v0.9h-0.9zM610.9 298.5h0.9v0.9h-0.9zM613.9 299.3h0.9v0.9h-0.9zM607.5 301.3h0.9v0.9h-0.9zM589.9 297.4h0.9v0.9h-0.9zM604.0 307.5h0.9v0.9h-0.9zM610.7 294.5h0.9v0.9h-0.9zM614.0 296.2h0.9v0.9h-0.9zM596.7 295.2h0.9v0.9h-0.9zM611.9 304.2h0.9v0.9h-0.9zM617.5 299.7h0.9v0.9h-0.9zM606.1 298.5h0.9v0.9h-0.9zM619.1 298.0h0.9v0.9h-0.9zM619.0 294.5h0.9v0.9h-0.9zM607.3 301.6h0.9v0.9h-0.9zM614.2 299.2h0.9v0.9h-0.9zM603.7 288.0h0.9v0.9h-0.9zM604.0 292.9h0.9v0.9h-0.9zM603.2 305.4h0.9v0.9h-0.9zM600.1 301.3h0.9v0.9h-0.9zM608.0 291.9h0.9v0.9h-0.9zM608.4 301.6h0.9v0.9h-0.9zM597.1 290.7h0.9v0.9h-0.9zM603.8 301.0h0.9v0.9h-0.9zM601.9 299.3h0.9v0.9h-0.9zM612.0 298.1h0.9v0.9h-0.9zM611.4 304.5h0.9v0.9h-0.9zM605.8 299.1h0.9v0.9h-0.9zM598.1 293.1h0.9v0.9h-0.9zM606.4 301.7h0.9v0.9h-0.9zM602.1 290.0h0.9v0.9h-0.9zM615.3 310.5h0.9v0.9h-0.9zM608.6 300.2h0.9v0.9h-0.9zM598.7 298.6h0.9v0.9h-0.9zM618.1 297.1h0.9v0.9h-0.9zM614.5 298.9h0.9v0.9h-0.9zM599.3 293.7h0.9v0.9h-0.9zM601.4 303.9h0.9v0.9h-0.9zM618.4 299.8h0.9v0.9h-0.9zM593.3 293.9h0.9v0.9h-0.9zM604.8 287.5h0.9v0.9h-0.9zM607.4 299.1h0.9v0.9h-0.9zM595.5 294.4h0.9v0.9h-0.9zM602.6 306.7h0.9v0.9h-0.9zM613.6 302.1h0.9v0.9h-0.9zM609.1 291.2h0.9v0.9h-0.9zM616.7 294.9h0.9v0.9h-0.9zM589.4 299.8h0.9v0.9h-0.9zM604.5 297.3h0.9v0.9h-0.9zM612.6 296.9h0.9v0.9h-0.9zM611.0 304.5h0.9v0.9h-0.9zM604.9 295.6h0.9v0.9h-0.9zM607.6 300.9h0.9v0.9h-0.9zM603.9 297.7h0.9v0.9h-0.9zM601.4 296.7h0.9v0.9h-0.9zM613.2 293.9h0.9v0.9h-0.9zM606.7 290.1h0.9v0.9h-0.9zM601.1 297.4h0.9v0.9h-0.9zM613.1 292.8h0.9v0.9h-0.9zM607.2 292.8h0.9v0.9h-0.9zM610.6 299.2h0.9v0.9h-0.9zM612.0 296.9h0.9v0.9h-0.9zM594.7 293.6h0.9v0.9h-0.9zM595.5 293.1h0.9v0.9h-0.9zM606.7 303.0h0.9v0.9h-0.9zM602.0 293.2h0.9v0.9h-0.9zM610.5 287.3h0.9v0.9h-0.9zM627.0 291.5h0.9v0.9h-0.9zM616.8 303.4h0.9v0.9h-0.9zM616.8 297.9h0.9v0.9h-0.9zM614.7 296.5h0.9v0.9h-0.9zM617.0 295.1h0.9v0.9h-0.9zM599.9 298.9h0.9v0.9h-0.9zM603.2 300.6h0.9v0.9h-0.9zM599.6 298.3h0.9v0.9h-0.9zM598.6 296.3h0.9v0.9h-0.9zM628.2 293.9h0.9v0.9h-0.9zM596.9 288.5h0.9v0.9h-0.9zM604.9 305.6h0.9v0.9h-0.9zM603.1 301.9h0.9v0.9h-0.9zM606.3 294.3h0.9v0.9h-0.9zM626.0 304.7h0.9v0.9h-0.9zM591.0 291.2h0.9v0.9h-0.9zM611.3 301.2h0.9v0.9h-0.9zM605.5 299.0h0.9v0.9h-0.9zM612.9 296.3h0.9v0.9h-0.9zM617.4 294.1h0.9v0.9h-0.9zM614.3 302.8h0.9v0.9h-0.9zM609.8 296.0h0.9v0.9h-0.9zM608.5 286.4h0.9v0.9h-0.9zM610.7 290.7h0.9v0.9h-0.9zM588.6 299.8h0.9v0.9h-0.9zM599.0 298.7h0.9v0.9h-0.9zM608.9 288.8h0.9v0.9h-0.9zM599.4 295.5h0.9v0.9h-0.9zM612.0 298.3h0.9v0.9h-0.9zM596.2 293.9h0.9v0.9h-0.9zM609.2 291.3h0.9v0.9h-0.9zM603.8 294.5h0.9v0.9h-0.9zM616.1 296.0h0.9v0.9h-0.9zM617.0 293.1h0.9v0.9h-0.9zM622.1 297.0h0.9v0.9h-0.9zM609.3 294.8h0.9v0.9h-0.9zM608.4 299.3h0.9v0.9h-0.9zM608.4 293.5h0.9v0.9h-0.9zM614.5 301.0h0.9v0.9h-0.9zM607.3 302.9h0.9v0.9h-0.9zM600.3 303.4h0.9v0.9h-0.9zM605.6 305.1h0.9v0.9h-0.9zM603.7 296.0h0.9v0.9h-0.9zM609.2 303.3h0.9v0.9h-0.9zM621.3 296.5h0.9v0.9h-0.9zM600.6 300.8h0.9v0.9h-0.9zM619.0 302.2h0.9v0.9h-0.9zM604.1 303.7h0.9v0.9h-0.9zM607.4 298.4h0.9v0.9h-0.9zM613.7 295.3h0.9v0.9h-0.9zM586.5 296.9h0.9v0.9h-0.9zM614.2 300.4h0.9v0.9h-0.9zM612.7 298.9h0.9v0.9h-0.9zM617.4 299.0h0.9v0.9h-0.9zM621.6 299.1h0.9v0.9h-0.9zM615.4 295.5h0.9v0.9h-0.9zM610.3 300.0h0.9v0.9h-0.9zM608.3 305.5h0.9v0.9h-0.9zM607.6 303.3h0.9v0.9h-0.9zM610.5 303.4h0.9v0.9h-0.9zM599.5 295.0h0.9v0.9h-0.9zM617.1 294.3h0.9v0.9h-0.9zM611.1 300.8h0.9v0.9h-0.9zM609.3 300.0h0.9v0.9h-0.9zM612.9 296.9h0.9v0.9h-0.9zM611.8 295.4h0.9v0.9h-0.9zM604.2 289.3h0.9v0.9h-0.9zM607.5 289.0h0.9v0.9h-0.9zM607.9 298.7h0.9v0.9h-0.9zM597.5 297.1h0.9v0.9h-0.9zM610.6 296.1h0.9v0.9h-0.9zM599.3 296.3h0.9v0.9h-0.9zM611.1 302.6h0.9v0.9h-0.9zM610.7 300.1h0.9v0.9h-0.9zM601.6 298.7h0.9v0.9h-0.9zM627.2 299.9h0.9v0.9h-0.9zM620.0 304.1h0.9v0.9h-0.9zM604.6 285.7h0.9v0.9h-0.9zM617.9 306.3h0.9v0.9h-0.9zM591.4 295.2h0.9v0.9h-0.9zM601.1 298.1h0.9v0.9h-0.9zM607.8 303.4h0.9v0.9h-0.9zM601.4 306.8h0.9v0.9h-0.9zM591.7 297.3h0.9v0.9h-0.9zM632.7 299.3h0.9v0.9h-0.9zM613.8 295.8h0.9v0.9h-0.9zM605.3 287.7h0.9v0.9h-0.9zM609.4 301.5h0.9v0.9h-0.9zM588.9 293.5h0.9v0.9h-0.9zM614.0 286.0h0.9v0.9h-0.9zM606.6 289.5h0.9v0.9h-0.9zM595.0 298.5h0.9v0.9h-0.9zM617.8 304.4h0.9v0.9h-0.9zM601.4 299.6h0.9v0.9h-0.9zM591.8 288.7h0.9v0.9h-0.9zM613.0 296.1h0.9v0.9h-0.9zM599.0 287.4h0.9v0.9h-0.9zM604.5 308.6h0.9v0.9h-0.9zM589.3 290.7h0.9v0.9h-0.9zM619.1 288.9h0.9v0.9h-0.9zM601.9 297.4h0.9v0.9h-0.9zM618.3 298.2h0.9v0.9h-0.9zM624.8 298.9h0.9v0.9h-0.9zM606.5 299.7h0.9v0.9h-0.9zM611.7 290.4h0.9v0.9h-0.9zM598.9 295.7h0.9v0.9h-0.9zM611.4 291.7h0.9v0.9h-0.9zM601.3 293.3h0.9v0.9h-0.9zM611.1 295.7h0.9v0.9h-0.9zM613.2 300.0h0.9v0.9h-0.9zM599.3 295.4h0.9v0.9h-0.9zM596.0 297.1h0.9v0.9h-0.9zM615.7 293.3h0.9v0.9h-0.9zM590.9 298.8h0.9v0.9h-0.9zM605.0 297.2h0.9v0.9h-0.9zM611.9 299.9h0.9v0.9h-0.9zM616.6 296.1h0.9v0.9h-0.9zM587.3 293.3h0.9v0.9h-0.9zM605.0 295.3h0.9v0.9h-0.9zM611.5 296.7h0.9v0.9h-0.9zM620.1 295.5h0.9v0.9h-0.9zM607.8 295.8h0.9v0.9h-0.9zM628.0 294.5h0.9v0.9h-0.9zM598.5 294.9h0.9v0.9h-0.9zM614.9 298.3h0.9v0.9h-0.9zM606.7 290.1h0.9v0.9h-0.9zM588.3 294.8h0.9v0.9h-0.9zM604.7 306.3h0.9v0.9h-0.9zM611.0 300.1h0.9v0.9h-0.9zM617.2 293.9h0.9v0.9h-0.9zM596.3 294.7h0.9v0.9h-0.9zM621.2 303.8h0.9v0.9h-0.9zM602.8 290.9h0.9v0.9h-0.9zM615.9 303.9h0.9v0.9h-0.9zM596.7 304.8h0.9v0.9h-0.9zM600.1 300.8h0.9v0.9h-0.9zM605.9 295.8h0.9v0.9h-0.9zM601.6 300.6h0.9v0.9h-0.9zM613.2 302.2h0.9v0.9h-0.9zM605.4 293.1h0.9v0.9h-0.9zM606.4 291.6h0.9v0.9h-0.9zM621.7 299.5h0.9v0.9h-0.9zM607.9 302.0h0.9v0.9h-0.9zM611.0 298.5h0.9v0.9h-0.9zM614.2 293.1h0.9v0.9h-0.9zM608.5 296.8h0.9v0.9h-0.9zM611.3 285.6h0.9v0.9h-0.9zM613.2 310.0h0.9v0.9h-0.9zM603.4 301.8h0.9v0.9h-0.9zM613.5 299.6h0.9v0.9h-0.9zM602.7 300.4h0.9v0.9h-0.9zM609.6 305.2h0.9v0.9h-0.9zM615.9 294.7h0.9v0.9h-0.9zM612.2 298.9h0.9v0.9h-0.9zM600.9 309.8h0.9v0.9h-0.9zM620.3 299.2h0.9v0.9h-0.9zM604.0 300.2h0.9v0.9h-0.9zM620.3 301.4h0.9v0.9h-0.9zM616.5 299.7h0.9v0.9h-0.9zM611.6 291.4h0.9v0.9h-0.9zM608.8 298.0h0.9v0.9h-0.9zM607.1 296.3h0.9v0.9h-0.9zM610.9 294.9h0.9v0.9h-0.9zM606.4 290.8h0.9v0.9h-0.9zM629.9 295.0h0.9v0.9h-0.9zM596.6 293.9h0.9v0.9h-0.9zM604.3 291.8h0.9v0.9h-0.9zM617.5 296.5h0.9v0.9h-0.9zM613.5 292.4h0.9v0.9h-0.9zM592.3 298.0h0.9v0.9h-0.9zM613.4 294.6h0.9v0.9h-0.9zM606.0 302.9h0.9v0.9h-0.9zM609.2 298.7h0.9v0.9h-0.9zM614.1 287.4h0.9v0.9h-0.9zM596.1 290.0h0.9v0.9h-0.9zM610.3 294.6h0.9v0.9h-0.9zM589.5 300.6h0.9v0.9h-0.9zM605.5 302.5h0.9v0.9h-0.9zM627.4 290.8h0.9v0.9h-0.9zM595.2 302.1h0.9v0.9h-0.9zM620.8 300.8h0.9v0.9h-0.9zM610.8 301.5h0.9v0.9h-0.9zM614.5 291.6h0.9v0.9h-0.9zM614.3 303.3h0.9v0.9h-0.9zM604.3 292.6h0.9v0.9h-0.9zM603.4 294.2h0.9v0.9h-0.9zM612.3 302.0h0.9v0.9h-0.9zM608.1 296.0h0.9v0.9h-0.9zM591.2 294.0h0.9v0.9h-0.9zM598.6 293.9h0.9v0.9h-0.9zM610.9 298.7h0.9v0.9h-0.9zM603.2 291.3h0.9v0.9h-0.9zM605.4 295.9h0.9v0.9h-0.9zM618.0 288.4h0.9v0.9h-0.9zM616.0 301.7h0.9v0.9h-0.9zM603.1 293.6h0.9v0.9h-0.9zM609.3 300.4h0.9v0.9h-0.9zM606.3 296.7h0.9v0.9h-0.9zM608.4 292.0h0.9v0.9h-0.9zM610.0 300.8h0.9v0.9h-0.9zM608.7 291.8h0.9v0.9h-0.9zM607.8 297.0h0.9v0.9h-0.9zM610.9 295.7h0.9v0.9h-0.9zM615.0 303.9h0.9v0.9h-0.9zM615.4 299.5h0.9v0.9h-0.9zM619.2 298.4h0.9v0.9h-0.9zM606.8 290.1h0.9v0.9h-0.9zM607.3 303.9h0.9v0.9h-0.9zM598.4 300.8h0.9v0.9h-0.9zM595.7 298.1h0.9v0.9h-0.9zM624.8 299.3h0.9v0.9h-0.9zM596.6 298.1h0.9v0.9h-0.9zM606.0 301.6h0.9v0.9h-0.9zM603.6 288.2h0.9v0.9h-0.9zM603.0 300.2h0.9v0.9h-0.9zM617.2 299.8h0.9v0.9h-0.9zM607.6 301.1h0.9v0.9h-0.9zM606.1 295.1h0.9v0.9h-0.9zM609.3 303.4h0.9v0.9h-0.9zM602.8 299.7h0.9v0.9h-0.9zM602.1 293.3h0.9v0.9h-0.9zM609.9 290.9h0.9v0.9h-0.9zM600.3 290.8h0.9v0.9h-0.9zM602.5 292.4h0.9v0.9h-0.9zM629.1 302.6h0.9v0.9h-0.9zM609.0 290.8h0.9v0.9h-0.9zM585.4 297.9h0.9v0.9h-0.9zM601.4 302.5h0.9v0.9h-0.9zM604.6 290.5h0.9v0.9h-0.9zM602.5 289.2h0.9v0.9h-0.9zM594.3 300.1h0.9v0.9h-0.9zM602.5 300.7h0.9v0.9h-0.9zM602.6 295.9h0.9v0.9h-0.9zM602.9 294.3h0.9v0.9h-0.9zM600.9 304.7h0.9v0.9h-0.9zM608.1 287.5h0.9v0.9h-0.9zM622.9 305.4h0.9v0.9h-0.9zM618.2 297.9h0.9v0.9h-0.9zM606.5 295.0h0.9v0.9h-0.9zM608.7 300.1h0.9v0.9h-0.9zM608.1 293.3h0.9v0.9h-0.9zM598.0 305.4h0.9v0.9h-0.9zM623.9 292.5h0.9v0.9h-0.9zM601.8 296.8h0.9v0.9h-0.9zM613.2 297.4h0.9v0.9h-0.9zM609.8 299.6h0.9v0.9h-0.9zM618.9 291.8h0.9v0.9h-0.9zM617.7 300.7h0.9v0.9h-0.9zM613.4 290.2h0.9v0.9h-0.9zM605.7 296.0h0.9v0.9h-0.9zM613.3 301.6h0.9v0.9h-0.9zM614.7 291.4h0.9v0.9h-0.9zM619.3 298.9h0.9v0.9h-0.9zM616.3 298.2h0.9v0.9h-0.9zM613.4 302.0h0.9v0.9h-0.9z" fill="#000090"/><path d="M601.2 295.3h0.8v0.8h-0.8zM623.6 302.3h0.8v0.8h-0.8zM632.4 308.7h0.8v0.8h-0.8zM593.1 284.7h0.8v0.8h-0.8zM624.2 303.5h0.8v0.8h-0.8zM604.2 295.0h0.8v0.8h-0.8zM598.5 310.2h0.8v0.8h-0.8zM606.3 287.0h0.8v0.8h-0.8zM621.0 298.0h0.8v0.8h-0.8zM613.2 295.1h0.8v0.8h-0.8zM608.4 283.5h0.8v0.8h-0.8zM616.0 293.1h0.8v0.8h-0.8zM602.0 299.4h0.8v0.8h-0.8zM627.7 283.1h0.8v0.8h-0.8zM605.5 301.4h0.8v0.8h-0.8zM623.0 292.0h0.8v0.8h-0.8zM612.1 300.9h0.8v0.8h-0.8zM621.6 294.1h0.8v0.8h-0.8zM605.4 293.5h0.8v0.8h-0.8zM623.5 307.0h0.8v0.8h-0.8zM601.5 295.9h0.8v0.8h-0.8zM611.6 291.1h0.8v0.8h-0.8zM605.6 303.8h0.8v0.8h-0.8zM619.4 293.4h0.8v0.8h-0.8zM598.5 295.8h0.8v0.8h-0.8zM586.5 298.0h0.8v0.8h-0.8zM610.4 287.7h0.8v0.8h-0.8zM604.9 292.3h0.8v0.8h-0.8zM604.5 290.6h0.8v0.8h-0.8zM628.1 292.0h0.8v0.8h-0.8zM618.6 300.0h0.8v0.8h-0.8zM628.6 298.9h0.8v0.8h-0.8zM607.8 298.0h0.8v0.8h-0.8zM605.0 294.9h0.8v0.8h-0.8zM591.8 295.1h0.8v0.8h-0.8zM631.4 293.9h0.8v0.8h-0.8zM613.5 305.7h0.8v0.8h-0.8zM621.6 295.7h0.8v0.8h-0.8zM582.6 298.3h0.8v0.8h-0.8zM616.2 295.8h0.8v0.8h-0.8zM600.6 310.0h0.8v0.8h-0.8zM585.6 291.7h0.8v0.8h-0.8zM600.2 285.1h0.8v0.8h-0.8zM598.5 290.7h0.8v0.8h-0.8zM626.8 286.0h0.8v0.8h-0.8zM588.1 297.7h0.8v0.8h-0.8zM587.1 280.6h0.8v0.8h-0.8zM599.8 287.7h0.8v0.8h-0.8zM594.1 295.1h0.8v0.8h-0.8zM614.7 293.2h0.8v0.8h-0.8zM603.5 302.5h0.8v0.8h-0.8zM605.2 302.8h0.8v0.8h-0.8zM599.2 300.4h0.8v0.8h-0.8zM626.9 288.8h0.8v0.8h-0.8zM603.2 295.9h0.8v0.8h-0.8zM615.3 289.0h0.8v0.8h-0.8zM608.8 293.2h0.8v0.8h-0.8zM629.3 286.4h0.8v0.8h-0.8zM617.3 295.9h0.8v0.8h-0.8zM597.2 297.6h0.8v0.8h-0.8zM604.5 297.5h0.8v0.8h-0.8zM610.5 306.7h0.8v0.8h-0.8zM601.1 309.4h0.8v0.8h-0.8zM624.1 310.6h0.8v0.8h-0.8zM610.5 299.8h0.8v0.8h-0.8zM592.7 306.2h0.8v0.8h-0.8zM592.0 290.1h0.8v0.8h-0.8zM607.7 299.2h0.8v0.8h-0.8zM613.5 289.2h0.8v0.8h-0.8zM602.7 300.7h0.8v0.8h-0.8zM624.2 304.6h0.8v0.8h-0.8zM613.9 296.0h0.8v0.8h-0.8zM600.6 293.0h0.8v0.8h-0.8zM606.2 301.3h0.8v0.8h-0.8zM599.4 312.2h0.8v0.8h-0.8zM593.2 302.3h0.8v0.8h-0.8zM605.1 296.2h0.8v0.8h-0.8zM601.5 308.4h0.8v0.8h-0.8zM603.3 301.2h0.8v0.8h-0.8zM609.1 303.2h0.8v0.8h-0.8zM615.1 310.5h0.8v0.8h-0.8zM598.1 290.5h0.8v0.8h-0.8zM631.0 309.1h0.8v0.8h-0.8zM609.1 295.4h0.8v0.8h-0.8zM610.7 307.5h0.8v0.8h-0.8zM596.2 307.3h0.8v0.8h-0.8zM607.4 294.7h0.8v0.8h-0.8zM603.7 281.4h0.8v0.8h-0.8zM613.3 288.1h0.8v0.8h-0.8zM600.6 290.1h0.8v0.8h-0.8zM610.8 303.1h0.8v0.8h-0.8zM608.4 298.9h0.8v0.8h-0.8zM612.7 309.9h0.8v0.8h-0.8zM615.1 309.9h0.8v0.8h-0.8zM606.8 300.0h0.8v0.8h-0.8zM598.4 301.1h0.8v0.8h-0.8zM595.5 299.9h0.8v0.8h-0.8zM599.2 294.1h0.8v0.8h-0.8zM625.0 300.1h0.8v0.8h-0.8zM619.3 296.7h0.8v0.8h-0.8zM580.7 306.1h0.8v0.8h-0.8zM605.8 292.4h0.8v0.8h-0.8zM622.0 290.2h0.8v0.8h-0.8zM596.7 305.1h0.8v0.8h-0.8zM597.4 305.0h0.8v0.8h-0.8zM603.8 295.5h0.8v0.8h-0.8zM609.2 293.9h0.8v0.8h-0.8zM622.3 307.0h0.8v0.8h-0.8zM608.5 302.1h0.8v0.8h-0.8zM614.5 310.7h0.8v0.8h-0.8zM584.9 303.2h0.8v0.8h-0.8zM621.0 296.3h0.8v0.8h-0.8zM608.4 294.9h0.8v0.8h-0.8zM626.1 290.5h0.8v0.8h-0.8zM615.7 307.8h0.8v0.8h-0.8zM616.3 294.6h0.8v0.8h-0.8zM602.8 281.2h0.8v0.8h-0.8zM592.8 304.4h0.8v0.8h-0.8zM595.7 284.1h0.8v0.8h-0.8zM605.5 286.1h0.8v0.8h-0.8zM615.0 291.6h0.8v0.8h-0.8zM621.4 297.8h0.8v0.8h-0.8zM588.5 290.0h0.8v0.8h-0.8zM599.4 290.4h0.8v0.8h-0.8zM626.0 291.5h0.8v0.8h-0.8zM613.5 293.6h0.8v0.8h-0.8zM617.2 287.6h0.8v0.8h-0.8zM585.6 299.4h0.8v0.8h-0.8zM629.0 288.9h0.8v0.8h-0.8zM603.9 293.3h0.8v0.8h-0.8zM594.2 303.6h0.8v0.8h-0.8zM609.5 287.2h0.8v0.8h-0.8zM604.1 307.2h0.8v0.8h-0.8zM598.3 292.8h0.8v0.8h-0.8zM596.2 297.7h0.8v0.8h-0.8zM599.6 303.4h0.8v0.8h-0.8zM597.2 285.6h0.8v0.8h-0.8zM594.4 298.4h0.8v0.8h-0.8zM611.8 293.5h0.8v0.8h-0.8zM601.4 300.8h0.8v0.8h-0.8zM605.7 293.9h0.8v0.8h-0.8zM615.7 298.2h0.8v0.8h-0.8zM614.7 310.3h0.8v0.8h-0.8zM604.3 295.0h0.8v0.8h-0.8zM611.9 313.6h0.8v0.8h-0.8zM601.8 309.6h0.8v0.8h-0.8zM594.6 289.0h0.8v0.8h-0.8zM612.7 307.9h0.8v0.8h-0.8zM608.6 298.8h0.8v0.8h-0.8zM638.2 302.8h0.8v0.8h-0.8zM638.8 293.5h0.8v0.8h-0.8zM631.5 295.8h0.8v0.8h-0.8zM574.4 288.3h0.8v0.8h-0.8zM601.3 296.6h0.8v0.8h-0.8zM618.2 303.6h0.8v0.8h-0.8zM615.8 292.6h0.8v0.8h-0.8zM632.3 308.6h0.8v0.8h-0.8zM608.8 293.3h0.8v0.8h-0.8zM607.4 295.8h0.8v0.8h-0.8zM598.2 296.6h0.8v0.8h-0.8zM598.2 301.5h0.8v0.8h-0.8zM598.5 300.4h0.8v0.8h-0.8zM612.4 299.1h0.8v0.8h-0.8zM616.0 290.5h0.8v0.8h-0.8zM644.7 295.5h0.8v0.8h-0.8zM618.3 298.6h0.8v0.8h-0.8zM600.7 310.0h0.8v0.8h-0.8zM623.7 296.8h0.8v0.8h-0.8zM615.5 303.3h0.8v0.8h-0.8zM629.6 307.0h0.8v0.8h-0.8zM605.7 295.4h0.8v0.8h-0.8zM591.4 298.0h0.8v0.8h-0.8zM620.4 295.7h0.8v0.8h-0.8zM617.2 299.3h0.8v0.8h-0.8zM602.2 287.9h0.8v0.8h-0.8zM616.4 290.1h0.8v0.8h-0.8zM593.2 298.1h0.8v0.8h-0.8zM616.1 309.7h0.8v0.8h-0.8zM610.2 298.8h0.8v0.8h-0.8zM613.6 295.4h0.8v0.8h-0.8zM603.2 305.0h0.8v0.8h-0.8zM583.5 294.5h0.8v0.8h-0.8zM616.9 285.9h0.8v0.8h-0.8zM604.7 308.8h0.8v0.8h-0.8zM612.7 303.3h0.8v0.8h-0.8zM617.8 300.1h0.8v0.8h-0.8zM613.5 291.9h0.8v0.8h-0.8zM603.8 311.1h0.8v0.8h-0.8zM590.7 294.8h0.8v0.8h-0.8zM590.4 292.0h0.8v0.8h-0.8zM597.8 287.4h0.8v0.8h-0.8zM612.0 290.8h0.8v0.8h-0.8zM614.2 311.7h0.8v0.8h-0.8zM571.8 293.1h0.8v0.8h-0.8zM578.4 294.0h0.8v0.8h-0.8zM613.1 299.6h0.8v0.8h-0.8zM624.9 300.2h0.8v0.8h-0.8zM582.5 306.7h0.8v0.8h-0.8zM594.6 295.7h0.8v0.8h-0.8zM613.1 291.4h0.8v0.8h-0.8zM608.2 308.8h0.8v0.8h-0.8zM585.1 283.0h0.8v0.8h-0.8zM601.7 295.8h0.8v0.8h-0.8zM591.3 278.8h0.8v0.8h-0.8zM620.6 301.6h0.8v0.8h-0.8zM588.7 300.2h0.8v0.8h-0.8zM606.9 298.7h0.8v0.8h-0.8zM589.1 294.3h0.8v0.8h-0.8zM615.9 285.1h0.8v0.8h-0.8zM592.4 303.5h0.8v0.8h-0.8zM635.8 305.0h0.8v0.8h-0.8zM607.6 289.4h0.8v0.8h-0.8zM602.3 295.2h0.8v0.8h-0.8zM614.3 296.2h0.8v0.8h-0.8zM577.4 286.1h0.8v0.8h-0.8zM607.2 304.9h0.8v0.8h-0.8zM583.6 305.6h0.8v0.8h-0.8zM614.6 317.5h0.8v0.8h-0.8zM619.0 302.0h0.8v0.8h-0.8zM629.9 296.1h0.8v0.8h-0.8zM600.8 289.3h0.8v0.8h-0.8zM611.1 301.2h0.8v0.8h-0.8zM620.3 309.6h0.8v0.8h-0.8zM616.0 307.6h0.8v0.8h-0.8zM605.0 290.1h0.8v0.8h-0.8zM617.6 306.1h0.8v0.8h-0.8zM627.1 298.0h0.8v0.8h-0.8zM601.4 294.3h0.8v0.8h-0.8zM613.0 297.7h0.8v0.8h-0.8zM605.1 299.3h0.8v0.8h-0.8zM603.5 299.7h0.8v0.8h-0.8zM600.3 285.3h0.8v0.8h-0.8zM602.2 311.4h0.8v0.8h-0.8zM595.7 303.4h0.8v0.8h-0.8zM627.4 295.2h0.8v0.8h-0.8zM613.0 280.8h0.8v0.8h-0.8zM615.0 309.8h0.8v0.8h-0.8zM611.8 282.9h0.8v0.8h-0.8zM600.1 291.3h0.8v0.8h-0.8zM609.3 299.9h0.8v0.8h-0.8z" fill="#1818a0"/><path d="M599.5 294.1h0.8v0.8h-0.8zM590.3 301.2h0.8v0.8h-0.8zM611.8 301.1h0.8v0.8h-0.8zM597.0 301.1h0.8v0.8h-0.8zM601.4 299.7h0.8v0.8h-0.8zM605.1 291.3h0.8v0.8h-0.8zM586.4 278.8h0.8v0.8h-0.8zM578.9 299.2h0.8v0.8h-0.8zM590.8 296.0h0.8v0.8h-0.8zM583.1 299.2h0.8v0.8h-0.8zM582.3 306.6h0.8v0.8h-0.8zM583.5 294.5h0.8v0.8h-0.8zM594.0 303.3h0.8v0.8h-0.8zM577.0 297.7h0.8v0.8h-0.8zM612.0 303.1h0.8v0.8h-0.8zM616.8 299.8h0.8v0.8h-0.8zM570.7 291.4h0.8v0.8h-0.8zM587.5 300.6h0.8v0.8h-0.8zM602.8 298.5h0.8v0.8h-0.8zM631.2 298.7h0.8v0.8h-0.8zM642.7 308.2h0.8v0.8h-0.8zM577.0 289.6h0.8v0.8h-0.8zM633.9 295.4h0.8v0.8h-0.8zM633.5 294.8h0.8v0.8h-0.8zM604.4 306.6h0.8v0.8h-0.8zM574.5 295.4h0.8v0.8h-0.8zM598.1 298.3h0.8v0.8h-0.8zM643.6 305.2h0.8v0.8h-0.8zM578.5 303.7h0.8v0.8h-0.8zM598.1 298.3h0.8v0.8h-0.8zM632.5 297.0h0.8v0.8h-0.8zM627.9 301.0h0.8v0.8h-0.8zM589.0 293.2h0.8v0.8h-0.8zM578.2 305.7h0.8v0.8h-0.8zM610.5 306.6h0.8v0.8h-0.8zM583.6 303.2h0.8v0.8h-0.8zM582.3 297.9h0.8v0.8h-0.8zM608.0 292.3h0.8v0.8h-0.8zM614.3 298.5h0.8v0.8h-0.8zM590.0 289.3h0.8v0.8h-0.8zM579.1 307.5h0.8v0.8h-0.8zM611.2 294.6h0.8v0.8h-0.8zM623.1 291.2h0.8v0.8h-0.8zM582.9 298.6h0.8v0.8h-0.8zM641.1 303.2h0.8v0.8h-0.8zM609.7 313.6h0.8v0.8h-0.8zM584.5 294.9h0.8v0.8h-0.8zM580.3 284.2h0.8v0.8h-0.8zM600.8 319.1h0.8v0.8h-0.8zM588.3 290.3h0.8v0.8h-0.8zM614.3 289.0h0.8v0.8h-0.8zM601.7 304.5h0.8v0.8h-0.8zM561.8 290.9h0.8v0.8h-0.8zM601.9 292.5h0.8v0.8h-0.8zM606.6 281.3h0.8v0.8h-0.8zM598.8 292.1h0.8v0.8h-0.8zM584.9 307.0h0.8v0.8h-0.8zM649.5 308.5h0.8v0.8h-0.8zM588.2 308.7h0.8v0.8h-0.8zM619.0 291.2h0.8v0.8h-0.8zM621.0 293.5h0.8v0.8h-0.8zM619.1 306.9h0.8v0.8h-0.8zM633.1 290.3h0.8v0.8h-0.8zM605.0 297.4h0.8v0.8h-0.8zM581.5 299.1h0.8v0.8h-0.8zM623.5 286.5h0.8v0.8h-0.8zM596.9 286.7h0.8v0.8h-0.8zM581.5 285.7h0.8v0.8h-0.8zM637.4 294.2h0.8v0.8h-0.8zM598.6 305.7h0.8v0.8h-0.8z" fill="#2828b0"/><radialGradient id="rg15"><stop offset="0" stop-color="#90f050" stop-opacity="1"/><stop offset="0.25" stop-color="#30e890" stop-opacity="1"/><stop offset="0.5" stop-color="#00c8e0" stop-opacity="1"/><stop offset="0.75" stop-color="#0060d8" stop-opacity="1"/><stop offset="1" stop-color="#000090" stop-opacity="0"/></radialGradient><ellipse cx="609.8" cy="297.4" rx="10.50" ry="4.60" transform="rotate(5 609.8 297.4)" fill="url(#rg15)"/><ellipse cx="610" cy="305" rx="0.09" ry="0.09" transform="rotate(0 610 305)" fill="#000088"/><path d="" fill="#000088"/><path d="M631.9 319.1h0.8v0.8h-0.8zM565.8 312.6h0.8v0.8h-0.8zM572.6 298.7h0.8v0.8h-0.8zM601.2 299.3h0.8v0.8h-0.8zM651.9 303.3h0.8v0.8h-0.8zM635.0 303.2h0.8v0.8h-0.8zM608.7 310.1h0.8v0.8h-0.8zM619.5 310.0h0.8v0.8h-0.8zM573.0 310.1h0.8v0.8h-0.8zM616.8 311.0h0.8v0.8h-0.8zM608.9 309.1h0.8v0.8h-0.8zM582.2 316.3h0.8v0.8h-0.8zM584.1 319.0h0.8v0.8h-0.8zM631.6 304.4h0.8v0.8h-0.8zM603.7 312.8h0.8v0.8h-0.8zM603.5 293.1h0.8v0.8h-0.8zM616.0 292.8h0.8v0.8h-0.8zM600.3 323.0h0.8v0.8h-0.8zM627.3 300.5h0.8v0.8h-0.8zM608.5 298.5h0.8v0.8h-0.8zM609.8 290.5h0.8v0.8h-0.8zM624.6 305.1h0.8v0.8h-0.8zM596.9 298.8h0.8v0.8h-0.8zM666.2 300.6h0.8v0.8h-0.8zM599.8 299.2h0.8v0.8h-0.8zM599.4 318.1h0.8v0.8h-0.8zM624.5 309.2h0.8v0.8h-0.8zM617.8 293.6h0.8v0.8h-0.8zM625.3 307.2h0.8v0.8h-0.8zM616.0 307.0h0.8v0.8h-0.8zM610.5 302.4h0.8v0.8h-0.8zM562.4 310.7h0.8v0.8h-0.8zM611.0 314.8h0.8v0.8h-0.8zM616.6 302.1h0.8v0.8h-0.8zM622.9 306.9h0.8v0.8h-0.8zM600.5 301.2h0.8v0.8h-0.8zM601.0 302.0h0.8v0.8h-0.8zM600.5 314.8h0.8v0.8h-0.8zM634.0 285.3h0.8v0.8h-0.8zM606.7 297.6h0.8v0.8h-0.8zM580.9 296.5h0.8v0.8h-0.8zM599.0 306.5h0.8v0.8h-0.8zM602.8 293.0h0.8v0.8h-0.8zM602.1 320.1h0.8v0.8h-0.8zM591.2 305.7h0.8v0.8h-0.8zM631.6 296.9h0.8v0.8h-0.8zM636.5 299.7h0.8v0.8h-0.8zM613.4 306.0h0.8v0.8h-0.8zM613.1 309.7h0.8v0.8h-0.8zM603.6 282.8h0.8v0.8h-0.8zM589.4 306.5h0.8v0.8h-0.8zM580.8 301.8h0.8v0.8h-0.8zM642.2 307.4h0.8v0.8h-0.8zM596.0 306.4h0.8v0.8h-0.8zM632.4 287.9h0.8v0.8h-0.8z" fill="#3030b8"/><radialGradient id="rg16"><stop offset="0" stop-color="#50f070" stop-opacity="1"/><stop offset="0.2" stop-color="#20e8b0" stop-opacity="1"/><stop offset="0.4" stop-color="#00c8e0" stop-opacity="1"/><stop offset="0.62" stop-color="#0080e0" stop-opacity="1"/><stop offset="0.82" stop-color="#0030b8" stop-opacity="1"/><stop offset="1" stop-color="#000088" stop-opacity="1"/></radialGradient><ellipse cx="610" cy="305" rx="0.00" ry="0.00" transform="rotate(0 610 305)" fill="url(#rg16)"/>
<path d="M537.7 365.8 A73.0 73.0 0 0 1 683.7 365.8" fill="none" stroke="#5a5a5a" stroke-width="1.0"/>
<circle cx="607.3" cy="299.6" r="6.4" fill="none" stroke="#a8a020" stroke-width="1.1"/>
<text x="606.60" y="351.80" font-size="10.4" fill="#9a9a1c" font-weight="bold" font-style="normal" text-anchor="middle" >Organoids</text>
<text x="373.40" y="191.20" font-size="10.4" fill="#1a1a1a" font-weight="bold" font-style="normal" text-anchor="start" >NP D</text>
<text x="498.8" y="196.6" font-size="10.2" fill="#2b2b2b">τ<tspan font-size="7.34" dy="2.75">ϕ</tspan><tspan dy="-2.75"> = 1.96 ns</tspan></text></svg>
</body></html>
